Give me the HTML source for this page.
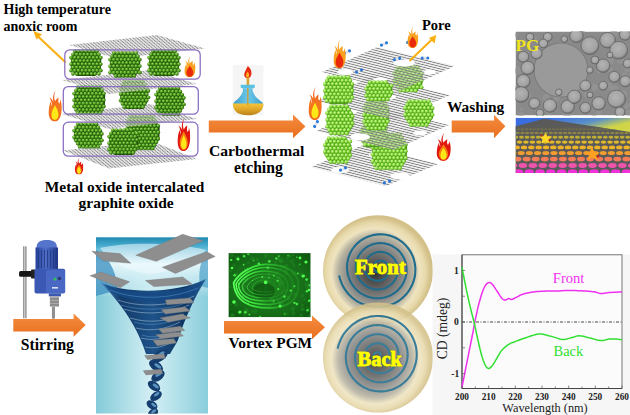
<!DOCTYPE html>
<html><head><meta charset="utf-8">
<style>
html,body{margin:0;padding:0;background:#fff;width:630px;height:415px;overflow:hidden}
svg{position:absolute;left:0;top:0;display:block}
text{font-family:"Liberation Serif",serif;font-weight:bold}
</style></head><body>
<svg width="630" height="415" viewBox="0 0 630 415">

<defs>
  <linearGradient id="arrowG" x1="0" y1="0" x2="0" y2="1">
    <stop offset="0" stop-color="#f48c40"/><stop offset="1" stop-color="#e96f1e"/>
  </linearGradient>
  <radialGradient id="ballD" cx="0.38" cy="0.35" r="0.7">
    <stop offset="0" stop-color="#a2e062"/><stop offset="0.5" stop-color="#4e9e1e"/><stop offset="1" stop-color="#225408"/>
  </radialGradient>
  <radialGradient id="ballL" cx="0.38" cy="0.35" r="0.7">
    <stop offset="0" stop-color="#dcffa8"/><stop offset="0.5" stop-color="#88dc3c"/><stop offset="1" stop-color="#4a9818"/>
  </radialGradient>
  <pattern id="balls" width="3.3" height="3.3" patternUnits="userSpaceOnUse">
    <rect width="3.3" height="3.3" fill="#2f6a10"/>
    <circle cx="1.65" cy="1.65" r="1.65" fill="url(#ballD)"/>
  </pattern>
  <pattern id="ballsL" width="3.5" height="3.5" patternUnits="userSpaceOnUse">
    <rect width="3.5" height="3.5" fill="#5aa828"/>
    <circle cx="1.75" cy="1.75" r="1.75" fill="url(#ballL)"/>
  </pattern>
  <pattern id="mesh" width="2.4" height="2.4" patternUnits="userSpaceOnUse" patternTransform="rotate(40)">
    <rect width="2.4" height="2.4" fill="#f6f6f6"/>
    <path d="M0 1.2H2.4" stroke="#858585" stroke-width="1"/>
    <path d="M1.2 0V2.4" stroke="#c8c8c8" stroke-width="0.5"/>
  </pattern>
  <pattern id="meshE" width="2.4" height="2.4" patternUnits="userSpaceOnUse" patternTransform="rotate(14)">
    <rect width="2.4" height="2.4" fill="#ffffff" fill-opacity="0.35"/>
    <path d="M0 1.2H2.4" stroke="#7c7c7c" stroke-width="1"/>
  </pattern>
  <pattern id="sheetTex" width="2" height="2" patternUnits="userSpaceOnUse">
    <rect width="2" height="2" fill="#8c8c8c"/>
    <rect width="1" height="1" fill="#9c9c9c"/>
    <rect x="1" y="1" width="1" height="1" fill="#7c7c7c"/>
  </pattern>
  <linearGradient id="flameG" x1="0" y1="0" x2="0" y2="1">
    <stop offset="0" stop-color="#f05020"/><stop offset="0.5" stop-color="#f47820"/><stop offset="1" stop-color="#f06818"/>
  </linearGradient>
  <linearGradient id="flameI" x1="0" y1="0" x2="0" y2="1">
    <stop offset="0" stop-color="#ffc030"/><stop offset="1" stop-color="#fff060"/>
  </linearGradient>
  <symbol id="flame" viewBox="0 0 20 40" preserveAspectRatio="none"><path d="M11 0 C9 4 8 9 10 14 C11 12 13 10 15 9 C15 13 14 15 16 17 C18 14 18 11 17 10 C20 16 20 24 19 29 C18 36 14 40 10 40 C5 40 1 36 1 29 C1 23 2 18 4 14 C4 17 5 19 6 20 C5 15 4 11 2 9 C5 10 7 13 8 15 C6 9 8 4 11 0 Z" fill="url(#flameG)"/><path d="M10 19 C12 23 15 26 15 31 C15 36 12 38 10 38 C7 38 5 36 5 31 C5 26 8 23 10 19 Z" fill="#ffe818"/></symbol>
  <symbol id="flameR" viewBox="0 0 20 40" preserveAspectRatio="none"><path d="M11 0 C9 4 8 9 10 14 C11 12 13 10 15 9 C15 13 14 15 16 17 C18 14 18 11 17 10 C20 16 20 24 19 29 C18 36 14 40 10 40 C5 40 1 36 1 29 C1 23 2 18 4 14 C4 17 5 19 6 20 C5 15 4 11 2 9 C5 10 7 13 8 15 C6 9 8 4 11 0 Z" fill="#e01810"/><path d="M10 16 C12 20 16 24 16 30 C16 35 13 39 10 39 C7 39 4 35 4 30 C4 24 8 20 10 16 Z" fill="#f88010"/><path d="M10 21 C12 25 14 28 14 32 C14 36 12 37.5 10 37.5 C8 37.5 6 36 6 32 C6 28 8 25 10 21 Z" fill="#ffe818"/></symbol>
  <symbol id="flameO" viewBox="0 0 20 40" preserveAspectRatio="none"><path d="M11 0 C9 4 8 9 10 14 C11 12 13 10 15 9 C15 13 14 15 16 17 C18 14 18 11 17 10 C20 16 20 24 19 29 C18 36 14 40 10 40 C5 40 1 36 1 29 C1 23 2 18 4 14 C4 17 5 19 6 20 C5 15 4 11 2 9 C5 10 7 13 8 15 C6 9 8 4 11 0 Z" fill="#f8a020"/><path d="M10 18 C12 22 16 26 16 31 C16 36 13 39 10 39 C7 39 4 36 4 31 C4 26 8 22 10 18 Z" fill="#e82a0a"/></symbol>
  <radialGradient id="diskG" cx="0.48" cy="0.52" r="0.5" fx="0.47" fy="0.53">
    <stop offset="0" stop-color="#333333"/>
    <stop offset="0.2" stop-color="#555555"/>
    <stop offset="0.5" stop-color="#8a8a88"/>
    <stop offset="0.68" stop-color="#b8b4a2"/>
    <stop offset="0.8" stop-color="#efe4c0"/>
    <stop offset="0.9" stop-color="#e8daac"/>
    <stop offset="1" stop-color="#d4c18a"/>
  </radialGradient>
  <linearGradient id="vbg" x1="0" y1="0" x2="1" y2="0">
    <stop offset="0" stop-color="#84cbd9"/><stop offset="0.5" stop-color="#d4eff4"/><stop offset="1" stop-color="#8acedc"/>
  </linearGradient>
  <linearGradient id="vtop" x1="0" y1="0" x2="0" y2="1">
    <stop offset="0" stop-color="#1f88b0"/><stop offset="0.15" stop-color="#4aaed0"/><stop offset="0.45" stop-color="#e4f6fa"/><stop offset="0.8" stop-color="#c8eaf2" stop-opacity="0.6"/><stop offset="1" stop-color="#c8eaf2" stop-opacity="0"/>
  </linearGradient>
  <linearGradient id="funnelG" x1="0" y1="0" x2="1" y2="0">
    <stop offset="0" stop-color="#4a8cc0"/><stop offset="0.2" stop-color="#123a6a"/><stop offset="0.5" stop-color="#1e5288"/><stop offset="0.8" stop-color="#0e3462"/><stop offset="1" stop-color="#2a6aa0"/>
  </linearGradient>
  <linearGradient id="gskyG" x1="0.3" y1="0" x2="0.8" y2="1">
    <stop offset="0" stop-color="#3a6ee0"/><stop offset="0.2" stop-color="#5a90c8"/><stop offset="0.35" stop-color="#d0d448"/><stop offset="1" stop-color="#e0e040"/>
  </linearGradient>
  <linearGradient id="ghexG" x1="0" y1="0" x2="0" y2="1">
    <stop offset="0" stop-color="#e8d020"/><stop offset="0.45" stop-color="#f0b028"/><stop offset="0.7" stop-color="#f07860"/><stop offset="1" stop-color="#f030d0"/>
  </linearGradient>
  <clipPath id="temClip"><rect x="515.5" y="31.5" width="114.5" height="84"/></clipPath>
  <clipPath id="gClip"><rect x="515.5" y="117.7" width="114.5" height="55.3"/></clipPath>
  <clipPath id="vClip"><rect x="96" y="237.2" width="112" height="176.5"/></clipPath>
  <clipPath id="grClip"><rect x="228.4" y="253.1" width="82.3" height="64.2"/></clipPath>
</defs>

<g fill="#000">
  <text x="3.5" y="14.3" font-size="14">High temperature</text>
  <text x="3.5" y="30.5" font-size="14">anoxic room</text>
  <text x="44.8" y="191.8" font-size="15.4">Metal oxide intercalated</text>
  <text x="78.5" y="207.8" font-size="15.5">graphite oxide</text>
  <text x="209" y="156.3" font-size="15.6">Carbothermal</text>
  <text x="234" y="173" font-size="15.7">etching</text>
  <text x="422" y="29.6" font-size="14.5">Pore</text>
  <text x="447" y="112.2" font-size="15.4">Washing</text>
  <text x="20.8" y="350.4" font-size="15.7">Stirring</text>
  <text x="228.5" y="348.4" font-size="15.4">Vortex PGM</text>
</g>
<g fill="url(#arrowG)">
  <path d="M208.8 120.5H293V114.5L305.5 126.4L293 138.2V132.4H208.8Z"/>
  <path d="M451.7 120.4H494V114.7L505.4 126.2L494 138.2V132.5H451.7Z"/>
  <path d="M13.3 319H73.6V313.6L85.7 325L73.6 336.7V331.4H13.3Z"/>
  <path d="M224 321H312V315.5L325 327.3L312 339.2V333.4H224Z"/>
</g>
<g id="p1">
  <path d="M65.7 62.4L37 35.5" stroke="#f9b014" stroke-width="2.1"/>
  <path d="M33.3 31L42 34.2L36.5 39.6Z" fill="#f9b014"/>
  <polygon points="69,45 157,35 205,48.5 117,58.5" fill="url(#mesh)"/>
  <polygon points="62,80 150,70 197,84 109,94" fill="url(#mesh)"/>
  <polygon points="62,114 150,104 197,119 109,129" fill="url(#mesh)"/>
  <polygon points="63,150.5 151,141 197,159 109,168.5" fill="url(#mesh)"/>
<g opacity="1.0"><polygon points="75.6,50.9 95.8,51.4 101.3,58.6 101.0,68.8 95.2,76.1 76.8,76.1 70.7,68.4 71.0,58.2" fill="#234e0a"/><circle cx="74.8" cy="51.1" r="1.9" fill="url(#ballD)"/><circle cx="78.5" cy="51.1" r="1.9" fill="url(#ballD)"/><circle cx="82.3" cy="51.1" r="1.9" fill="url(#ballD)"/><circle cx="86.0" cy="51.1" r="1.9" fill="url(#ballD)"/><circle cx="89.7" cy="51.1" r="1.9" fill="url(#ballD)"/><circle cx="93.4" cy="51.1" r="1.9" fill="url(#ballD)"/><circle cx="97.1" cy="51.1" r="1.9" fill="url(#ballD)"/><circle cx="73.0" cy="54.4" r="1.9" fill="url(#ballD)"/><circle cx="76.7" cy="54.4" r="1.9" fill="url(#ballD)"/><circle cx="80.4" cy="54.4" r="1.9" fill="url(#ballD)"/><circle cx="84.1" cy="54.4" r="1.9" fill="url(#ballD)"/><circle cx="87.8" cy="54.4" r="1.9" fill="url(#ballD)"/><circle cx="91.5" cy="54.4" r="1.9" fill="url(#ballD)"/><circle cx="95.2" cy="54.4" r="1.9" fill="url(#ballD)"/><circle cx="98.9" cy="54.4" r="1.9" fill="url(#ballD)"/><circle cx="71.1" cy="57.6" r="1.9" fill="url(#ballD)"/><circle cx="74.8" cy="57.6" r="1.9" fill="url(#ballD)"/><circle cx="78.5" cy="57.6" r="1.9" fill="url(#ballD)"/><circle cx="82.3" cy="57.6" r="1.9" fill="url(#ballD)"/><circle cx="86.0" cy="57.6" r="1.9" fill="url(#ballD)"/><circle cx="89.7" cy="57.6" r="1.9" fill="url(#ballD)"/><circle cx="93.4" cy="57.6" r="1.9" fill="url(#ballD)"/><circle cx="97.1" cy="57.6" r="1.9" fill="url(#ballD)"/><circle cx="100.8" cy="57.6" r="1.9" fill="url(#ballD)"/><circle cx="73.0" cy="60.8" r="1.9" fill="url(#ballD)"/><circle cx="76.7" cy="60.8" r="1.9" fill="url(#ballD)"/><circle cx="80.4" cy="60.8" r="1.9" fill="url(#ballD)"/><circle cx="84.1" cy="60.8" r="1.9" fill="url(#ballD)"/><circle cx="87.8" cy="60.8" r="1.9" fill="url(#ballD)"/><circle cx="91.5" cy="60.8" r="1.9" fill="url(#ballD)"/><circle cx="95.2" cy="60.8" r="1.9" fill="url(#ballD)"/><circle cx="98.9" cy="60.8" r="1.9" fill="url(#ballD)"/><circle cx="71.1" cy="64.1" r="1.9" fill="url(#ballD)"/><circle cx="74.8" cy="64.1" r="1.9" fill="url(#ballD)"/><circle cx="78.5" cy="64.1" r="1.9" fill="url(#ballD)"/><circle cx="82.3" cy="64.1" r="1.9" fill="url(#ballD)"/><circle cx="86.0" cy="64.1" r="1.9" fill="url(#ballD)"/><circle cx="89.7" cy="64.1" r="1.9" fill="url(#ballD)"/><circle cx="93.4" cy="64.1" r="1.9" fill="url(#ballD)"/><circle cx="97.1" cy="64.1" r="1.9" fill="url(#ballD)"/><circle cx="100.8" cy="64.1" r="1.9" fill="url(#ballD)"/><circle cx="73.0" cy="67.3" r="1.9" fill="url(#ballD)"/><circle cx="76.7" cy="67.3" r="1.9" fill="url(#ballD)"/><circle cx="80.4" cy="67.3" r="1.9" fill="url(#ballD)"/><circle cx="84.1" cy="67.3" r="1.9" fill="url(#ballD)"/><circle cx="87.8" cy="67.3" r="1.9" fill="url(#ballD)"/><circle cx="91.5" cy="67.3" r="1.9" fill="url(#ballD)"/><circle cx="95.2" cy="67.3" r="1.9" fill="url(#ballD)"/><circle cx="98.9" cy="67.3" r="1.9" fill="url(#ballD)"/><circle cx="71.1" cy="70.5" r="1.9" fill="url(#ballD)"/><circle cx="74.8" cy="70.5" r="1.9" fill="url(#ballD)"/><circle cx="78.5" cy="70.5" r="1.9" fill="url(#ballD)"/><circle cx="82.3" cy="70.5" r="1.9" fill="url(#ballD)"/><circle cx="86.0" cy="70.5" r="1.9" fill="url(#ballD)"/><circle cx="89.7" cy="70.5" r="1.9" fill="url(#ballD)"/><circle cx="93.4" cy="70.5" r="1.9" fill="url(#ballD)"/><circle cx="97.1" cy="70.5" r="1.9" fill="url(#ballD)"/><circle cx="100.8" cy="70.5" r="1.9" fill="url(#ballD)"/><circle cx="73.0" cy="73.8" r="1.9" fill="url(#ballD)"/><circle cx="76.7" cy="73.8" r="1.9" fill="url(#ballD)"/><circle cx="80.4" cy="73.8" r="1.9" fill="url(#ballD)"/><circle cx="84.1" cy="73.8" r="1.9" fill="url(#ballD)"/><circle cx="87.8" cy="73.8" r="1.9" fill="url(#ballD)"/><circle cx="91.5" cy="73.8" r="1.9" fill="url(#ballD)"/><circle cx="95.2" cy="73.8" r="1.9" fill="url(#ballD)"/><circle cx="98.9" cy="73.8" r="1.9" fill="url(#ballD)"/></g><g opacity="1.0"><polygon points="114.6,52.8 134.8,53.3 140.3,60.3 140.0,70.1 134.2,77.2 115.8,77.2 109.7,69.7 110.0,59.9" fill="#234e0a"/><circle cx="113.8" cy="53.1" r="1.9" fill="url(#ballD)"/><circle cx="117.5" cy="53.1" r="1.9" fill="url(#ballD)"/><circle cx="121.3" cy="53.1" r="1.9" fill="url(#ballD)"/><circle cx="125.0" cy="53.1" r="1.9" fill="url(#ballD)"/><circle cx="128.7" cy="53.1" r="1.9" fill="url(#ballD)"/><circle cx="132.4" cy="53.1" r="1.9" fill="url(#ballD)"/><circle cx="136.1" cy="53.1" r="1.9" fill="url(#ballD)"/><circle cx="112.0" cy="56.4" r="1.9" fill="url(#ballD)"/><circle cx="115.7" cy="56.4" r="1.9" fill="url(#ballD)"/><circle cx="119.4" cy="56.4" r="1.9" fill="url(#ballD)"/><circle cx="123.1" cy="56.4" r="1.9" fill="url(#ballD)"/><circle cx="126.8" cy="56.4" r="1.9" fill="url(#ballD)"/><circle cx="130.5" cy="56.4" r="1.9" fill="url(#ballD)"/><circle cx="134.2" cy="56.4" r="1.9" fill="url(#ballD)"/><circle cx="137.9" cy="56.4" r="1.9" fill="url(#ballD)"/><circle cx="110.1" cy="59.6" r="1.9" fill="url(#ballD)"/><circle cx="113.8" cy="59.6" r="1.9" fill="url(#ballD)"/><circle cx="117.5" cy="59.6" r="1.9" fill="url(#ballD)"/><circle cx="121.3" cy="59.6" r="1.9" fill="url(#ballD)"/><circle cx="125.0" cy="59.6" r="1.9" fill="url(#ballD)"/><circle cx="128.7" cy="59.6" r="1.9" fill="url(#ballD)"/><circle cx="132.4" cy="59.6" r="1.9" fill="url(#ballD)"/><circle cx="136.1" cy="59.6" r="1.9" fill="url(#ballD)"/><circle cx="139.8" cy="59.6" r="1.9" fill="url(#ballD)"/><circle cx="112.0" cy="62.8" r="1.9" fill="url(#ballD)"/><circle cx="115.7" cy="62.8" r="1.9" fill="url(#ballD)"/><circle cx="119.4" cy="62.8" r="1.9" fill="url(#ballD)"/><circle cx="123.1" cy="62.8" r="1.9" fill="url(#ballD)"/><circle cx="126.8" cy="62.8" r="1.9" fill="url(#ballD)"/><circle cx="130.5" cy="62.8" r="1.9" fill="url(#ballD)"/><circle cx="134.2" cy="62.8" r="1.9" fill="url(#ballD)"/><circle cx="137.9" cy="62.8" r="1.9" fill="url(#ballD)"/><circle cx="110.1" cy="66.1" r="1.9" fill="url(#ballD)"/><circle cx="113.8" cy="66.1" r="1.9" fill="url(#ballD)"/><circle cx="117.5" cy="66.1" r="1.9" fill="url(#ballD)"/><circle cx="121.3" cy="66.1" r="1.9" fill="url(#ballD)"/><circle cx="125.0" cy="66.1" r="1.9" fill="url(#ballD)"/><circle cx="128.7" cy="66.1" r="1.9" fill="url(#ballD)"/><circle cx="132.4" cy="66.1" r="1.9" fill="url(#ballD)"/><circle cx="136.1" cy="66.1" r="1.9" fill="url(#ballD)"/><circle cx="139.8" cy="66.1" r="1.9" fill="url(#ballD)"/><circle cx="112.0" cy="69.3" r="1.9" fill="url(#ballD)"/><circle cx="115.7" cy="69.3" r="1.9" fill="url(#ballD)"/><circle cx="119.4" cy="69.3" r="1.9" fill="url(#ballD)"/><circle cx="123.1" cy="69.3" r="1.9" fill="url(#ballD)"/><circle cx="126.8" cy="69.3" r="1.9" fill="url(#ballD)"/><circle cx="130.5" cy="69.3" r="1.9" fill="url(#ballD)"/><circle cx="134.2" cy="69.3" r="1.9" fill="url(#ballD)"/><circle cx="137.9" cy="69.3" r="1.9" fill="url(#ballD)"/><circle cx="110.1" cy="72.5" r="1.9" fill="url(#ballD)"/><circle cx="113.8" cy="72.5" r="1.9" fill="url(#ballD)"/><circle cx="117.5" cy="72.5" r="1.9" fill="url(#ballD)"/><circle cx="121.3" cy="72.5" r="1.9" fill="url(#ballD)"/><circle cx="125.0" cy="72.5" r="1.9" fill="url(#ballD)"/><circle cx="128.7" cy="72.5" r="1.9" fill="url(#ballD)"/><circle cx="132.4" cy="72.5" r="1.9" fill="url(#ballD)"/><circle cx="136.1" cy="72.5" r="1.9" fill="url(#ballD)"/><circle cx="139.8" cy="72.5" r="1.9" fill="url(#ballD)"/><circle cx="115.7" cy="75.8" r="1.9" fill="url(#ballD)"/><circle cx="119.4" cy="75.8" r="1.9" fill="url(#ballD)"/><circle cx="123.1" cy="75.8" r="1.9" fill="url(#ballD)"/><circle cx="126.8" cy="75.8" r="1.9" fill="url(#ballD)"/><circle cx="130.5" cy="75.8" r="1.9" fill="url(#ballD)"/><circle cx="134.2" cy="75.8" r="1.9" fill="url(#ballD)"/></g><g opacity="1.0"><polygon points="153.6,50.9 173.8,51.4 179.3,58.6 179.0,68.8 173.2,76.1 154.8,76.1 148.7,68.4 149.0,58.2" fill="#234e0a"/><circle cx="152.8" cy="51.1" r="1.9" fill="url(#ballD)"/><circle cx="156.6" cy="51.1" r="1.9" fill="url(#ballD)"/><circle cx="160.3" cy="51.1" r="1.9" fill="url(#ballD)"/><circle cx="164.0" cy="51.1" r="1.9" fill="url(#ballD)"/><circle cx="167.7" cy="51.1" r="1.9" fill="url(#ballD)"/><circle cx="171.4" cy="51.1" r="1.9" fill="url(#ballD)"/><circle cx="175.1" cy="51.1" r="1.9" fill="url(#ballD)"/><circle cx="151.0" cy="54.4" r="1.9" fill="url(#ballD)"/><circle cx="154.7" cy="54.4" r="1.9" fill="url(#ballD)"/><circle cx="158.4" cy="54.4" r="1.9" fill="url(#ballD)"/><circle cx="162.1" cy="54.4" r="1.9" fill="url(#ballD)"/><circle cx="165.8" cy="54.4" r="1.9" fill="url(#ballD)"/><circle cx="169.5" cy="54.4" r="1.9" fill="url(#ballD)"/><circle cx="173.2" cy="54.4" r="1.9" fill="url(#ballD)"/><circle cx="176.9" cy="54.4" r="1.9" fill="url(#ballD)"/><circle cx="149.1" cy="57.6" r="1.9" fill="url(#ballD)"/><circle cx="152.8" cy="57.6" r="1.9" fill="url(#ballD)"/><circle cx="156.6" cy="57.6" r="1.9" fill="url(#ballD)"/><circle cx="160.3" cy="57.6" r="1.9" fill="url(#ballD)"/><circle cx="164.0" cy="57.6" r="1.9" fill="url(#ballD)"/><circle cx="167.7" cy="57.6" r="1.9" fill="url(#ballD)"/><circle cx="171.4" cy="57.6" r="1.9" fill="url(#ballD)"/><circle cx="175.1" cy="57.6" r="1.9" fill="url(#ballD)"/><circle cx="178.8" cy="57.6" r="1.9" fill="url(#ballD)"/><circle cx="151.0" cy="60.8" r="1.9" fill="url(#ballD)"/><circle cx="154.7" cy="60.8" r="1.9" fill="url(#ballD)"/><circle cx="158.4" cy="60.8" r="1.9" fill="url(#ballD)"/><circle cx="162.1" cy="60.8" r="1.9" fill="url(#ballD)"/><circle cx="165.8" cy="60.8" r="1.9" fill="url(#ballD)"/><circle cx="169.5" cy="60.8" r="1.9" fill="url(#ballD)"/><circle cx="173.2" cy="60.8" r="1.9" fill="url(#ballD)"/><circle cx="176.9" cy="60.8" r="1.9" fill="url(#ballD)"/><circle cx="149.1" cy="64.1" r="1.9" fill="url(#ballD)"/><circle cx="152.8" cy="64.1" r="1.9" fill="url(#ballD)"/><circle cx="156.6" cy="64.1" r="1.9" fill="url(#ballD)"/><circle cx="160.3" cy="64.1" r="1.9" fill="url(#ballD)"/><circle cx="164.0" cy="64.1" r="1.9" fill="url(#ballD)"/><circle cx="167.7" cy="64.1" r="1.9" fill="url(#ballD)"/><circle cx="171.4" cy="64.1" r="1.9" fill="url(#ballD)"/><circle cx="175.1" cy="64.1" r="1.9" fill="url(#ballD)"/><circle cx="178.8" cy="64.1" r="1.9" fill="url(#ballD)"/><circle cx="151.0" cy="67.3" r="1.9" fill="url(#ballD)"/><circle cx="154.7" cy="67.3" r="1.9" fill="url(#ballD)"/><circle cx="158.4" cy="67.3" r="1.9" fill="url(#ballD)"/><circle cx="162.1" cy="67.3" r="1.9" fill="url(#ballD)"/><circle cx="165.8" cy="67.3" r="1.9" fill="url(#ballD)"/><circle cx="169.5" cy="67.3" r="1.9" fill="url(#ballD)"/><circle cx="173.2" cy="67.3" r="1.9" fill="url(#ballD)"/><circle cx="176.9" cy="67.3" r="1.9" fill="url(#ballD)"/><circle cx="149.1" cy="70.5" r="1.9" fill="url(#ballD)"/><circle cx="152.8" cy="70.5" r="1.9" fill="url(#ballD)"/><circle cx="156.6" cy="70.5" r="1.9" fill="url(#ballD)"/><circle cx="160.3" cy="70.5" r="1.9" fill="url(#ballD)"/><circle cx="164.0" cy="70.5" r="1.9" fill="url(#ballD)"/><circle cx="167.7" cy="70.5" r="1.9" fill="url(#ballD)"/><circle cx="171.4" cy="70.5" r="1.9" fill="url(#ballD)"/><circle cx="175.1" cy="70.5" r="1.9" fill="url(#ballD)"/><circle cx="178.8" cy="70.5" r="1.9" fill="url(#ballD)"/><circle cx="151.0" cy="73.8" r="1.9" fill="url(#ballD)"/><circle cx="154.7" cy="73.8" r="1.9" fill="url(#ballD)"/><circle cx="158.4" cy="73.8" r="1.9" fill="url(#ballD)"/><circle cx="162.1" cy="73.8" r="1.9" fill="url(#ballD)"/><circle cx="165.8" cy="73.8" r="1.9" fill="url(#ballD)"/><circle cx="169.5" cy="73.8" r="1.9" fill="url(#ballD)"/><circle cx="173.2" cy="73.8" r="1.9" fill="url(#ballD)"/><circle cx="176.9" cy="73.8" r="1.9" fill="url(#ballD)"/></g><g opacity="1.0"><polygon points="78.8,86.9 99.6,87.4 105.2,95.0 104.9,105.5 99.0,113.1 80.0,113.1 73.8,105.0 74.1,94.5" fill="#234e0a"/><circle cx="77.8" cy="87.1" r="1.9" fill="url(#ballD)"/><circle cx="81.5" cy="87.1" r="1.9" fill="url(#ballD)"/><circle cx="85.3" cy="87.1" r="1.9" fill="url(#ballD)"/><circle cx="89.0" cy="87.1" r="1.9" fill="url(#ballD)"/><circle cx="92.7" cy="87.1" r="1.9" fill="url(#ballD)"/><circle cx="96.4" cy="87.1" r="1.9" fill="url(#ballD)"/><circle cx="100.1" cy="87.1" r="1.9" fill="url(#ballD)"/><circle cx="76.0" cy="90.4" r="1.9" fill="url(#ballD)"/><circle cx="79.7" cy="90.4" r="1.9" fill="url(#ballD)"/><circle cx="83.4" cy="90.4" r="1.9" fill="url(#ballD)"/><circle cx="87.1" cy="90.4" r="1.9" fill="url(#ballD)"/><circle cx="90.8" cy="90.4" r="1.9" fill="url(#ballD)"/><circle cx="94.5" cy="90.4" r="1.9" fill="url(#ballD)"/><circle cx="98.2" cy="90.4" r="1.9" fill="url(#ballD)"/><circle cx="101.9" cy="90.4" r="1.9" fill="url(#ballD)"/><circle cx="74.1" cy="93.6" r="1.9" fill="url(#ballD)"/><circle cx="77.8" cy="93.6" r="1.9" fill="url(#ballD)"/><circle cx="81.5" cy="93.6" r="1.9" fill="url(#ballD)"/><circle cx="85.3" cy="93.6" r="1.9" fill="url(#ballD)"/><circle cx="89.0" cy="93.6" r="1.9" fill="url(#ballD)"/><circle cx="92.7" cy="93.6" r="1.9" fill="url(#ballD)"/><circle cx="96.4" cy="93.6" r="1.9" fill="url(#ballD)"/><circle cx="100.1" cy="93.6" r="1.9" fill="url(#ballD)"/><circle cx="103.8" cy="93.6" r="1.9" fill="url(#ballD)"/><circle cx="76.0" cy="96.8" r="1.9" fill="url(#ballD)"/><circle cx="79.7" cy="96.8" r="1.9" fill="url(#ballD)"/><circle cx="83.4" cy="96.8" r="1.9" fill="url(#ballD)"/><circle cx="87.1" cy="96.8" r="1.9" fill="url(#ballD)"/><circle cx="90.8" cy="96.8" r="1.9" fill="url(#ballD)"/><circle cx="94.5" cy="96.8" r="1.9" fill="url(#ballD)"/><circle cx="98.2" cy="96.8" r="1.9" fill="url(#ballD)"/><circle cx="101.9" cy="96.8" r="1.9" fill="url(#ballD)"/><circle cx="74.1" cy="100.1" r="1.9" fill="url(#ballD)"/><circle cx="77.8" cy="100.1" r="1.9" fill="url(#ballD)"/><circle cx="81.5" cy="100.1" r="1.9" fill="url(#ballD)"/><circle cx="85.3" cy="100.1" r="1.9" fill="url(#ballD)"/><circle cx="89.0" cy="100.1" r="1.9" fill="url(#ballD)"/><circle cx="92.7" cy="100.1" r="1.9" fill="url(#ballD)"/><circle cx="96.4" cy="100.1" r="1.9" fill="url(#ballD)"/><circle cx="100.1" cy="100.1" r="1.9" fill="url(#ballD)"/><circle cx="103.8" cy="100.1" r="1.9" fill="url(#ballD)"/><circle cx="76.0" cy="103.3" r="1.9" fill="url(#ballD)"/><circle cx="79.7" cy="103.3" r="1.9" fill="url(#ballD)"/><circle cx="83.4" cy="103.3" r="1.9" fill="url(#ballD)"/><circle cx="87.1" cy="103.3" r="1.9" fill="url(#ballD)"/><circle cx="90.8" cy="103.3" r="1.9" fill="url(#ballD)"/><circle cx="94.5" cy="103.3" r="1.9" fill="url(#ballD)"/><circle cx="98.2" cy="103.3" r="1.9" fill="url(#ballD)"/><circle cx="101.9" cy="103.3" r="1.9" fill="url(#ballD)"/><circle cx="74.1" cy="106.5" r="1.9" fill="url(#ballD)"/><circle cx="77.8" cy="106.5" r="1.9" fill="url(#ballD)"/><circle cx="81.5" cy="106.5" r="1.9" fill="url(#ballD)"/><circle cx="85.3" cy="106.5" r="1.9" fill="url(#ballD)"/><circle cx="89.0" cy="106.5" r="1.9" fill="url(#ballD)"/><circle cx="92.7" cy="106.5" r="1.9" fill="url(#ballD)"/><circle cx="96.4" cy="106.5" r="1.9" fill="url(#ballD)"/><circle cx="100.1" cy="106.5" r="1.9" fill="url(#ballD)"/><circle cx="103.8" cy="106.5" r="1.9" fill="url(#ballD)"/><circle cx="76.0" cy="109.8" r="1.9" fill="url(#ballD)"/><circle cx="79.7" cy="109.8" r="1.9" fill="url(#ballD)"/><circle cx="83.4" cy="109.8" r="1.9" fill="url(#ballD)"/><circle cx="87.1" cy="109.8" r="1.9" fill="url(#ballD)"/><circle cx="90.8" cy="109.8" r="1.9" fill="url(#ballD)"/><circle cx="94.5" cy="109.8" r="1.9" fill="url(#ballD)"/><circle cx="98.2" cy="109.8" r="1.9" fill="url(#ballD)"/><circle cx="101.9" cy="109.8" r="1.9" fill="url(#ballD)"/><circle cx="77.8" cy="113.0" r="1.9" fill="url(#ballD)"/><circle cx="81.5" cy="113.0" r="1.9" fill="url(#ballD)"/><circle cx="85.3" cy="113.0" r="1.9" fill="url(#ballD)"/><circle cx="89.0" cy="113.0" r="1.9" fill="url(#ballD)"/><circle cx="92.7" cy="113.0" r="1.9" fill="url(#ballD)"/><circle cx="96.4" cy="113.0" r="1.9" fill="url(#ballD)"/><circle cx="100.1" cy="113.0" r="1.9" fill="url(#ballD)"/></g><g opacity="1.0"><polygon points="124.7,81.0 143.3,81.5 148.3,89.6 148.1,100.9 142.7,109.0 125.8,109.0 120.2,100.4 120.4,89.1" fill="#234e0a"/><circle cx="124.3" cy="81.1" r="1.9" fill="url(#ballD)"/><circle cx="128.1" cy="81.1" r="1.9" fill="url(#ballD)"/><circle cx="131.8" cy="81.1" r="1.9" fill="url(#ballD)"/><circle cx="135.5" cy="81.1" r="1.9" fill="url(#ballD)"/><circle cx="139.2" cy="81.1" r="1.9" fill="url(#ballD)"/><circle cx="142.9" cy="81.1" r="1.9" fill="url(#ballD)"/><circle cx="122.5" cy="84.4" r="1.9" fill="url(#ballD)"/><circle cx="126.2" cy="84.4" r="1.9" fill="url(#ballD)"/><circle cx="129.9" cy="84.4" r="1.9" fill="url(#ballD)"/><circle cx="133.6" cy="84.4" r="1.9" fill="url(#ballD)"/><circle cx="137.3" cy="84.4" r="1.9" fill="url(#ballD)"/><circle cx="141.0" cy="84.4" r="1.9" fill="url(#ballD)"/><circle cx="144.7" cy="84.4" r="1.9" fill="url(#ballD)"/><circle cx="120.6" cy="87.6" r="1.9" fill="url(#ballD)"/><circle cx="124.3" cy="87.6" r="1.9" fill="url(#ballD)"/><circle cx="128.1" cy="87.6" r="1.9" fill="url(#ballD)"/><circle cx="131.8" cy="87.6" r="1.9" fill="url(#ballD)"/><circle cx="135.5" cy="87.6" r="1.9" fill="url(#ballD)"/><circle cx="139.2" cy="87.6" r="1.9" fill="url(#ballD)"/><circle cx="142.9" cy="87.6" r="1.9" fill="url(#ballD)"/><circle cx="146.6" cy="87.6" r="1.9" fill="url(#ballD)"/><circle cx="122.5" cy="90.8" r="1.9" fill="url(#ballD)"/><circle cx="126.2" cy="90.8" r="1.9" fill="url(#ballD)"/><circle cx="129.9" cy="90.8" r="1.9" fill="url(#ballD)"/><circle cx="133.6" cy="90.8" r="1.9" fill="url(#ballD)"/><circle cx="137.3" cy="90.8" r="1.9" fill="url(#ballD)"/><circle cx="141.0" cy="90.8" r="1.9" fill="url(#ballD)"/><circle cx="144.7" cy="90.8" r="1.9" fill="url(#ballD)"/><circle cx="148.4" cy="90.8" r="1.9" fill="url(#ballD)"/><circle cx="120.6" cy="94.1" r="1.9" fill="url(#ballD)"/><circle cx="124.3" cy="94.1" r="1.9" fill="url(#ballD)"/><circle cx="128.1" cy="94.1" r="1.9" fill="url(#ballD)"/><circle cx="131.8" cy="94.1" r="1.9" fill="url(#ballD)"/><circle cx="135.5" cy="94.1" r="1.9" fill="url(#ballD)"/><circle cx="139.2" cy="94.1" r="1.9" fill="url(#ballD)"/><circle cx="142.9" cy="94.1" r="1.9" fill="url(#ballD)"/><circle cx="146.6" cy="94.1" r="1.9" fill="url(#ballD)"/><circle cx="122.5" cy="97.3" r="1.9" fill="url(#ballD)"/><circle cx="126.2" cy="97.3" r="1.9" fill="url(#ballD)"/><circle cx="129.9" cy="97.3" r="1.9" fill="url(#ballD)"/><circle cx="133.6" cy="97.3" r="1.9" fill="url(#ballD)"/><circle cx="137.3" cy="97.3" r="1.9" fill="url(#ballD)"/><circle cx="141.0" cy="97.3" r="1.9" fill="url(#ballD)"/><circle cx="144.7" cy="97.3" r="1.9" fill="url(#ballD)"/><circle cx="148.4" cy="97.3" r="1.9" fill="url(#ballD)"/><circle cx="120.6" cy="100.5" r="1.9" fill="url(#ballD)"/><circle cx="124.3" cy="100.5" r="1.9" fill="url(#ballD)"/><circle cx="128.1" cy="100.5" r="1.9" fill="url(#ballD)"/><circle cx="131.8" cy="100.5" r="1.9" fill="url(#ballD)"/><circle cx="135.5" cy="100.5" r="1.9" fill="url(#ballD)"/><circle cx="139.2" cy="100.5" r="1.9" fill="url(#ballD)"/><circle cx="142.9" cy="100.5" r="1.9" fill="url(#ballD)"/><circle cx="146.6" cy="100.5" r="1.9" fill="url(#ballD)"/><circle cx="122.5" cy="103.8" r="1.9" fill="url(#ballD)"/><circle cx="126.2" cy="103.8" r="1.9" fill="url(#ballD)"/><circle cx="129.9" cy="103.8" r="1.9" fill="url(#ballD)"/><circle cx="133.6" cy="103.8" r="1.9" fill="url(#ballD)"/><circle cx="137.3" cy="103.8" r="1.9" fill="url(#ballD)"/><circle cx="141.0" cy="103.8" r="1.9" fill="url(#ballD)"/><circle cx="144.7" cy="103.8" r="1.9" fill="url(#ballD)"/><circle cx="124.3" cy="107.0" r="1.9" fill="url(#ballD)"/><circle cx="128.1" cy="107.0" r="1.9" fill="url(#ballD)"/><circle cx="131.8" cy="107.0" r="1.9" fill="url(#ballD)"/><circle cx="135.5" cy="107.0" r="1.9" fill="url(#ballD)"/><circle cx="139.2" cy="107.0" r="1.9" fill="url(#ballD)"/><circle cx="142.9" cy="107.0" r="1.9" fill="url(#ballD)"/></g><g opacity="1.0"><polygon points="160.3,87.9 179.2,88.4 184.3,96.0 184.0,106.5 178.6,114.1 161.4,114.1 155.7,106.0 156.0,95.5" fill="#234e0a"/><circle cx="159.8" cy="88.1" r="1.9" fill="url(#ballD)"/><circle cx="163.6" cy="88.1" r="1.9" fill="url(#ballD)"/><circle cx="167.3" cy="88.1" r="1.9" fill="url(#ballD)"/><circle cx="171.0" cy="88.1" r="1.9" fill="url(#ballD)"/><circle cx="174.7" cy="88.1" r="1.9" fill="url(#ballD)"/><circle cx="178.4" cy="88.1" r="1.9" fill="url(#ballD)"/><circle cx="158.0" cy="91.4" r="1.9" fill="url(#ballD)"/><circle cx="161.7" cy="91.4" r="1.9" fill="url(#ballD)"/><circle cx="165.4" cy="91.4" r="1.9" fill="url(#ballD)"/><circle cx="169.1" cy="91.4" r="1.9" fill="url(#ballD)"/><circle cx="172.8" cy="91.4" r="1.9" fill="url(#ballD)"/><circle cx="176.5" cy="91.4" r="1.9" fill="url(#ballD)"/><circle cx="180.2" cy="91.4" r="1.9" fill="url(#ballD)"/><circle cx="156.1" cy="94.6" r="1.9" fill="url(#ballD)"/><circle cx="159.8" cy="94.6" r="1.9" fill="url(#ballD)"/><circle cx="163.6" cy="94.6" r="1.9" fill="url(#ballD)"/><circle cx="167.3" cy="94.6" r="1.9" fill="url(#ballD)"/><circle cx="171.0" cy="94.6" r="1.9" fill="url(#ballD)"/><circle cx="174.7" cy="94.6" r="1.9" fill="url(#ballD)"/><circle cx="178.4" cy="94.6" r="1.9" fill="url(#ballD)"/><circle cx="182.1" cy="94.6" r="1.9" fill="url(#ballD)"/><circle cx="158.0" cy="97.8" r="1.9" fill="url(#ballD)"/><circle cx="161.7" cy="97.8" r="1.9" fill="url(#ballD)"/><circle cx="165.4" cy="97.8" r="1.9" fill="url(#ballD)"/><circle cx="169.1" cy="97.8" r="1.9" fill="url(#ballD)"/><circle cx="172.8" cy="97.8" r="1.9" fill="url(#ballD)"/><circle cx="176.5" cy="97.8" r="1.9" fill="url(#ballD)"/><circle cx="180.2" cy="97.8" r="1.9" fill="url(#ballD)"/><circle cx="183.9" cy="97.8" r="1.9" fill="url(#ballD)"/><circle cx="156.1" cy="101.1" r="1.9" fill="url(#ballD)"/><circle cx="159.8" cy="101.1" r="1.9" fill="url(#ballD)"/><circle cx="163.6" cy="101.1" r="1.9" fill="url(#ballD)"/><circle cx="167.3" cy="101.1" r="1.9" fill="url(#ballD)"/><circle cx="171.0" cy="101.1" r="1.9" fill="url(#ballD)"/><circle cx="174.7" cy="101.1" r="1.9" fill="url(#ballD)"/><circle cx="178.4" cy="101.1" r="1.9" fill="url(#ballD)"/><circle cx="182.1" cy="101.1" r="1.9" fill="url(#ballD)"/><circle cx="158.0" cy="104.3" r="1.9" fill="url(#ballD)"/><circle cx="161.7" cy="104.3" r="1.9" fill="url(#ballD)"/><circle cx="165.4" cy="104.3" r="1.9" fill="url(#ballD)"/><circle cx="169.1" cy="104.3" r="1.9" fill="url(#ballD)"/><circle cx="172.8" cy="104.3" r="1.9" fill="url(#ballD)"/><circle cx="176.5" cy="104.3" r="1.9" fill="url(#ballD)"/><circle cx="180.2" cy="104.3" r="1.9" fill="url(#ballD)"/><circle cx="183.9" cy="104.3" r="1.9" fill="url(#ballD)"/><circle cx="156.1" cy="107.5" r="1.9" fill="url(#ballD)"/><circle cx="159.8" cy="107.5" r="1.9" fill="url(#ballD)"/><circle cx="163.6" cy="107.5" r="1.9" fill="url(#ballD)"/><circle cx="167.3" cy="107.5" r="1.9" fill="url(#ballD)"/><circle cx="171.0" cy="107.5" r="1.9" fill="url(#ballD)"/><circle cx="174.7" cy="107.5" r="1.9" fill="url(#ballD)"/><circle cx="178.4" cy="107.5" r="1.9" fill="url(#ballD)"/><circle cx="182.1" cy="107.5" r="1.9" fill="url(#ballD)"/><circle cx="158.0" cy="110.8" r="1.9" fill="url(#ballD)"/><circle cx="161.7" cy="110.8" r="1.9" fill="url(#ballD)"/><circle cx="165.4" cy="110.8" r="1.9" fill="url(#ballD)"/><circle cx="169.1" cy="110.8" r="1.9" fill="url(#ballD)"/><circle cx="172.8" cy="110.8" r="1.9" fill="url(#ballD)"/><circle cx="176.5" cy="110.8" r="1.9" fill="url(#ballD)"/><circle cx="180.2" cy="110.8" r="1.9" fill="url(#ballD)"/><circle cx="159.8" cy="114.0" r="1.9" fill="url(#ballD)"/><circle cx="163.6" cy="114.0" r="1.9" fill="url(#ballD)"/><circle cx="167.3" cy="114.0" r="1.9" fill="url(#ballD)"/><circle cx="171.0" cy="114.0" r="1.9" fill="url(#ballD)"/><circle cx="174.7" cy="114.0" r="1.9" fill="url(#ballD)"/><circle cx="178.4" cy="114.0" r="1.9" fill="url(#ballD)"/></g><g opacity="1.0"><polygon points="78.3,123.8 97.2,124.2 102.3,131.0 102.0,140.4 96.6,147.2 79.4,147.2 73.7,140.0 74.0,130.6" fill="#234e0a"/><circle cx="77.8" cy="124.1" r="1.9" fill="url(#ballD)"/><circle cx="81.5" cy="124.1" r="1.9" fill="url(#ballD)"/><circle cx="85.3" cy="124.1" r="1.9" fill="url(#ballD)"/><circle cx="89.0" cy="124.1" r="1.9" fill="url(#ballD)"/><circle cx="92.7" cy="124.1" r="1.9" fill="url(#ballD)"/><circle cx="96.4" cy="124.1" r="1.9" fill="url(#ballD)"/><circle cx="76.0" cy="127.4" r="1.9" fill="url(#ballD)"/><circle cx="79.7" cy="127.4" r="1.9" fill="url(#ballD)"/><circle cx="83.4" cy="127.4" r="1.9" fill="url(#ballD)"/><circle cx="87.1" cy="127.4" r="1.9" fill="url(#ballD)"/><circle cx="90.8" cy="127.4" r="1.9" fill="url(#ballD)"/><circle cx="94.5" cy="127.4" r="1.9" fill="url(#ballD)"/><circle cx="98.2" cy="127.4" r="1.9" fill="url(#ballD)"/><circle cx="74.1" cy="130.6" r="1.9" fill="url(#ballD)"/><circle cx="77.8" cy="130.6" r="1.9" fill="url(#ballD)"/><circle cx="81.5" cy="130.6" r="1.9" fill="url(#ballD)"/><circle cx="85.3" cy="130.6" r="1.9" fill="url(#ballD)"/><circle cx="89.0" cy="130.6" r="1.9" fill="url(#ballD)"/><circle cx="92.7" cy="130.6" r="1.9" fill="url(#ballD)"/><circle cx="96.4" cy="130.6" r="1.9" fill="url(#ballD)"/><circle cx="100.1" cy="130.6" r="1.9" fill="url(#ballD)"/><circle cx="76.0" cy="133.8" r="1.9" fill="url(#ballD)"/><circle cx="79.7" cy="133.8" r="1.9" fill="url(#ballD)"/><circle cx="83.4" cy="133.8" r="1.9" fill="url(#ballD)"/><circle cx="87.1" cy="133.8" r="1.9" fill="url(#ballD)"/><circle cx="90.8" cy="133.8" r="1.9" fill="url(#ballD)"/><circle cx="94.5" cy="133.8" r="1.9" fill="url(#ballD)"/><circle cx="98.2" cy="133.8" r="1.9" fill="url(#ballD)"/><circle cx="101.9" cy="133.8" r="1.9" fill="url(#ballD)"/><circle cx="74.1" cy="137.1" r="1.9" fill="url(#ballD)"/><circle cx="77.8" cy="137.1" r="1.9" fill="url(#ballD)"/><circle cx="81.5" cy="137.1" r="1.9" fill="url(#ballD)"/><circle cx="85.3" cy="137.1" r="1.9" fill="url(#ballD)"/><circle cx="89.0" cy="137.1" r="1.9" fill="url(#ballD)"/><circle cx="92.7" cy="137.1" r="1.9" fill="url(#ballD)"/><circle cx="96.4" cy="137.1" r="1.9" fill="url(#ballD)"/><circle cx="100.1" cy="137.1" r="1.9" fill="url(#ballD)"/><circle cx="76.0" cy="140.3" r="1.9" fill="url(#ballD)"/><circle cx="79.7" cy="140.3" r="1.9" fill="url(#ballD)"/><circle cx="83.4" cy="140.3" r="1.9" fill="url(#ballD)"/><circle cx="87.1" cy="140.3" r="1.9" fill="url(#ballD)"/><circle cx="90.8" cy="140.3" r="1.9" fill="url(#ballD)"/><circle cx="94.5" cy="140.3" r="1.9" fill="url(#ballD)"/><circle cx="98.2" cy="140.3" r="1.9" fill="url(#ballD)"/><circle cx="101.9" cy="140.3" r="1.9" fill="url(#ballD)"/><circle cx="77.8" cy="143.5" r="1.9" fill="url(#ballD)"/><circle cx="81.5" cy="143.5" r="1.9" fill="url(#ballD)"/><circle cx="85.3" cy="143.5" r="1.9" fill="url(#ballD)"/><circle cx="89.0" cy="143.5" r="1.9" fill="url(#ballD)"/><circle cx="92.7" cy="143.5" r="1.9" fill="url(#ballD)"/><circle cx="96.4" cy="143.5" r="1.9" fill="url(#ballD)"/><circle cx="100.1" cy="143.5" r="1.9" fill="url(#ballD)"/><circle cx="79.7" cy="146.7" r="1.9" fill="url(#ballD)"/><circle cx="83.4" cy="146.7" r="1.9" fill="url(#ballD)"/><circle cx="87.1" cy="146.7" r="1.9" fill="url(#ballD)"/><circle cx="90.8" cy="146.7" r="1.9" fill="url(#ballD)"/><circle cx="94.5" cy="146.7" r="1.9" fill="url(#ballD)"/><circle cx="98.2" cy="146.7" r="1.9" fill="url(#ballD)"/></g><g opacity="1.0"><polygon points="131.7,116.1 153.7,116.8 159.7,126.2 159.4,139.4 153.1,148.9 133.0,148.9 126.4,138.8 126.7,125.6" fill="#234e0a"/><circle cx="130.4" cy="116.1" r="1.9" fill="url(#ballD)"/><circle cx="134.2" cy="116.1" r="1.9" fill="url(#ballD)"/><circle cx="137.9" cy="116.1" r="1.9" fill="url(#ballD)"/><circle cx="141.6" cy="116.1" r="1.9" fill="url(#ballD)"/><circle cx="145.3" cy="116.1" r="1.9" fill="url(#ballD)"/><circle cx="149.0" cy="116.1" r="1.9" fill="url(#ballD)"/><circle cx="152.7" cy="116.1" r="1.9" fill="url(#ballD)"/><circle cx="128.6" cy="119.4" r="1.9" fill="url(#ballD)"/><circle cx="132.3" cy="119.4" r="1.9" fill="url(#ballD)"/><circle cx="136.0" cy="119.4" r="1.9" fill="url(#ballD)"/><circle cx="139.7" cy="119.4" r="1.9" fill="url(#ballD)"/><circle cx="143.4" cy="119.4" r="1.9" fill="url(#ballD)"/><circle cx="147.1" cy="119.4" r="1.9" fill="url(#ballD)"/><circle cx="150.8" cy="119.4" r="1.9" fill="url(#ballD)"/><circle cx="154.5" cy="119.4" r="1.9" fill="url(#ballD)"/><circle cx="126.7" cy="122.6" r="1.9" fill="url(#ballD)"/><circle cx="130.4" cy="122.6" r="1.9" fill="url(#ballD)"/><circle cx="134.2" cy="122.6" r="1.9" fill="url(#ballD)"/><circle cx="137.9" cy="122.6" r="1.9" fill="url(#ballD)"/><circle cx="141.6" cy="122.6" r="1.9" fill="url(#ballD)"/><circle cx="145.3" cy="122.6" r="1.9" fill="url(#ballD)"/><circle cx="149.0" cy="122.6" r="1.9" fill="url(#ballD)"/><circle cx="152.7" cy="122.6" r="1.9" fill="url(#ballD)"/><circle cx="156.4" cy="122.6" r="1.9" fill="url(#ballD)"/><circle cx="128.6" cy="125.8" r="1.9" fill="url(#ballD)"/><circle cx="132.3" cy="125.8" r="1.9" fill="url(#ballD)"/><circle cx="136.0" cy="125.8" r="1.9" fill="url(#ballD)"/><circle cx="139.7" cy="125.8" r="1.9" fill="url(#ballD)"/><circle cx="143.4" cy="125.8" r="1.9" fill="url(#ballD)"/><circle cx="147.1" cy="125.8" r="1.9" fill="url(#ballD)"/><circle cx="150.8" cy="125.8" r="1.9" fill="url(#ballD)"/><circle cx="154.5" cy="125.8" r="1.9" fill="url(#ballD)"/><circle cx="158.2" cy="125.8" r="1.9" fill="url(#ballD)"/><circle cx="126.7" cy="129.1" r="1.9" fill="url(#ballD)"/><circle cx="130.4" cy="129.1" r="1.9" fill="url(#ballD)"/><circle cx="134.2" cy="129.1" r="1.9" fill="url(#ballD)"/><circle cx="137.9" cy="129.1" r="1.9" fill="url(#ballD)"/><circle cx="141.6" cy="129.1" r="1.9" fill="url(#ballD)"/><circle cx="145.3" cy="129.1" r="1.9" fill="url(#ballD)"/><circle cx="149.0" cy="129.1" r="1.9" fill="url(#ballD)"/><circle cx="152.7" cy="129.1" r="1.9" fill="url(#ballD)"/><circle cx="156.4" cy="129.1" r="1.9" fill="url(#ballD)"/><circle cx="128.6" cy="132.3" r="1.9" fill="url(#ballD)"/><circle cx="132.3" cy="132.3" r="1.9" fill="url(#ballD)"/><circle cx="136.0" cy="132.3" r="1.9" fill="url(#ballD)"/><circle cx="139.7" cy="132.3" r="1.9" fill="url(#ballD)"/><circle cx="143.4" cy="132.3" r="1.9" fill="url(#ballD)"/><circle cx="147.1" cy="132.3" r="1.9" fill="url(#ballD)"/><circle cx="150.8" cy="132.3" r="1.9" fill="url(#ballD)"/><circle cx="154.5" cy="132.3" r="1.9" fill="url(#ballD)"/><circle cx="158.2" cy="132.3" r="1.9" fill="url(#ballD)"/><circle cx="126.7" cy="135.5" r="1.9" fill="url(#ballD)"/><circle cx="130.4" cy="135.5" r="1.9" fill="url(#ballD)"/><circle cx="134.2" cy="135.5" r="1.9" fill="url(#ballD)"/><circle cx="137.9" cy="135.5" r="1.9" fill="url(#ballD)"/><circle cx="141.6" cy="135.5" r="1.9" fill="url(#ballD)"/><circle cx="145.3" cy="135.5" r="1.9" fill="url(#ballD)"/><circle cx="149.0" cy="135.5" r="1.9" fill="url(#ballD)"/><circle cx="152.7" cy="135.5" r="1.9" fill="url(#ballD)"/><circle cx="156.4" cy="135.5" r="1.9" fill="url(#ballD)"/><circle cx="128.6" cy="138.7" r="1.9" fill="url(#ballD)"/><circle cx="132.3" cy="138.7" r="1.9" fill="url(#ballD)"/><circle cx="136.0" cy="138.7" r="1.9" fill="url(#ballD)"/><circle cx="139.7" cy="138.7" r="1.9" fill="url(#ballD)"/><circle cx="143.4" cy="138.7" r="1.9" fill="url(#ballD)"/><circle cx="147.1" cy="138.7" r="1.9" fill="url(#ballD)"/><circle cx="150.8" cy="138.7" r="1.9" fill="url(#ballD)"/><circle cx="154.5" cy="138.7" r="1.9" fill="url(#ballD)"/><circle cx="158.2" cy="138.7" r="1.9" fill="url(#ballD)"/><circle cx="126.7" cy="142.0" r="1.9" fill="url(#ballD)"/><circle cx="130.4" cy="142.0" r="1.9" fill="url(#ballD)"/><circle cx="134.2" cy="142.0" r="1.9" fill="url(#ballD)"/><circle cx="137.9" cy="142.0" r="1.9" fill="url(#ballD)"/><circle cx="141.6" cy="142.0" r="1.9" fill="url(#ballD)"/><circle cx="145.3" cy="142.0" r="1.9" fill="url(#ballD)"/><circle cx="149.0" cy="142.0" r="1.9" fill="url(#ballD)"/><circle cx="152.7" cy="142.0" r="1.9" fill="url(#ballD)"/><circle cx="156.4" cy="142.0" r="1.9" fill="url(#ballD)"/><circle cx="128.6" cy="145.2" r="1.9" fill="url(#ballD)"/><circle cx="132.3" cy="145.2" r="1.9" fill="url(#ballD)"/><circle cx="136.0" cy="145.2" r="1.9" fill="url(#ballD)"/><circle cx="139.7" cy="145.2" r="1.9" fill="url(#ballD)"/><circle cx="143.4" cy="145.2" r="1.9" fill="url(#ballD)"/><circle cx="147.1" cy="145.2" r="1.9" fill="url(#ballD)"/><circle cx="150.8" cy="145.2" r="1.9" fill="url(#ballD)"/><circle cx="154.5" cy="145.2" r="1.9" fill="url(#ballD)"/><circle cx="130.4" cy="148.4" r="1.9" fill="url(#ballD)"/><circle cx="134.2" cy="148.4" r="1.9" fill="url(#ballD)"/><circle cx="137.9" cy="148.4" r="1.9" fill="url(#ballD)"/><circle cx="141.6" cy="148.4" r="1.9" fill="url(#ballD)"/><circle cx="145.3" cy="148.4" r="1.9" fill="url(#ballD)"/><circle cx="149.0" cy="148.4" r="1.9" fill="url(#ballD)"/><circle cx="152.7" cy="148.4" r="1.9" fill="url(#ballD)"/></g><g opacity="1.0"><polygon points="113.5,129.9 133.0,130.3 138.3,137.6 138.0,147.8 132.4,155.1 114.6,155.1 108.7,147.4 109.0,137.2" fill="#234e0a"/><circle cx="112.8" cy="130.1" r="1.9" fill="url(#ballD)"/><circle cx="116.5" cy="130.1" r="1.9" fill="url(#ballD)"/><circle cx="120.3" cy="130.1" r="1.9" fill="url(#ballD)"/><circle cx="124.0" cy="130.1" r="1.9" fill="url(#ballD)"/><circle cx="127.7" cy="130.1" r="1.9" fill="url(#ballD)"/><circle cx="131.4" cy="130.1" r="1.9" fill="url(#ballD)"/><circle cx="111.0" cy="133.4" r="1.9" fill="url(#ballD)"/><circle cx="114.7" cy="133.4" r="1.9" fill="url(#ballD)"/><circle cx="118.4" cy="133.4" r="1.9" fill="url(#ballD)"/><circle cx="122.1" cy="133.4" r="1.9" fill="url(#ballD)"/><circle cx="125.8" cy="133.4" r="1.9" fill="url(#ballD)"/><circle cx="129.5" cy="133.4" r="1.9" fill="url(#ballD)"/><circle cx="133.2" cy="133.4" r="1.9" fill="url(#ballD)"/><circle cx="136.9" cy="133.4" r="1.9" fill="url(#ballD)"/><circle cx="109.1" cy="136.6" r="1.9" fill="url(#ballD)"/><circle cx="112.8" cy="136.6" r="1.9" fill="url(#ballD)"/><circle cx="116.5" cy="136.6" r="1.9" fill="url(#ballD)"/><circle cx="120.3" cy="136.6" r="1.9" fill="url(#ballD)"/><circle cx="124.0" cy="136.6" r="1.9" fill="url(#ballD)"/><circle cx="127.7" cy="136.6" r="1.9" fill="url(#ballD)"/><circle cx="131.4" cy="136.6" r="1.9" fill="url(#ballD)"/><circle cx="135.1" cy="136.6" r="1.9" fill="url(#ballD)"/><circle cx="111.0" cy="139.8" r="1.9" fill="url(#ballD)"/><circle cx="114.7" cy="139.8" r="1.9" fill="url(#ballD)"/><circle cx="118.4" cy="139.8" r="1.9" fill="url(#ballD)"/><circle cx="122.1" cy="139.8" r="1.9" fill="url(#ballD)"/><circle cx="125.8" cy="139.8" r="1.9" fill="url(#ballD)"/><circle cx="129.5" cy="139.8" r="1.9" fill="url(#ballD)"/><circle cx="133.2" cy="139.8" r="1.9" fill="url(#ballD)"/><circle cx="136.9" cy="139.8" r="1.9" fill="url(#ballD)"/><circle cx="109.1" cy="143.1" r="1.9" fill="url(#ballD)"/><circle cx="112.8" cy="143.1" r="1.9" fill="url(#ballD)"/><circle cx="116.5" cy="143.1" r="1.9" fill="url(#ballD)"/><circle cx="120.3" cy="143.1" r="1.9" fill="url(#ballD)"/><circle cx="124.0" cy="143.1" r="1.9" fill="url(#ballD)"/><circle cx="127.7" cy="143.1" r="1.9" fill="url(#ballD)"/><circle cx="131.4" cy="143.1" r="1.9" fill="url(#ballD)"/><circle cx="135.1" cy="143.1" r="1.9" fill="url(#ballD)"/><circle cx="111.0" cy="146.3" r="1.9" fill="url(#ballD)"/><circle cx="114.7" cy="146.3" r="1.9" fill="url(#ballD)"/><circle cx="118.4" cy="146.3" r="1.9" fill="url(#ballD)"/><circle cx="122.1" cy="146.3" r="1.9" fill="url(#ballD)"/><circle cx="125.8" cy="146.3" r="1.9" fill="url(#ballD)"/><circle cx="129.5" cy="146.3" r="1.9" fill="url(#ballD)"/><circle cx="133.2" cy="146.3" r="1.9" fill="url(#ballD)"/><circle cx="136.9" cy="146.3" r="1.9" fill="url(#ballD)"/><circle cx="109.1" cy="149.5" r="1.9" fill="url(#ballD)"/><circle cx="112.8" cy="149.5" r="1.9" fill="url(#ballD)"/><circle cx="116.5" cy="149.5" r="1.9" fill="url(#ballD)"/><circle cx="120.3" cy="149.5" r="1.9" fill="url(#ballD)"/><circle cx="124.0" cy="149.5" r="1.9" fill="url(#ballD)"/><circle cx="127.7" cy="149.5" r="1.9" fill="url(#ballD)"/><circle cx="131.4" cy="149.5" r="1.9" fill="url(#ballD)"/><circle cx="135.1" cy="149.5" r="1.9" fill="url(#ballD)"/><circle cx="111.0" cy="152.7" r="1.9" fill="url(#ballD)"/><circle cx="114.7" cy="152.7" r="1.9" fill="url(#ballD)"/><circle cx="118.4" cy="152.7" r="1.9" fill="url(#ballD)"/><circle cx="122.1" cy="152.7" r="1.9" fill="url(#ballD)"/><circle cx="125.8" cy="152.7" r="1.9" fill="url(#ballD)"/><circle cx="129.5" cy="152.7" r="1.9" fill="url(#ballD)"/><circle cx="133.2" cy="152.7" r="1.9" fill="url(#ballD)"/></g>
  <clipPath id="cb1"><rect x="118" y="78" width="33" height="20"/></clipPath>
  <clipPath id="cb2"><rect x="124" y="113" width="38" height="18"/></clipPath>
  <g clip-path="url(#cb1)" opacity="0.6"><polygon points="62,80 150,70 197,84 109,94" fill="url(#mesh)"/></g>
  <g clip-path="url(#cb2)" opacity="0.6"><polygon points="62,114 150,104 197,119 109,129" fill="url(#mesh)"/></g>
  <g fill="none" stroke="#8a6cc0" stroke-width="1.25">
    <rect x="64.8" y="49.8" width="135.4" height="29.4" rx="5"/>
    <rect x="63.3" y="86.6" width="135" height="27.6" rx="5"/>
    <rect x="63.3" y="122.2" width="134.6" height="34" rx="5"/>
  </g>
  <use href="#flame" x="48" y="90.5" width="14" height="31"/>
  <use href="#flameO" x="184" y="56.3" width="11.7" height="21.1"/>
  <use href="#flameR" x="177" y="118" width="13.5" height="33"/>
  <use href="#flameR" x="74.5" y="157.8" width="9" height="16.7"/>
</g>
<g id="burner">
  <rect x="232.8" y="65.2" width="30.6" height="50.1" fill="#f5f5f5"/>
  <path d="M247.8 66C251.5 69 252.5 73.5 250.5 76.8C249 78.8 245.5 78.8 244.5 76.3C243.5 73 246 70 247.8 66Z" fill="#e82a10"/>
  <path d="M247.6 71.5C249.2 73.5 249.6 75.3 248.7 76.7C247.8 77.6 246.3 77.4 246 76.2C245.7 74.8 246.6 73.3 247.6 71.5Z" fill="#ffb020"/>
  <rect x="246.6" y="77.5" width="2.6" height="8" fill="#d8a430"/>
  <linearGradient id="bottleG" x1="0" y1="0" x2="1" y2="0"><stop offset="0" stop-color="#3a9ccc"/><stop offset="0.5" stop-color="#6cc8e8"/><stop offset="1" stop-color="#3a9ccc"/></linearGradient>
  <path d="M240.7 84.8H254.8V87.5L252.4 88.8H243.1L240.7 87.5Z" fill="#5cc0e0"/>
  <path d="M243.1 88.8H252.4C252.6 95 258 99 262.5 102.5L263.4 106H232.8L233.8 102.5C238 99 243 95 243.1 88.8Z" fill="url(#bottleG)"/>
  <linearGradient id="goldG" x1="0" y1="0" x2="0" y2="1"><stop offset="0" stop-color="#f4c43a"/><stop offset="0.5" stop-color="#e0a628"/><stop offset="1" stop-color="#b8801a"/></linearGradient>
  <path d="M232.8 103.6H263.4C263.4 111 258 115.3 248 115.3C238 115.3 232.8 111 232.8 103.6Z" fill="url(#goldG)"/>
  <rect x="247.1" y="88" width="1.4" height="17" fill="#c8a040"/>
</g>
<g id="p2">
<polygon points="311,167 363,145 438,164 386,186" fill="url(#meshE)"/><ellipse cx="340" cy="170" rx="9" ry="3" fill="#fff"/><ellipse cx="400" cy="176" rx="10" ry="3.5" fill="#fff"/><ellipse cx="375" cy="155" rx="6" ry="2.5" fill="#fff"/><g opacity="1.0"><polygon points="377.8,134.2 400.9,134.8 407.2,144.8 406.8,158.8 400.2,168.8 379.2,168.8 372.2,158.2 372.6,144.2" fill="#4e9a1c"/><circle cx="376.5" cy="134.2" r="2.0" fill="url(#ballL)"/><circle cx="380.4" cy="134.2" r="2.0" fill="url(#ballL)"/><circle cx="384.3" cy="134.2" r="2.0" fill="url(#ballL)"/><circle cx="388.2" cy="134.2" r="2.0" fill="url(#ballL)"/><circle cx="392.1" cy="134.2" r="2.0" fill="url(#ballL)"/><circle cx="396.0" cy="134.2" r="2.0" fill="url(#ballL)"/><circle cx="399.9" cy="134.2" r="2.0" fill="url(#ballL)"/><circle cx="374.5" cy="137.6" r="2.0" fill="url(#ballL)"/><circle cx="378.4" cy="137.6" r="2.0" fill="url(#ballL)"/><circle cx="382.3" cy="137.6" r="2.0" fill="url(#ballL)"/><circle cx="386.2" cy="137.6" r="2.0" fill="url(#ballL)"/><circle cx="390.1" cy="137.6" r="2.0" fill="url(#ballL)"/><circle cx="394.0" cy="137.6" r="2.0" fill="url(#ballL)"/><circle cx="397.9" cy="137.6" r="2.0" fill="url(#ballL)"/><circle cx="401.8" cy="137.6" r="2.0" fill="url(#ballL)"/><circle cx="372.6" cy="141.0" r="2.0" fill="url(#ballL)"/><circle cx="376.5" cy="141.0" r="2.0" fill="url(#ballL)"/><circle cx="380.4" cy="141.0" r="2.0" fill="url(#ballL)"/><circle cx="384.3" cy="141.0" r="2.0" fill="url(#ballL)"/><circle cx="388.2" cy="141.0" r="2.0" fill="url(#ballL)"/><circle cx="392.1" cy="141.0" r="2.0" fill="url(#ballL)"/><circle cx="396.0" cy="141.0" r="2.0" fill="url(#ballL)"/><circle cx="399.9" cy="141.0" r="2.0" fill="url(#ballL)"/><circle cx="403.8" cy="141.0" r="2.0" fill="url(#ballL)"/><circle cx="374.5" cy="144.4" r="2.0" fill="url(#ballL)"/><circle cx="378.4" cy="144.4" r="2.0" fill="url(#ballL)"/><circle cx="382.3" cy="144.4" r="2.0" fill="url(#ballL)"/><circle cx="386.2" cy="144.4" r="2.0" fill="url(#ballL)"/><circle cx="390.1" cy="144.4" r="2.0" fill="url(#ballL)"/><circle cx="394.0" cy="144.4" r="2.0" fill="url(#ballL)"/><circle cx="397.9" cy="144.4" r="2.0" fill="url(#ballL)"/><circle cx="401.8" cy="144.4" r="2.0" fill="url(#ballL)"/><circle cx="405.7" cy="144.4" r="2.0" fill="url(#ballL)"/><circle cx="372.6" cy="147.8" r="2.0" fill="url(#ballL)"/><circle cx="376.5" cy="147.8" r="2.0" fill="url(#ballL)"/><circle cx="380.4" cy="147.8" r="2.0" fill="url(#ballL)"/><circle cx="384.3" cy="147.8" r="2.0" fill="url(#ballL)"/><circle cx="388.2" cy="147.8" r="2.0" fill="url(#ballL)"/><circle cx="392.1" cy="147.8" r="2.0" fill="url(#ballL)"/><circle cx="396.0" cy="147.8" r="2.0" fill="url(#ballL)"/><circle cx="399.9" cy="147.8" r="2.0" fill="url(#ballL)"/><circle cx="403.8" cy="147.8" r="2.0" fill="url(#ballL)"/><circle cx="374.5" cy="151.2" r="2.0" fill="url(#ballL)"/><circle cx="378.4" cy="151.2" r="2.0" fill="url(#ballL)"/><circle cx="382.3" cy="151.2" r="2.0" fill="url(#ballL)"/><circle cx="386.2" cy="151.2" r="2.0" fill="url(#ballL)"/><circle cx="390.1" cy="151.2" r="2.0" fill="url(#ballL)"/><circle cx="394.0" cy="151.2" r="2.0" fill="url(#ballL)"/><circle cx="397.9" cy="151.2" r="2.0" fill="url(#ballL)"/><circle cx="401.8" cy="151.2" r="2.0" fill="url(#ballL)"/><circle cx="405.7" cy="151.2" r="2.0" fill="url(#ballL)"/><circle cx="372.6" cy="154.6" r="2.0" fill="url(#ballL)"/><circle cx="376.5" cy="154.6" r="2.0" fill="url(#ballL)"/><circle cx="380.4" cy="154.6" r="2.0" fill="url(#ballL)"/><circle cx="384.3" cy="154.6" r="2.0" fill="url(#ballL)"/><circle cx="388.2" cy="154.6" r="2.0" fill="url(#ballL)"/><circle cx="392.1" cy="154.6" r="2.0" fill="url(#ballL)"/><circle cx="396.0" cy="154.6" r="2.0" fill="url(#ballL)"/><circle cx="399.9" cy="154.6" r="2.0" fill="url(#ballL)"/><circle cx="403.8" cy="154.6" r="2.0" fill="url(#ballL)"/><circle cx="374.5" cy="158.0" r="2.0" fill="url(#ballL)"/><circle cx="378.4" cy="158.0" r="2.0" fill="url(#ballL)"/><circle cx="382.3" cy="158.0" r="2.0" fill="url(#ballL)"/><circle cx="386.2" cy="158.0" r="2.0" fill="url(#ballL)"/><circle cx="390.1" cy="158.0" r="2.0" fill="url(#ballL)"/><circle cx="394.0" cy="158.0" r="2.0" fill="url(#ballL)"/><circle cx="397.9" cy="158.0" r="2.0" fill="url(#ballL)"/><circle cx="401.8" cy="158.0" r="2.0" fill="url(#ballL)"/><circle cx="405.7" cy="158.0" r="2.0" fill="url(#ballL)"/><circle cx="372.6" cy="161.4" r="2.0" fill="url(#ballL)"/><circle cx="376.5" cy="161.4" r="2.0" fill="url(#ballL)"/><circle cx="380.4" cy="161.4" r="2.0" fill="url(#ballL)"/><circle cx="384.3" cy="161.4" r="2.0" fill="url(#ballL)"/><circle cx="388.2" cy="161.4" r="2.0" fill="url(#ballL)"/><circle cx="392.1" cy="161.4" r="2.0" fill="url(#ballL)"/><circle cx="396.0" cy="161.4" r="2.0" fill="url(#ballL)"/><circle cx="399.9" cy="161.4" r="2.0" fill="url(#ballL)"/><circle cx="403.8" cy="161.4" r="2.0" fill="url(#ballL)"/><circle cx="374.5" cy="164.8" r="2.0" fill="url(#ballL)"/><circle cx="378.4" cy="164.8" r="2.0" fill="url(#ballL)"/><circle cx="382.3" cy="164.8" r="2.0" fill="url(#ballL)"/><circle cx="386.2" cy="164.8" r="2.0" fill="url(#ballL)"/><circle cx="390.1" cy="164.8" r="2.0" fill="url(#ballL)"/><circle cx="394.0" cy="164.8" r="2.0" fill="url(#ballL)"/><circle cx="397.9" cy="164.8" r="2.0" fill="url(#ballL)"/><circle cx="401.8" cy="164.8" r="2.0" fill="url(#ballL)"/><circle cx="376.5" cy="168.2" r="2.0" fill="url(#ballL)"/><circle cx="380.4" cy="168.2" r="2.0" fill="url(#ballL)"/><circle cx="384.3" cy="168.2" r="2.0" fill="url(#ballL)"/><circle cx="388.2" cy="168.2" r="2.0" fill="url(#ballL)"/><circle cx="392.1" cy="168.2" r="2.0" fill="url(#ballL)"/><circle cx="396.0" cy="168.2" r="2.0" fill="url(#ballL)"/><circle cx="399.9" cy="168.2" r="2.0" fill="url(#ballL)"/></g><g opacity="1.0"><polygon points="364.9,123.8 382.6,124.2 387.4,131.0 387.1,140.4 382.1,147.2 365.9,147.2 360.6,140.0 360.9,130.6" fill="#4e9a1c"/><circle cx="365.1" cy="124.2" r="2.0" fill="url(#ballL)"/><circle cx="369.0" cy="124.2" r="2.0" fill="url(#ballL)"/><circle cx="372.9" cy="124.2" r="2.0" fill="url(#ballL)"/><circle cx="376.8" cy="124.2" r="2.0" fill="url(#ballL)"/><circle cx="380.7" cy="124.2" r="2.0" fill="url(#ballL)"/><circle cx="363.1" cy="127.6" r="2.0" fill="url(#ballL)"/><circle cx="367.0" cy="127.6" r="2.0" fill="url(#ballL)"/><circle cx="370.9" cy="127.6" r="2.0" fill="url(#ballL)"/><circle cx="374.8" cy="127.6" r="2.0" fill="url(#ballL)"/><circle cx="378.7" cy="127.6" r="2.0" fill="url(#ballL)"/><circle cx="382.6" cy="127.6" r="2.0" fill="url(#ballL)"/><circle cx="386.5" cy="127.6" r="2.0" fill="url(#ballL)"/><circle cx="361.2" cy="131.0" r="2.0" fill="url(#ballL)"/><circle cx="365.1" cy="131.0" r="2.0" fill="url(#ballL)"/><circle cx="369.0" cy="131.0" r="2.0" fill="url(#ballL)"/><circle cx="372.9" cy="131.0" r="2.0" fill="url(#ballL)"/><circle cx="376.8" cy="131.0" r="2.0" fill="url(#ballL)"/><circle cx="380.7" cy="131.0" r="2.0" fill="url(#ballL)"/><circle cx="384.6" cy="131.0" r="2.0" fill="url(#ballL)"/><circle cx="363.1" cy="134.4" r="2.0" fill="url(#ballL)"/><circle cx="367.0" cy="134.4" r="2.0" fill="url(#ballL)"/><circle cx="370.9" cy="134.4" r="2.0" fill="url(#ballL)"/><circle cx="374.8" cy="134.4" r="2.0" fill="url(#ballL)"/><circle cx="378.7" cy="134.4" r="2.0" fill="url(#ballL)"/><circle cx="382.6" cy="134.4" r="2.0" fill="url(#ballL)"/><circle cx="386.5" cy="134.4" r="2.0" fill="url(#ballL)"/><circle cx="361.2" cy="137.8" r="2.0" fill="url(#ballL)"/><circle cx="365.1" cy="137.8" r="2.0" fill="url(#ballL)"/><circle cx="369.0" cy="137.8" r="2.0" fill="url(#ballL)"/><circle cx="372.9" cy="137.8" r="2.0" fill="url(#ballL)"/><circle cx="376.8" cy="137.8" r="2.0" fill="url(#ballL)"/><circle cx="380.7" cy="137.8" r="2.0" fill="url(#ballL)"/><circle cx="384.6" cy="137.8" r="2.0" fill="url(#ballL)"/><circle cx="363.1" cy="141.2" r="2.0" fill="url(#ballL)"/><circle cx="367.0" cy="141.2" r="2.0" fill="url(#ballL)"/><circle cx="370.9" cy="141.2" r="2.0" fill="url(#ballL)"/><circle cx="374.8" cy="141.2" r="2.0" fill="url(#ballL)"/><circle cx="378.7" cy="141.2" r="2.0" fill="url(#ballL)"/><circle cx="382.6" cy="141.2" r="2.0" fill="url(#ballL)"/><circle cx="386.5" cy="141.2" r="2.0" fill="url(#ballL)"/><circle cx="365.1" cy="144.6" r="2.0" fill="url(#ballL)"/><circle cx="369.0" cy="144.6" r="2.0" fill="url(#ballL)"/><circle cx="372.9" cy="144.6" r="2.0" fill="url(#ballL)"/><circle cx="376.8" cy="144.6" r="2.0" fill="url(#ballL)"/><circle cx="380.7" cy="144.6" r="2.0" fill="url(#ballL)"/><circle cx="384.6" cy="144.6" r="2.0" fill="url(#ballL)"/></g><polygon points="316,131 371,106 449,125 394,150" fill="url(#meshE)"/><ellipse cx="360" cy="137" rx="10" ry="3.5" fill="#fff"/><ellipse cx="420" cy="133" rx="7" ry="2.5" fill="#fff"/><g opacity="1.0"><polygon points="328.7,137.8 346.5,138.3 351.3,145.3 351.1,155.1 346.0,162.2 329.7,162.2 324.4,154.7 324.6,144.9" fill="#4e9a1c"/><circle cx="328.8" cy="138.2" r="2.0" fill="url(#ballL)"/><circle cx="332.7" cy="138.2" r="2.0" fill="url(#ballL)"/><circle cx="336.6" cy="138.2" r="2.0" fill="url(#ballL)"/><circle cx="340.5" cy="138.2" r="2.0" fill="url(#ballL)"/><circle cx="344.4" cy="138.2" r="2.0" fill="url(#ballL)"/><circle cx="326.8" cy="141.6" r="2.0" fill="url(#ballL)"/><circle cx="330.7" cy="141.6" r="2.0" fill="url(#ballL)"/><circle cx="334.6" cy="141.6" r="2.0" fill="url(#ballL)"/><circle cx="338.5" cy="141.6" r="2.0" fill="url(#ballL)"/><circle cx="342.4" cy="141.6" r="2.0" fill="url(#ballL)"/><circle cx="346.3" cy="141.6" r="2.0" fill="url(#ballL)"/><circle cx="350.2" cy="141.6" r="2.0" fill="url(#ballL)"/><circle cx="324.9" cy="145.0" r="2.0" fill="url(#ballL)"/><circle cx="328.8" cy="145.0" r="2.0" fill="url(#ballL)"/><circle cx="332.7" cy="145.0" r="2.0" fill="url(#ballL)"/><circle cx="336.6" cy="145.0" r="2.0" fill="url(#ballL)"/><circle cx="340.5" cy="145.0" r="2.0" fill="url(#ballL)"/><circle cx="344.4" cy="145.0" r="2.0" fill="url(#ballL)"/><circle cx="348.3" cy="145.0" r="2.0" fill="url(#ballL)"/><circle cx="326.8" cy="148.4" r="2.0" fill="url(#ballL)"/><circle cx="330.7" cy="148.4" r="2.0" fill="url(#ballL)"/><circle cx="334.6" cy="148.4" r="2.0" fill="url(#ballL)"/><circle cx="338.5" cy="148.4" r="2.0" fill="url(#ballL)"/><circle cx="342.4" cy="148.4" r="2.0" fill="url(#ballL)"/><circle cx="346.3" cy="148.4" r="2.0" fill="url(#ballL)"/><circle cx="350.2" cy="148.4" r="2.0" fill="url(#ballL)"/><circle cx="324.9" cy="151.8" r="2.0" fill="url(#ballL)"/><circle cx="328.8" cy="151.8" r="2.0" fill="url(#ballL)"/><circle cx="332.7" cy="151.8" r="2.0" fill="url(#ballL)"/><circle cx="336.6" cy="151.8" r="2.0" fill="url(#ballL)"/><circle cx="340.5" cy="151.8" r="2.0" fill="url(#ballL)"/><circle cx="344.4" cy="151.8" r="2.0" fill="url(#ballL)"/><circle cx="348.3" cy="151.8" r="2.0" fill="url(#ballL)"/><circle cx="326.8" cy="155.2" r="2.0" fill="url(#ballL)"/><circle cx="330.7" cy="155.2" r="2.0" fill="url(#ballL)"/><circle cx="334.6" cy="155.2" r="2.0" fill="url(#ballL)"/><circle cx="338.5" cy="155.2" r="2.0" fill="url(#ballL)"/><circle cx="342.4" cy="155.2" r="2.0" fill="url(#ballL)"/><circle cx="346.3" cy="155.2" r="2.0" fill="url(#ballL)"/><circle cx="350.2" cy="155.2" r="2.0" fill="url(#ballL)"/><circle cx="328.8" cy="158.6" r="2.0" fill="url(#ballL)"/><circle cx="332.7" cy="158.6" r="2.0" fill="url(#ballL)"/><circle cx="336.6" cy="158.6" r="2.0" fill="url(#ballL)"/><circle cx="340.5" cy="158.6" r="2.0" fill="url(#ballL)"/><circle cx="344.4" cy="158.6" r="2.0" fill="url(#ballL)"/><circle cx="348.3" cy="158.6" r="2.0" fill="url(#ballL)"/><circle cx="330.7" cy="162.0" r="2.0" fill="url(#ballL)"/><circle cx="334.6" cy="162.0" r="2.0" fill="url(#ballL)"/><circle cx="338.5" cy="162.0" r="2.0" fill="url(#ballL)"/><circle cx="342.4" cy="162.0" r="2.0" fill="url(#ballL)"/><circle cx="346.3" cy="162.0" r="2.0" fill="url(#ballL)"/></g><g opacity="1.0"><polygon points="367.8,101.0 384.8,101.5 389.4,109.9 389.1,121.6 384.3,130.0 368.7,130.0 363.6,121.1 363.9,109.4" fill="#4e9a1c"/><circle cx="368.1" cy="101.2" r="2.0" fill="url(#ballL)"/><circle cx="372.0" cy="101.2" r="2.0" fill="url(#ballL)"/><circle cx="375.9" cy="101.2" r="2.0" fill="url(#ballL)"/><circle cx="379.8" cy="101.2" r="2.0" fill="url(#ballL)"/><circle cx="383.7" cy="101.2" r="2.0" fill="url(#ballL)"/><circle cx="366.1" cy="104.6" r="2.0" fill="url(#ballL)"/><circle cx="370.0" cy="104.6" r="2.0" fill="url(#ballL)"/><circle cx="373.9" cy="104.6" r="2.0" fill="url(#ballL)"/><circle cx="377.8" cy="104.6" r="2.0" fill="url(#ballL)"/><circle cx="381.7" cy="104.6" r="2.0" fill="url(#ballL)"/><circle cx="385.6" cy="104.6" r="2.0" fill="url(#ballL)"/><circle cx="364.2" cy="108.0" r="2.0" fill="url(#ballL)"/><circle cx="368.1" cy="108.0" r="2.0" fill="url(#ballL)"/><circle cx="372.0" cy="108.0" r="2.0" fill="url(#ballL)"/><circle cx="375.9" cy="108.0" r="2.0" fill="url(#ballL)"/><circle cx="379.8" cy="108.0" r="2.0" fill="url(#ballL)"/><circle cx="383.7" cy="108.0" r="2.0" fill="url(#ballL)"/><circle cx="387.6" cy="108.0" r="2.0" fill="url(#ballL)"/><circle cx="366.1" cy="111.4" r="2.0" fill="url(#ballL)"/><circle cx="370.0" cy="111.4" r="2.0" fill="url(#ballL)"/><circle cx="373.9" cy="111.4" r="2.0" fill="url(#ballL)"/><circle cx="377.8" cy="111.4" r="2.0" fill="url(#ballL)"/><circle cx="381.7" cy="111.4" r="2.0" fill="url(#ballL)"/><circle cx="385.6" cy="111.4" r="2.0" fill="url(#ballL)"/><circle cx="364.2" cy="114.8" r="2.0" fill="url(#ballL)"/><circle cx="368.1" cy="114.8" r="2.0" fill="url(#ballL)"/><circle cx="372.0" cy="114.8" r="2.0" fill="url(#ballL)"/><circle cx="375.9" cy="114.8" r="2.0" fill="url(#ballL)"/><circle cx="379.8" cy="114.8" r="2.0" fill="url(#ballL)"/><circle cx="383.7" cy="114.8" r="2.0" fill="url(#ballL)"/><circle cx="387.6" cy="114.8" r="2.0" fill="url(#ballL)"/><circle cx="366.1" cy="118.2" r="2.0" fill="url(#ballL)"/><circle cx="370.0" cy="118.2" r="2.0" fill="url(#ballL)"/><circle cx="373.9" cy="118.2" r="2.0" fill="url(#ballL)"/><circle cx="377.8" cy="118.2" r="2.0" fill="url(#ballL)"/><circle cx="381.7" cy="118.2" r="2.0" fill="url(#ballL)"/><circle cx="385.6" cy="118.2" r="2.0" fill="url(#ballL)"/><circle cx="364.2" cy="121.6" r="2.0" fill="url(#ballL)"/><circle cx="368.1" cy="121.6" r="2.0" fill="url(#ballL)"/><circle cx="372.0" cy="121.6" r="2.0" fill="url(#ballL)"/><circle cx="375.9" cy="121.6" r="2.0" fill="url(#ballL)"/><circle cx="379.8" cy="121.6" r="2.0" fill="url(#ballL)"/><circle cx="383.7" cy="121.6" r="2.0" fill="url(#ballL)"/><circle cx="387.6" cy="121.6" r="2.0" fill="url(#ballL)"/><circle cx="366.1" cy="125.0" r="2.0" fill="url(#ballL)"/><circle cx="370.0" cy="125.0" r="2.0" fill="url(#ballL)"/><circle cx="373.9" cy="125.0" r="2.0" fill="url(#ballL)"/><circle cx="377.8" cy="125.0" r="2.0" fill="url(#ballL)"/><circle cx="381.7" cy="125.0" r="2.0" fill="url(#ballL)"/><circle cx="385.6" cy="125.0" r="2.0" fill="url(#ballL)"/><circle cx="368.1" cy="128.4" r="2.0" fill="url(#ballL)"/><circle cx="372.0" cy="128.4" r="2.0" fill="url(#ballL)"/><circle cx="375.9" cy="128.4" r="2.0" fill="url(#ballL)"/><circle cx="379.8" cy="128.4" r="2.0" fill="url(#ballL)"/><circle cx="383.7" cy="128.4" r="2.0" fill="url(#ballL)"/></g><polygon points="317,101 372,76 450,95 395,120" fill="url(#meshE)"/><ellipse cx="336" cy="102" rx="7" ry="2.5" fill="#fff"/><ellipse cx="425" cy="104" rx="10" ry="3.5" fill="#fff"/><ellipse cx="390" cy="97" rx="6" ry="2.5" fill="#fff"/><g opacity="1.0"><polygon points="330.9,106.0 348.6,106.5 353.4,114.6 353.1,125.9 348.1,134.0 331.9,134.0 326.6,125.4 326.9,114.1" fill="#4e9a1c"/><circle cx="331.1" cy="106.2" r="2.0" fill="url(#ballL)"/><circle cx="335.0" cy="106.2" r="2.0" fill="url(#ballL)"/><circle cx="338.9" cy="106.2" r="2.0" fill="url(#ballL)"/><circle cx="342.8" cy="106.2" r="2.0" fill="url(#ballL)"/><circle cx="346.7" cy="106.2" r="2.0" fill="url(#ballL)"/><circle cx="329.1" cy="109.6" r="2.0" fill="url(#ballL)"/><circle cx="333.0" cy="109.6" r="2.0" fill="url(#ballL)"/><circle cx="336.9" cy="109.6" r="2.0" fill="url(#ballL)"/><circle cx="340.8" cy="109.6" r="2.0" fill="url(#ballL)"/><circle cx="344.7" cy="109.6" r="2.0" fill="url(#ballL)"/><circle cx="348.6" cy="109.6" r="2.0" fill="url(#ballL)"/><circle cx="327.2" cy="113.0" r="2.0" fill="url(#ballL)"/><circle cx="331.1" cy="113.0" r="2.0" fill="url(#ballL)"/><circle cx="335.0" cy="113.0" r="2.0" fill="url(#ballL)"/><circle cx="338.9" cy="113.0" r="2.0" fill="url(#ballL)"/><circle cx="342.8" cy="113.0" r="2.0" fill="url(#ballL)"/><circle cx="346.7" cy="113.0" r="2.0" fill="url(#ballL)"/><circle cx="350.6" cy="113.0" r="2.0" fill="url(#ballL)"/><circle cx="329.1" cy="116.4" r="2.0" fill="url(#ballL)"/><circle cx="333.0" cy="116.4" r="2.0" fill="url(#ballL)"/><circle cx="336.9" cy="116.4" r="2.0" fill="url(#ballL)"/><circle cx="340.8" cy="116.4" r="2.0" fill="url(#ballL)"/><circle cx="344.7" cy="116.4" r="2.0" fill="url(#ballL)"/><circle cx="348.6" cy="116.4" r="2.0" fill="url(#ballL)"/><circle cx="352.5" cy="116.4" r="2.0" fill="url(#ballL)"/><circle cx="327.2" cy="119.8" r="2.0" fill="url(#ballL)"/><circle cx="331.1" cy="119.8" r="2.0" fill="url(#ballL)"/><circle cx="335.0" cy="119.8" r="2.0" fill="url(#ballL)"/><circle cx="338.9" cy="119.8" r="2.0" fill="url(#ballL)"/><circle cx="342.8" cy="119.8" r="2.0" fill="url(#ballL)"/><circle cx="346.7" cy="119.8" r="2.0" fill="url(#ballL)"/><circle cx="350.6" cy="119.8" r="2.0" fill="url(#ballL)"/><circle cx="329.1" cy="123.2" r="2.0" fill="url(#ballL)"/><circle cx="333.0" cy="123.2" r="2.0" fill="url(#ballL)"/><circle cx="336.9" cy="123.2" r="2.0" fill="url(#ballL)"/><circle cx="340.8" cy="123.2" r="2.0" fill="url(#ballL)"/><circle cx="344.7" cy="123.2" r="2.0" fill="url(#ballL)"/><circle cx="348.6" cy="123.2" r="2.0" fill="url(#ballL)"/><circle cx="352.5" cy="123.2" r="2.0" fill="url(#ballL)"/><circle cx="327.2" cy="126.6" r="2.0" fill="url(#ballL)"/><circle cx="331.1" cy="126.6" r="2.0" fill="url(#ballL)"/><circle cx="335.0" cy="126.6" r="2.0" fill="url(#ballL)"/><circle cx="338.9" cy="126.6" r="2.0" fill="url(#ballL)"/><circle cx="342.8" cy="126.6" r="2.0" fill="url(#ballL)"/><circle cx="346.7" cy="126.6" r="2.0" fill="url(#ballL)"/><circle cx="350.6" cy="126.6" r="2.0" fill="url(#ballL)"/><circle cx="329.1" cy="130.0" r="2.0" fill="url(#ballL)"/><circle cx="333.0" cy="130.0" r="2.0" fill="url(#ballL)"/><circle cx="336.9" cy="130.0" r="2.0" fill="url(#ballL)"/><circle cx="340.8" cy="130.0" r="2.0" fill="url(#ballL)"/><circle cx="344.7" cy="130.0" r="2.0" fill="url(#ballL)"/><circle cx="348.6" cy="130.0" r="2.0" fill="url(#ballL)"/><circle cx="331.1" cy="133.4" r="2.0" fill="url(#ballL)"/><circle cx="335.0" cy="133.4" r="2.0" fill="url(#ballL)"/><circle cx="338.9" cy="133.4" r="2.0" fill="url(#ballL)"/><circle cx="342.8" cy="133.4" r="2.0" fill="url(#ballL)"/><circle cx="346.7" cy="133.4" r="2.0" fill="url(#ballL)"/></g><g opacity="1.0"><polygon points="409.3,100.8 428.2,101.3 433.3,108.3 433.0,118.1 427.6,125.2 410.4,125.2 404.7,117.7 405.0,107.9" fill="#4e9a1c"/><circle cx="409.1" cy="101.2" r="2.0" fill="url(#ballL)"/><circle cx="413.0" cy="101.2" r="2.0" fill="url(#ballL)"/><circle cx="416.9" cy="101.2" r="2.0" fill="url(#ballL)"/><circle cx="420.8" cy="101.2" r="2.0" fill="url(#ballL)"/><circle cx="424.7" cy="101.2" r="2.0" fill="url(#ballL)"/><circle cx="428.6" cy="101.2" r="2.0" fill="url(#ballL)"/><circle cx="407.1" cy="104.6" r="2.0" fill="url(#ballL)"/><circle cx="411.0" cy="104.6" r="2.0" fill="url(#ballL)"/><circle cx="414.9" cy="104.6" r="2.0" fill="url(#ballL)"/><circle cx="418.8" cy="104.6" r="2.0" fill="url(#ballL)"/><circle cx="422.7" cy="104.6" r="2.0" fill="url(#ballL)"/><circle cx="426.6" cy="104.6" r="2.0" fill="url(#ballL)"/><circle cx="430.5" cy="104.6" r="2.0" fill="url(#ballL)"/><circle cx="405.2" cy="108.0" r="2.0" fill="url(#ballL)"/><circle cx="409.1" cy="108.0" r="2.0" fill="url(#ballL)"/><circle cx="413.0" cy="108.0" r="2.0" fill="url(#ballL)"/><circle cx="416.9" cy="108.0" r="2.0" fill="url(#ballL)"/><circle cx="420.8" cy="108.0" r="2.0" fill="url(#ballL)"/><circle cx="424.7" cy="108.0" r="2.0" fill="url(#ballL)"/><circle cx="428.6" cy="108.0" r="2.0" fill="url(#ballL)"/><circle cx="432.5" cy="108.0" r="2.0" fill="url(#ballL)"/><circle cx="407.1" cy="111.4" r="2.0" fill="url(#ballL)"/><circle cx="411.0" cy="111.4" r="2.0" fill="url(#ballL)"/><circle cx="414.9" cy="111.4" r="2.0" fill="url(#ballL)"/><circle cx="418.8" cy="111.4" r="2.0" fill="url(#ballL)"/><circle cx="422.7" cy="111.4" r="2.0" fill="url(#ballL)"/><circle cx="426.6" cy="111.4" r="2.0" fill="url(#ballL)"/><circle cx="430.5" cy="111.4" r="2.0" fill="url(#ballL)"/><circle cx="405.2" cy="114.8" r="2.0" fill="url(#ballL)"/><circle cx="409.1" cy="114.8" r="2.0" fill="url(#ballL)"/><circle cx="413.0" cy="114.8" r="2.0" fill="url(#ballL)"/><circle cx="416.9" cy="114.8" r="2.0" fill="url(#ballL)"/><circle cx="420.8" cy="114.8" r="2.0" fill="url(#ballL)"/><circle cx="424.7" cy="114.8" r="2.0" fill="url(#ballL)"/><circle cx="428.6" cy="114.8" r="2.0" fill="url(#ballL)"/><circle cx="432.5" cy="114.8" r="2.0" fill="url(#ballL)"/><circle cx="407.1" cy="118.2" r="2.0" fill="url(#ballL)"/><circle cx="411.0" cy="118.2" r="2.0" fill="url(#ballL)"/><circle cx="414.9" cy="118.2" r="2.0" fill="url(#ballL)"/><circle cx="418.8" cy="118.2" r="2.0" fill="url(#ballL)"/><circle cx="422.7" cy="118.2" r="2.0" fill="url(#ballL)"/><circle cx="426.6" cy="118.2" r="2.0" fill="url(#ballL)"/><circle cx="430.5" cy="118.2" r="2.0" fill="url(#ballL)"/><circle cx="409.1" cy="121.6" r="2.0" fill="url(#ballL)"/><circle cx="413.0" cy="121.6" r="2.0" fill="url(#ballL)"/><circle cx="416.9" cy="121.6" r="2.0" fill="url(#ballL)"/><circle cx="420.8" cy="121.6" r="2.0" fill="url(#ballL)"/><circle cx="424.7" cy="121.6" r="2.0" fill="url(#ballL)"/><circle cx="428.6" cy="121.6" r="2.0" fill="url(#ballL)"/><circle cx="411.0" cy="125.0" r="2.0" fill="url(#ballL)"/><circle cx="414.9" cy="125.0" r="2.0" fill="url(#ballL)"/><circle cx="418.8" cy="125.0" r="2.0" fill="url(#ballL)"/><circle cx="422.7" cy="125.0" r="2.0" fill="url(#ballL)"/><circle cx="426.6" cy="125.0" r="2.0" fill="url(#ballL)"/></g><g opacity="1.0"><polygon points="398.4,66.4 417.6,66.9 422.8,74.0 422.5,84.0 417.0,91.2 399.5,91.2 393.7,83.6 394.0,73.6" fill="#4e9a1c"/><circle cx="398.1" cy="66.8" r="2.0" fill="url(#ballL)"/><circle cx="402.0" cy="66.8" r="2.0" fill="url(#ballL)"/><circle cx="405.9" cy="66.8" r="2.0" fill="url(#ballL)"/><circle cx="409.8" cy="66.8" r="2.0" fill="url(#ballL)"/><circle cx="413.7" cy="66.8" r="2.0" fill="url(#ballL)"/><circle cx="417.6" cy="66.8" r="2.0" fill="url(#ballL)"/><circle cx="396.1" cy="70.2" r="2.0" fill="url(#ballL)"/><circle cx="400.0" cy="70.2" r="2.0" fill="url(#ballL)"/><circle cx="403.9" cy="70.2" r="2.0" fill="url(#ballL)"/><circle cx="407.8" cy="70.2" r="2.0" fill="url(#ballL)"/><circle cx="411.7" cy="70.2" r="2.0" fill="url(#ballL)"/><circle cx="415.6" cy="70.2" r="2.0" fill="url(#ballL)"/><circle cx="419.5" cy="70.2" r="2.0" fill="url(#ballL)"/><circle cx="394.2" cy="73.6" r="2.0" fill="url(#ballL)"/><circle cx="398.1" cy="73.6" r="2.0" fill="url(#ballL)"/><circle cx="402.0" cy="73.6" r="2.0" fill="url(#ballL)"/><circle cx="405.9" cy="73.6" r="2.0" fill="url(#ballL)"/><circle cx="409.8" cy="73.6" r="2.0" fill="url(#ballL)"/><circle cx="413.7" cy="73.6" r="2.0" fill="url(#ballL)"/><circle cx="417.6" cy="73.6" r="2.0" fill="url(#ballL)"/><circle cx="421.5" cy="73.6" r="2.0" fill="url(#ballL)"/><circle cx="396.1" cy="77.0" r="2.0" fill="url(#ballL)"/><circle cx="400.0" cy="77.0" r="2.0" fill="url(#ballL)"/><circle cx="403.9" cy="77.0" r="2.0" fill="url(#ballL)"/><circle cx="407.8" cy="77.0" r="2.0" fill="url(#ballL)"/><circle cx="411.7" cy="77.0" r="2.0" fill="url(#ballL)"/><circle cx="415.6" cy="77.0" r="2.0" fill="url(#ballL)"/><circle cx="419.5" cy="77.0" r="2.0" fill="url(#ballL)"/><circle cx="394.2" cy="80.4" r="2.0" fill="url(#ballL)"/><circle cx="398.1" cy="80.4" r="2.0" fill="url(#ballL)"/><circle cx="402.0" cy="80.4" r="2.0" fill="url(#ballL)"/><circle cx="405.9" cy="80.4" r="2.0" fill="url(#ballL)"/><circle cx="409.8" cy="80.4" r="2.0" fill="url(#ballL)"/><circle cx="413.7" cy="80.4" r="2.0" fill="url(#ballL)"/><circle cx="417.6" cy="80.4" r="2.0" fill="url(#ballL)"/><circle cx="421.5" cy="80.4" r="2.0" fill="url(#ballL)"/><circle cx="396.1" cy="83.8" r="2.0" fill="url(#ballL)"/><circle cx="400.0" cy="83.8" r="2.0" fill="url(#ballL)"/><circle cx="403.9" cy="83.8" r="2.0" fill="url(#ballL)"/><circle cx="407.8" cy="83.8" r="2.0" fill="url(#ballL)"/><circle cx="411.7" cy="83.8" r="2.0" fill="url(#ballL)"/><circle cx="415.6" cy="83.8" r="2.0" fill="url(#ballL)"/><circle cx="419.5" cy="83.8" r="2.0" fill="url(#ballL)"/><circle cx="398.1" cy="87.2" r="2.0" fill="url(#ballL)"/><circle cx="402.0" cy="87.2" r="2.0" fill="url(#ballL)"/><circle cx="405.9" cy="87.2" r="2.0" fill="url(#ballL)"/><circle cx="409.8" cy="87.2" r="2.0" fill="url(#ballL)"/><circle cx="413.7" cy="87.2" r="2.0" fill="url(#ballL)"/><circle cx="417.6" cy="87.2" r="2.0" fill="url(#ballL)"/><circle cx="421.5" cy="87.2" r="2.0" fill="url(#ballL)"/><circle cx="400.0" cy="90.6" r="2.0" fill="url(#ballL)"/><circle cx="403.9" cy="90.6" r="2.0" fill="url(#ballL)"/><circle cx="407.8" cy="90.6" r="2.0" fill="url(#ballL)"/><circle cx="411.7" cy="90.6" r="2.0" fill="url(#ballL)"/><circle cx="415.6" cy="90.6" r="2.0" fill="url(#ballL)"/></g><polygon points="322,72 377,47 455,66 400,91" fill="url(#meshE)"/><ellipse cx="345" cy="72" rx="8" ry="3" fill="#fff"/><ellipse cx="404" cy="63" rx="11" ry="3.5" fill="#fff"/><ellipse cx="430" cy="72" rx="6" ry="2.5" fill="#fff"/><ellipse cx="380" cy="80" rx="7" ry="2.5" fill="#fff"/><g opacity="1.0"><polygon points="329.0,76.9 348.1,77.5 353.3,85.3 353.0,96.2 347.6,104.1 330.1,104.1 324.4,95.7 324.7,84.8" fill="#4e9a1c"/><circle cx="328.8" cy="77.2" r="2.0" fill="url(#ballL)"/><circle cx="332.7" cy="77.2" r="2.0" fill="url(#ballL)"/><circle cx="336.6" cy="77.2" r="2.0" fill="url(#ballL)"/><circle cx="340.5" cy="77.2" r="2.0" fill="url(#ballL)"/><circle cx="344.4" cy="77.2" r="2.0" fill="url(#ballL)"/><circle cx="348.3" cy="77.2" r="2.0" fill="url(#ballL)"/><circle cx="326.8" cy="80.6" r="2.0" fill="url(#ballL)"/><circle cx="330.7" cy="80.6" r="2.0" fill="url(#ballL)"/><circle cx="334.6" cy="80.6" r="2.0" fill="url(#ballL)"/><circle cx="338.5" cy="80.6" r="2.0" fill="url(#ballL)"/><circle cx="342.4" cy="80.6" r="2.0" fill="url(#ballL)"/><circle cx="346.3" cy="80.6" r="2.0" fill="url(#ballL)"/><circle cx="350.2" cy="80.6" r="2.0" fill="url(#ballL)"/><circle cx="324.9" cy="84.0" r="2.0" fill="url(#ballL)"/><circle cx="328.8" cy="84.0" r="2.0" fill="url(#ballL)"/><circle cx="332.7" cy="84.0" r="2.0" fill="url(#ballL)"/><circle cx="336.6" cy="84.0" r="2.0" fill="url(#ballL)"/><circle cx="340.5" cy="84.0" r="2.0" fill="url(#ballL)"/><circle cx="344.4" cy="84.0" r="2.0" fill="url(#ballL)"/><circle cx="348.3" cy="84.0" r="2.0" fill="url(#ballL)"/><circle cx="352.2" cy="84.0" r="2.0" fill="url(#ballL)"/><circle cx="326.8" cy="87.4" r="2.0" fill="url(#ballL)"/><circle cx="330.7" cy="87.4" r="2.0" fill="url(#ballL)"/><circle cx="334.6" cy="87.4" r="2.0" fill="url(#ballL)"/><circle cx="338.5" cy="87.4" r="2.0" fill="url(#ballL)"/><circle cx="342.4" cy="87.4" r="2.0" fill="url(#ballL)"/><circle cx="346.3" cy="87.4" r="2.0" fill="url(#ballL)"/><circle cx="350.2" cy="87.4" r="2.0" fill="url(#ballL)"/><circle cx="324.9" cy="90.8" r="2.0" fill="url(#ballL)"/><circle cx="328.8" cy="90.8" r="2.0" fill="url(#ballL)"/><circle cx="332.7" cy="90.8" r="2.0" fill="url(#ballL)"/><circle cx="336.6" cy="90.8" r="2.0" fill="url(#ballL)"/><circle cx="340.5" cy="90.8" r="2.0" fill="url(#ballL)"/><circle cx="344.4" cy="90.8" r="2.0" fill="url(#ballL)"/><circle cx="348.3" cy="90.8" r="2.0" fill="url(#ballL)"/><circle cx="352.2" cy="90.8" r="2.0" fill="url(#ballL)"/><circle cx="326.8" cy="94.2" r="2.0" fill="url(#ballL)"/><circle cx="330.7" cy="94.2" r="2.0" fill="url(#ballL)"/><circle cx="334.6" cy="94.2" r="2.0" fill="url(#ballL)"/><circle cx="338.5" cy="94.2" r="2.0" fill="url(#ballL)"/><circle cx="342.4" cy="94.2" r="2.0" fill="url(#ballL)"/><circle cx="346.3" cy="94.2" r="2.0" fill="url(#ballL)"/><circle cx="350.2" cy="94.2" r="2.0" fill="url(#ballL)"/><circle cx="324.9" cy="97.6" r="2.0" fill="url(#ballL)"/><circle cx="328.8" cy="97.6" r="2.0" fill="url(#ballL)"/><circle cx="332.7" cy="97.6" r="2.0" fill="url(#ballL)"/><circle cx="336.6" cy="97.6" r="2.0" fill="url(#ballL)"/><circle cx="340.5" cy="97.6" r="2.0" fill="url(#ballL)"/><circle cx="344.4" cy="97.6" r="2.0" fill="url(#ballL)"/><circle cx="348.3" cy="97.6" r="2.0" fill="url(#ballL)"/><circle cx="352.2" cy="97.6" r="2.0" fill="url(#ballL)"/><circle cx="326.8" cy="101.0" r="2.0" fill="url(#ballL)"/><circle cx="330.7" cy="101.0" r="2.0" fill="url(#ballL)"/><circle cx="334.6" cy="101.0" r="2.0" fill="url(#ballL)"/><circle cx="338.5" cy="101.0" r="2.0" fill="url(#ballL)"/><circle cx="342.4" cy="101.0" r="2.0" fill="url(#ballL)"/><circle cx="346.3" cy="101.0" r="2.0" fill="url(#ballL)"/><circle cx="350.2" cy="101.0" r="2.0" fill="url(#ballL)"/></g><g opacity="1.0"><polygon points="369.9,81.6 387.6,82.0 392.4,87.4 392.1,95.0 387.1,100.4 370.9,100.4 365.6,94.6 365.9,87.0" fill="#4e9a1c"/><circle cx="370.1" cy="82.2" r="2.0" fill="url(#ballL)"/><circle cx="374.0" cy="82.2" r="2.0" fill="url(#ballL)"/><circle cx="377.9" cy="82.2" r="2.0" fill="url(#ballL)"/><circle cx="381.8" cy="82.2" r="2.0" fill="url(#ballL)"/><circle cx="385.7" cy="82.2" r="2.0" fill="url(#ballL)"/><circle cx="368.1" cy="85.6" r="2.0" fill="url(#ballL)"/><circle cx="372.0" cy="85.6" r="2.0" fill="url(#ballL)"/><circle cx="375.9" cy="85.6" r="2.0" fill="url(#ballL)"/><circle cx="379.8" cy="85.6" r="2.0" fill="url(#ballL)"/><circle cx="383.7" cy="85.6" r="2.0" fill="url(#ballL)"/><circle cx="387.6" cy="85.6" r="2.0" fill="url(#ballL)"/><circle cx="391.5" cy="85.6" r="2.0" fill="url(#ballL)"/><circle cx="366.2" cy="89.0" r="2.0" fill="url(#ballL)"/><circle cx="370.1" cy="89.0" r="2.0" fill="url(#ballL)"/><circle cx="374.0" cy="89.0" r="2.0" fill="url(#ballL)"/><circle cx="377.9" cy="89.0" r="2.0" fill="url(#ballL)"/><circle cx="381.8" cy="89.0" r="2.0" fill="url(#ballL)"/><circle cx="385.7" cy="89.0" r="2.0" fill="url(#ballL)"/><circle cx="389.6" cy="89.0" r="2.0" fill="url(#ballL)"/><circle cx="368.1" cy="92.4" r="2.0" fill="url(#ballL)"/><circle cx="372.0" cy="92.4" r="2.0" fill="url(#ballL)"/><circle cx="375.9" cy="92.4" r="2.0" fill="url(#ballL)"/><circle cx="379.8" cy="92.4" r="2.0" fill="url(#ballL)"/><circle cx="383.7" cy="92.4" r="2.0" fill="url(#ballL)"/><circle cx="387.6" cy="92.4" r="2.0" fill="url(#ballL)"/><circle cx="391.5" cy="92.4" r="2.0" fill="url(#ballL)"/><circle cx="366.2" cy="95.8" r="2.0" fill="url(#ballL)"/><circle cx="370.1" cy="95.8" r="2.0" fill="url(#ballL)"/><circle cx="374.0" cy="95.8" r="2.0" fill="url(#ballL)"/><circle cx="377.9" cy="95.8" r="2.0" fill="url(#ballL)"/><circle cx="381.8" cy="95.8" r="2.0" fill="url(#ballL)"/><circle cx="385.7" cy="95.8" r="2.0" fill="url(#ballL)"/><circle cx="389.6" cy="95.8" r="2.0" fill="url(#ballL)"/><circle cx="368.1" cy="99.2" r="2.0" fill="url(#ballL)"/><circle cx="372.0" cy="99.2" r="2.0" fill="url(#ballL)"/><circle cx="375.9" cy="99.2" r="2.0" fill="url(#ballL)"/><circle cx="379.8" cy="99.2" r="2.0" fill="url(#ballL)"/><circle cx="383.7" cy="99.2" r="2.0" fill="url(#ballL)"/><circle cx="387.6" cy="99.2" r="2.0" fill="url(#ballL)"/></g><path d="M409.5 61L433 38.5" stroke="#f8b010" stroke-width="2"/><path d="M436.2 35L434.6 43.4L428.8 38Z" fill="#f8b010"/><g transform="translate(347 52) rotate(-25)"><circle cx="-2.7" cy="0" r="1.6" fill="#2a78d8"/><circle cx="2.7" cy="0" r="1.6" fill="#2a78d8"/><circle cx="0" cy="0" r="1.4" fill="#e0e0e8"/></g><g transform="translate(384 44) rotate(-25)"><circle cx="-2.7" cy="0" r="1.6" fill="#2a78d8"/><circle cx="2.7" cy="0" r="1.6" fill="#2a78d8"/><circle cx="0" cy="0" r="1.4" fill="#e0e0e8"/></g><g transform="translate(397 59) rotate(-15)"><circle cx="-2.7" cy="0" r="1.6" fill="#2a78d8"/><circle cx="2.7" cy="0" r="1.6" fill="#2a78d8"/><circle cx="0" cy="0" r="1.4" fill="#e0e0e8"/></g><g transform="translate(425 58) rotate(0)"><circle cx="-2.7" cy="0" r="1.6" fill="#2a78d8"/><circle cx="2.7" cy="0" r="1.6" fill="#2a78d8"/><circle cx="0" cy="0" r="1.4" fill="#e0e0e8"/></g><g transform="translate(359 71) rotate(-25)"><circle cx="-2.7" cy="0" r="1.6" fill="#2a78d8"/><circle cx="2.7" cy="0" r="1.6" fill="#2a78d8"/><circle cx="0" cy="0" r="1.4" fill="#e0e0e8"/></g><g transform="translate(316 124) rotate(-60)"><circle cx="-2.7" cy="0" r="1.6" fill="#2a78d8"/><circle cx="2.7" cy="0" r="1.6" fill="#2a78d8"/><circle cx="0" cy="0" r="1.4" fill="#e0e0e8"/></g><g transform="translate(343 169) rotate(-25)"><circle cx="-2.7" cy="0" r="1.6" fill="#2a78d8"/><circle cx="2.7" cy="0" r="1.6" fill="#2a78d8"/><circle cx="0" cy="0" r="1.4" fill="#e0e0e8"/></g><g transform="translate(387 182) rotate(-20)"><circle cx="-2.7" cy="0" r="1.6" fill="#2a78d8"/><circle cx="2.7" cy="0" r="1.6" fill="#2a78d8"/><circle cx="0" cy="0" r="1.4" fill="#e0e0e8"/></g><g transform="translate(410 41) rotate(-30)"><circle cx="-2.7" cy="0" r="1.6" fill="#2a78d8"/><circle cx="2.7" cy="0" r="1.6" fill="#2a78d8"/><circle cx="0" cy="0" r="1.4" fill="#e0e0e8"/></g>
  <use href="#flameO" x="333" y="39.5" width="13" height="29"/>
  <use href="#flameO" x="407" y="26.5" width="11.5" height="21.7"/>
  <use href="#flame" x="308" y="87" width="14" height="33"/>
  <use href="#flameR" x="436" y="133" width="15" height="28"/>
</g>
<g id="tem" clip-path="url(#temClip)"><radialGradient id="bubG" cx="0.45" cy="0.4" r="0.6"><stop offset="0" stop-color="#b4b4b4"/><stop offset="0.75" stop-color="#a2a2a2"/><stop offset="1" stop-color="#707070"/></radialGradient><rect x="515.5" y="31.5" width="114.5" height="84" fill="#8a8a8a"/><circle cx="586.6" cy="94.1" r="3.5" fill="#929292"/><circle cx="623.4" cy="93.9" r="3.8" fill="#929292"/><circle cx="518.3" cy="70.6" r="3.9" fill="#929292"/><circle cx="589.6" cy="107.6" r="1.8" fill="#929292"/><circle cx="568.9" cy="52.0" r="2.9" fill="#929292"/><circle cx="581.0" cy="32.1" r="2.0" fill="#929292"/><circle cx="547.1" cy="108.9" r="3.4" fill="#929292"/><circle cx="533.4" cy="98.8" r="1.8" fill="#929292"/><circle cx="586.0" cy="41.8" r="1.5" fill="#929292"/><circle cx="615.2" cy="48.8" r="2.0" fill="#929292"/><circle cx="628.0" cy="105.2" r="2.2" fill="#929292"/><circle cx="625.6" cy="76.8" r="3.2" fill="#929292"/><circle cx="538.5" cy="111.0" r="3.2" fill="#929292"/><circle cx="626.2" cy="107.0" r="2.2" fill="#929292"/><circle cx="556.5" cy="45.1" r="1.9" fill="#929292"/><circle cx="522.5" cy="56.6" r="3.0" fill="#929292"/><circle cx="515.4" cy="88.6" r="2.3" fill="#929292"/><circle cx="550.6" cy="100.6" r="2.7" fill="#929292"/><circle cx="551.3" cy="71.9" r="3.3" fill="#929292"/><circle cx="521.6" cy="113.9" r="1.6" fill="#929292"/><circle cx="601.2" cy="102.8" r="1.5" fill="#929292"/><circle cx="605.6" cy="62.1" r="2.9" fill="#929292"/><circle cx="516.0" cy="35.0" r="2.0" fill="#929292"/><circle cx="624.8" cy="47.7" r="3.4" fill="#929292"/><circle cx="621.9" cy="111.1" r="2.4" fill="#929292"/><circle cx="555.8" cy="75.6" r="3.4" fill="#929292"/><circle cx="527.4" cy="94.6" r="3.5" fill="#929292"/><circle cx="613.9" cy="34.1" r="3.9" fill="#929292"/><circle cx="525.5" cy="60.0" r="3.0" fill="#929292"/><circle cx="620.6" cy="59.9" r="3.8" fill="#929292"/><circle cx="577.7" cy="57.6" r="2.3" fill="#929292"/><circle cx="535.4" cy="37.6" r="1.9" fill="#929292"/><circle cx="594.3" cy="115.7" r="1.9" fill="#929292"/><circle cx="520.6" cy="114.9" r="2.8" fill="#929292"/><circle cx="561.7" cy="51.2" r="3.0" fill="#929292"/><circle cx="610.0" cy="69.7" r="2.6" fill="#929292"/><circle cx="521.4" cy="108.9" r="1.6" fill="#929292"/><circle cx="571.8" cy="102.3" r="1.8" fill="#929292"/><circle cx="599.1" cy="111.7" r="3.1" fill="#929292"/><circle cx="605.6" cy="40.1" r="2.6" fill="#929292"/><circle cx="532.2" cy="102.8" r="2.2" fill="#929292"/><circle cx="567.1" cy="115.9" r="3.6" fill="#929292"/><circle cx="627.2" cy="69.6" r="2.7" fill="#929292"/><circle cx="598.9" cy="71.7" r="2.2" fill="#929292"/><circle cx="561.4" cy="43.5" r="2.4" fill="#929292"/><circle cx="628.7" cy="112.6" r="3.1" fill="#929292"/><circle cx="572.4" cy="59.8" r="1.7" fill="#929292"/><circle cx="546.3" cy="97.5" r="3.7" fill="#929292"/><circle cx="556.6" cy="97.8" r="3.4" fill="#929292"/><circle cx="594.9" cy="87.4" r="3.4" fill="#929292"/><circle cx="556.8" cy="90.9" r="2.2" fill="#929292"/><circle cx="570.9" cy="96.4" r="3.2" fill="#929292"/><circle cx="548.8" cy="111.4" r="3.1" fill="#929292"/><circle cx="581.8" cy="32.0" r="2.9" fill="#929292"/><circle cx="543.8" cy="88.1" r="2.7" fill="#929292"/><circle cx="608.9" cy="86.0" r="3.5" fill="#929292"/><circle cx="555.0" cy="85.7" r="3.3" fill="#929292"/><circle cx="610.2" cy="60.8" r="3.6" fill="#929292"/><circle cx="615.0" cy="89.5" r="3.9" fill="#929292"/><circle cx="625.0" cy="75.0" r="2.8" fill="#929292"/><circle cx="561" cy="70" r="27" fill="#9a9a9a" stroke="#7e7e7e" stroke-width="1.2"/><circle cx="547.7" cy="36.9" r="4.4" fill="url(#bubG)" stroke="#606060" stroke-width="0.75"/><circle cx="564.3" cy="39.1" r="3.3" fill="url(#bubG)" stroke="#606060" stroke-width="0.75"/><circle cx="576.5" cy="35.8" r="6.7" fill="url(#bubG)" stroke="#606060" stroke-width="0.75"/><circle cx="589.9" cy="45.7" r="8.9" fill="url(#bubG)" stroke="#606060" stroke-width="0.75"/><circle cx="607.6" cy="40.2" r="7.8" fill="url(#bubG)" stroke="#606060" stroke-width="0.75"/><circle cx="618.7" cy="50.2" r="8.9" fill="url(#bubG)" stroke="#606060" stroke-width="0.75"/><circle cx="625" cy="34.7" r="5.5" fill="url(#bubG)" stroke="#606060" stroke-width="0.75"/><circle cx="523.3" cy="56.8" r="5.5" fill="url(#bubG)" stroke="#606060" stroke-width="0.75"/><circle cx="536.6" cy="53.5" r="5.5" fill="url(#bubG)" stroke="#606060" stroke-width="0.75"/><circle cx="543.3" cy="43.5" r="4.4" fill="url(#bubG)" stroke="#606060" stroke-width="0.75"/><circle cx="527.7" cy="67.9" r="6.7" fill="url(#bubG)" stroke="#606060" stroke-width="0.75"/><circle cx="523.3" cy="81.2" r="6.7" fill="url(#bubG)" stroke="#606060" stroke-width="0.75"/><circle cx="521.1" cy="94.5" r="7.8" fill="url(#bubG)" stroke="#606060" stroke-width="0.75"/><circle cx="534.4" cy="103.4" r="5.5" fill="url(#bubG)" stroke="#606060" stroke-width="0.75"/><circle cx="549.9" cy="105.6" r="6.7" fill="url(#bubG)" stroke="#606060" stroke-width="0.75"/><circle cx="567.7" cy="106.7" r="6.7" fill="url(#bubG)" stroke="#606060" stroke-width="0.75"/><circle cx="574.3" cy="96.8" r="6.7" fill="url(#bubG)" stroke="#606060" stroke-width="0.75"/><circle cx="585.4" cy="85.7" r="5.5" fill="url(#bubG)" stroke="#606060" stroke-width="0.75"/><circle cx="589.9" cy="70.1" r="3.3" fill="url(#bubG)" stroke="#606060" stroke-width="0.75"/><circle cx="603.2" cy="65.7" r="6.7" fill="url(#bubG)" stroke="#606060" stroke-width="0.75"/><circle cx="614.3" cy="76.8" r="5.5" fill="url(#bubG)" stroke="#606060" stroke-width="0.75"/><circle cx="603.2" cy="85.7" r="4.4" fill="url(#bubG)" stroke="#606060" stroke-width="0.75"/><circle cx="598.7" cy="103.4" r="6.7" fill="url(#bubG)" stroke="#606060" stroke-width="0.75"/><circle cx="616.5" cy="99" r="8.9" fill="url(#bubG)" stroke="#606060" stroke-width="0.75"/><circle cx="625.3" cy="81.2" r="5.5" fill="url(#bubG)" stroke="#606060" stroke-width="0.75"/><circle cx="627.6" cy="63.5" r="4.4" fill="url(#bubG)" stroke="#606060" stroke-width="0.75"/><circle cx="585.4" cy="107.8" r="5.5" fill="url(#bubG)" stroke="#606060" stroke-width="0.75"/><circle cx="558.8" cy="92.3" r="3.3" fill="url(#bubG)" stroke="#606060" stroke-width="0.75"/><circle cx="530" cy="37" r="4" fill="url(#bubG)" stroke="#606060" stroke-width="0.75"/><circle cx="595" cy="60" r="4" fill="url(#bubG)" stroke="#606060" stroke-width="0.75"/><circle cx="610" cy="55" r="3" fill="url(#bubG)" stroke="#606060" stroke-width="0.75"/><circle cx="620" cy="112" r="5" fill="url(#bubG)" stroke="#606060" stroke-width="0.75"/><circle cx="540" cy="113" r="4" fill="url(#bubG)" stroke="#606060" stroke-width="0.75"/><circle cx="590" cy="95" r="3" fill="url(#bubG)" stroke="#606060" stroke-width="0.75"/><text x="515.6" y="50.5" font-size="17" fill="#f2e41a">PG</text></g>
<g id="gr" clip-path="url(#gClip)"><rect x="515.5" y="117.7" width="114.5" height="55.3" fill="url(#gskyG)"/><clipPath id="gSheet"><polygon points="515.5,126.3 544.3,118.7 630,132 630,173 515.5,173"/></clipPath><polygon points="515.5,126.3 544.3,118.7 630,132 630,173 515.5,173" fill="#5a5a5a"/><g clip-path="url(#gSheet)"><ellipse cx="513.0" cy="127.0" rx="1.30" ry="0.80" fill="rgb(95, 95, 85)"/><ellipse cx="516.0" cy="127.0" rx="1.30" ry="0.80" fill="rgb(95, 95, 85)"/><ellipse cx="519.0" cy="127.0" rx="1.30" ry="0.80" fill="rgb(95, 95, 85)"/><ellipse cx="522.0" cy="127.0" rx="1.30" ry="0.80" fill="rgb(95, 95, 85)"/><ellipse cx="525.0" cy="127.0" rx="1.30" ry="0.80" fill="rgb(95, 95, 85)"/><ellipse cx="528.0" cy="127.0" rx="1.30" ry="0.80" fill="rgb(95, 95, 85)"/><ellipse cx="530.9" cy="127.0" rx="1.30" ry="0.80" fill="rgb(95, 95, 85)"/><ellipse cx="533.9" cy="127.0" rx="1.30" ry="0.80" fill="rgb(95, 95, 85)"/><ellipse cx="536.9" cy="127.0" rx="1.30" ry="0.80" fill="rgb(95, 95, 85)"/><ellipse cx="539.9" cy="127.0" rx="1.30" ry="0.80" fill="rgb(95, 95, 85)"/><ellipse cx="542.9" cy="127.0" rx="1.30" ry="0.80" fill="rgb(95, 95, 85)"/><ellipse cx="545.9" cy="127.0" rx="1.30" ry="0.80" fill="rgb(95, 95, 85)"/><ellipse cx="548.9" cy="127.0" rx="1.30" ry="0.80" fill="rgb(95, 95, 85)"/><ellipse cx="551.9" cy="127.0" rx="1.30" ry="0.80" fill="rgb(95, 95, 85)"/><ellipse cx="554.9" cy="127.0" rx="1.30" ry="0.80" fill="rgb(95, 95, 85)"/><ellipse cx="557.9" cy="127.0" rx="1.30" ry="0.80" fill="rgb(95, 95, 85)"/><ellipse cx="560.8" cy="127.0" rx="1.30" ry="0.80" fill="rgb(95, 95, 85)"/><ellipse cx="563.8" cy="127.0" rx="1.30" ry="0.80" fill="rgb(95, 95, 85)"/><ellipse cx="566.8" cy="127.0" rx="1.30" ry="0.80" fill="rgb(95, 95, 85)"/><ellipse cx="569.8" cy="127.0" rx="1.30" ry="0.80" fill="rgb(95, 95, 85)"/><ellipse cx="572.8" cy="127.0" rx="1.30" ry="0.80" fill="rgb(95, 95, 85)"/><ellipse cx="575.8" cy="127.0" rx="1.30" ry="0.80" fill="rgb(95, 95, 85)"/><ellipse cx="578.8" cy="127.0" rx="1.30" ry="0.80" fill="rgb(95, 95, 85)"/><ellipse cx="581.8" cy="127.0" rx="1.30" ry="0.80" fill="rgb(95, 95, 85)"/><ellipse cx="584.8" cy="127.0" rx="1.30" ry="0.80" fill="rgb(95, 95, 85)"/><ellipse cx="587.8" cy="127.0" rx="1.30" ry="0.80" fill="rgb(95, 95, 85)"/><ellipse cx="590.7" cy="127.0" rx="1.30" ry="0.80" fill="rgb(95, 95, 85)"/><ellipse cx="593.7" cy="127.0" rx="1.30" ry="0.80" fill="rgb(95, 95, 85)"/><ellipse cx="596.7" cy="127.0" rx="1.30" ry="0.80" fill="rgb(95, 95, 85)"/><ellipse cx="599.7" cy="127.0" rx="1.30" ry="0.80" fill="rgb(95, 95, 85)"/><ellipse cx="602.7" cy="127.0" rx="1.30" ry="0.80" fill="rgb(95, 95, 85)"/><ellipse cx="605.7" cy="127.0" rx="1.30" ry="0.80" fill="rgb(95, 95, 85)"/><ellipse cx="608.7" cy="127.0" rx="1.30" ry="0.80" fill="rgb(95, 95, 85)"/><ellipse cx="611.7" cy="127.0" rx="1.30" ry="0.80" fill="rgb(95, 95, 85)"/><ellipse cx="614.7" cy="127.0" rx="1.30" ry="0.80" fill="rgb(95, 95, 85)"/><ellipse cx="617.7" cy="127.0" rx="1.30" ry="0.80" fill="rgb(95, 95, 85)"/><ellipse cx="620.6" cy="127.0" rx="1.30" ry="0.80" fill="rgb(95, 95, 85)"/><ellipse cx="623.6" cy="127.0" rx="1.30" ry="0.80" fill="rgb(95, 95, 85)"/><ellipse cx="626.6" cy="127.0" rx="1.30" ry="0.80" fill="rgb(95, 95, 85)"/><ellipse cx="629.6" cy="127.0" rx="1.30" ry="0.80" fill="rgb(95, 95, 85)"/><ellipse cx="632.6" cy="127.0" rx="1.30" ry="0.80" fill="rgb(95, 95, 85)"/><ellipse cx="511.1" cy="129.3" rx="1.68" ry="1.01" fill="rgb(114, 111, 76)"/><ellipse cx="514.9" cy="129.3" rx="1.68" ry="1.01" fill="rgb(114, 111, 76)"/><ellipse cx="518.8" cy="129.3" rx="1.68" ry="1.01" fill="rgb(114, 111, 76)"/><ellipse cx="522.6" cy="129.3" rx="1.68" ry="1.01" fill="rgb(114, 111, 76)"/><ellipse cx="526.5" cy="129.3" rx="1.68" ry="1.01" fill="rgb(114, 111, 76)"/><ellipse cx="530.4" cy="129.3" rx="1.68" ry="1.01" fill="rgb(114, 111, 76)"/><ellipse cx="534.2" cy="129.3" rx="1.68" ry="1.01" fill="rgb(114, 111, 76)"/><ellipse cx="538.1" cy="129.3" rx="1.68" ry="1.01" fill="rgb(114, 111, 76)"/><ellipse cx="541.9" cy="129.3" rx="1.68" ry="1.01" fill="rgb(114, 111, 76)"/><ellipse cx="545.8" cy="129.3" rx="1.68" ry="1.01" fill="rgb(114, 111, 76)"/><ellipse cx="549.7" cy="129.3" rx="1.68" ry="1.01" fill="rgb(114, 111, 76)"/><ellipse cx="553.5" cy="129.3" rx="1.68" ry="1.01" fill="rgb(114, 111, 76)"/><ellipse cx="557.4" cy="129.3" rx="1.68" ry="1.01" fill="rgb(114, 111, 76)"/><ellipse cx="561.2" cy="129.3" rx="1.68" ry="1.01" fill="rgb(114, 111, 76)"/><ellipse cx="565.1" cy="129.3" rx="1.68" ry="1.01" fill="rgb(114, 111, 76)"/><ellipse cx="569.0" cy="129.3" rx="1.68" ry="1.01" fill="rgb(114, 111, 76)"/><ellipse cx="572.8" cy="129.3" rx="1.68" ry="1.01" fill="rgb(114, 111, 76)"/><ellipse cx="576.7" cy="129.3" rx="1.68" ry="1.01" fill="rgb(114, 111, 76)"/><ellipse cx="580.5" cy="129.3" rx="1.68" ry="1.01" fill="rgb(114, 111, 76)"/><ellipse cx="584.4" cy="129.3" rx="1.68" ry="1.01" fill="rgb(114, 111, 76)"/><ellipse cx="588.2" cy="129.3" rx="1.68" ry="1.01" fill="rgb(114, 111, 76)"/><ellipse cx="592.1" cy="129.3" rx="1.68" ry="1.01" fill="rgb(114, 111, 76)"/><ellipse cx="596.0" cy="129.3" rx="1.68" ry="1.01" fill="rgb(114, 111, 76)"/><ellipse cx="599.8" cy="129.3" rx="1.68" ry="1.01" fill="rgb(114, 111, 76)"/><ellipse cx="603.7" cy="129.3" rx="1.68" ry="1.01" fill="rgb(114, 111, 76)"/><ellipse cx="607.5" cy="129.3" rx="1.68" ry="1.01" fill="rgb(114, 111, 76)"/><ellipse cx="611.4" cy="129.3" rx="1.68" ry="1.01" fill="rgb(114, 111, 76)"/><ellipse cx="615.3" cy="129.3" rx="1.68" ry="1.01" fill="rgb(114, 111, 76)"/><ellipse cx="619.1" cy="129.3" rx="1.68" ry="1.01" fill="rgb(114, 111, 76)"/><ellipse cx="623.0" cy="129.3" rx="1.68" ry="1.01" fill="rgb(114, 111, 76)"/><ellipse cx="626.8" cy="129.3" rx="1.68" ry="1.01" fill="rgb(114, 111, 76)"/><ellipse cx="630.7" cy="129.3" rx="1.68" ry="1.01" fill="rgb(114, 111, 76)"/><ellipse cx="513.0" cy="132.9" rx="2.06" ry="1.22" fill="rgb(140, 133, 66)"/><ellipse cx="517.7" cy="132.9" rx="2.06" ry="1.22" fill="rgb(140, 133, 66)"/><ellipse cx="522.5" cy="132.9" rx="2.06" ry="1.22" fill="rgb(140, 133, 66)"/><ellipse cx="527.2" cy="132.9" rx="2.06" ry="1.22" fill="rgb(140, 133, 66)"/><ellipse cx="531.9" cy="132.9" rx="2.06" ry="1.22" fill="rgb(140, 133, 66)"/><ellipse cx="536.6" cy="132.9" rx="2.06" ry="1.22" fill="rgb(140, 133, 66)"/><ellipse cx="541.4" cy="132.9" rx="2.06" ry="1.22" fill="rgb(140, 133, 66)"/><ellipse cx="546.1" cy="132.9" rx="2.06" ry="1.22" fill="rgb(140, 133, 66)"/><ellipse cx="550.8" cy="132.9" rx="2.06" ry="1.22" fill="rgb(140, 133, 66)"/><ellipse cx="555.5" cy="132.9" rx="2.06" ry="1.22" fill="rgb(140, 133, 66)"/><ellipse cx="560.3" cy="132.9" rx="2.06" ry="1.22" fill="rgb(140, 133, 66)"/><ellipse cx="565.0" cy="132.9" rx="2.06" ry="1.22" fill="rgb(140, 133, 66)"/><ellipse cx="569.7" cy="132.9" rx="2.06" ry="1.22" fill="rgb(140, 133, 66)"/><ellipse cx="574.5" cy="132.9" rx="2.06" ry="1.22" fill="rgb(140, 133, 66)"/><ellipse cx="579.2" cy="132.9" rx="2.06" ry="1.22" fill="rgb(140, 133, 66)"/><ellipse cx="583.9" cy="132.9" rx="2.06" ry="1.22" fill="rgb(140, 133, 66)"/><ellipse cx="588.6" cy="132.9" rx="2.06" ry="1.22" fill="rgb(140, 133, 66)"/><ellipse cx="593.4" cy="132.9" rx="2.06" ry="1.22" fill="rgb(140, 133, 66)"/><ellipse cx="598.1" cy="132.9" rx="2.06" ry="1.22" fill="rgb(140, 133, 66)"/><ellipse cx="602.8" cy="132.9" rx="2.06" ry="1.22" fill="rgb(140, 133, 66)"/><ellipse cx="607.6" cy="132.9" rx="2.06" ry="1.22" fill="rgb(140, 133, 66)"/><ellipse cx="612.3" cy="132.9" rx="2.06" ry="1.22" fill="rgb(140, 133, 66)"/><ellipse cx="617.0" cy="132.9" rx="2.06" ry="1.22" fill="rgb(140, 133, 66)"/><ellipse cx="621.7" cy="132.9" rx="2.06" ry="1.22" fill="rgb(140, 133, 66)"/><ellipse cx="626.5" cy="132.9" rx="2.06" ry="1.22" fill="rgb(140, 133, 66)"/><ellipse cx="631.2" cy="132.9" rx="2.06" ry="1.22" fill="rgb(140, 133, 66)"/><ellipse cx="510.2" cy="137.2" rx="2.43" ry="1.43" fill="rgb(192, 173, 51)"/><ellipse cx="515.8" cy="137.2" rx="2.43" ry="1.43" fill="rgb(192, 173, 51)"/><ellipse cx="521.4" cy="137.2" rx="2.43" ry="1.43" fill="rgb(192, 173, 51)"/><ellipse cx="527.0" cy="137.2" rx="2.43" ry="1.43" fill="rgb(192, 173, 51)"/><ellipse cx="532.6" cy="137.2" rx="2.43" ry="1.43" fill="rgb(192, 173, 51)"/><ellipse cx="538.2" cy="137.2" rx="2.43" ry="1.43" fill="rgb(192, 173, 51)"/><ellipse cx="543.8" cy="137.2" rx="2.43" ry="1.43" fill="rgb(192, 173, 51)"/><ellipse cx="549.4" cy="137.2" rx="2.43" ry="1.43" fill="rgb(192, 173, 51)"/><ellipse cx="555.0" cy="137.2" rx="2.43" ry="1.43" fill="rgb(192, 173, 51)"/><ellipse cx="560.6" cy="137.2" rx="2.43" ry="1.43" fill="rgb(192, 173, 51)"/><ellipse cx="566.2" cy="137.2" rx="2.43" ry="1.43" fill="rgb(192, 173, 51)"/><ellipse cx="571.8" cy="137.2" rx="2.43" ry="1.43" fill="rgb(192, 173, 51)"/><ellipse cx="577.4" cy="137.2" rx="2.43" ry="1.43" fill="rgb(192, 173, 51)"/><ellipse cx="583.0" cy="137.2" rx="2.43" ry="1.43" fill="rgb(192, 173, 51)"/><ellipse cx="588.6" cy="137.2" rx="2.43" ry="1.43" fill="rgb(192, 173, 51)"/><ellipse cx="594.2" cy="137.2" rx="2.43" ry="1.43" fill="rgb(192, 173, 51)"/><ellipse cx="599.7" cy="137.2" rx="2.43" ry="1.43" fill="rgb(192, 173, 51)"/><ellipse cx="605.3" cy="137.2" rx="2.43" ry="1.43" fill="rgb(192, 173, 51)"/><ellipse cx="610.9" cy="137.2" rx="2.43" ry="1.43" fill="rgb(192, 173, 51)"/><ellipse cx="616.5" cy="137.2" rx="2.43" ry="1.43" fill="rgb(192, 173, 51)"/><ellipse cx="622.1" cy="137.2" rx="2.43" ry="1.43" fill="rgb(192, 173, 51)"/><ellipse cx="627.7" cy="137.2" rx="2.43" ry="1.43" fill="rgb(192, 173, 51)"/><ellipse cx="513.0" cy="142.1" rx="2.81" ry="1.64" fill="rgb(224, 186, 43)"/><ellipse cx="519.5" cy="142.1" rx="2.81" ry="1.64" fill="rgb(224, 186, 43)"/><ellipse cx="525.9" cy="142.1" rx="2.81" ry="1.64" fill="rgb(224, 186, 43)"/><ellipse cx="532.4" cy="142.1" rx="2.81" ry="1.64" fill="rgb(224, 186, 43)"/><ellipse cx="538.9" cy="142.1" rx="2.81" ry="1.64" fill="rgb(224, 186, 43)"/><ellipse cx="545.3" cy="142.1" rx="2.81" ry="1.64" fill="rgb(224, 186, 43)"/><ellipse cx="551.8" cy="142.1" rx="2.81" ry="1.64" fill="rgb(224, 186, 43)"/><ellipse cx="558.3" cy="142.1" rx="2.81" ry="1.64" fill="rgb(224, 186, 43)"/><ellipse cx="564.7" cy="142.1" rx="2.81" ry="1.64" fill="rgb(224, 186, 43)"/><ellipse cx="571.2" cy="142.1" rx="2.81" ry="1.64" fill="rgb(224, 186, 43)"/><ellipse cx="577.7" cy="142.1" rx="2.81" ry="1.64" fill="rgb(224, 186, 43)"/><ellipse cx="584.1" cy="142.1" rx="2.81" ry="1.64" fill="rgb(224, 186, 43)"/><ellipse cx="590.6" cy="142.1" rx="2.81" ry="1.64" fill="rgb(224, 186, 43)"/><ellipse cx="597.1" cy="142.1" rx="2.81" ry="1.64" fill="rgb(224, 186, 43)"/><ellipse cx="603.5" cy="142.1" rx="2.81" ry="1.64" fill="rgb(224, 186, 43)"/><ellipse cx="610.0" cy="142.1" rx="2.81" ry="1.64" fill="rgb(224, 186, 43)"/><ellipse cx="616.4" cy="142.1" rx="2.81" ry="1.64" fill="rgb(224, 186, 43)"/><ellipse cx="622.9" cy="142.1" rx="2.81" ry="1.64" fill="rgb(224, 186, 43)"/><ellipse cx="629.4" cy="142.1" rx="2.81" ry="1.64" fill="rgb(224, 186, 43)"/><ellipse cx="509.3" cy="147.4" rx="3.19" ry="1.86" fill="rgb(239, 178, 40)"/><ellipse cx="516.7" cy="147.4" rx="3.19" ry="1.86" fill="rgb(239, 178, 40)"/><ellipse cx="524.0" cy="147.4" rx="3.19" ry="1.86" fill="rgb(239, 178, 40)"/><ellipse cx="531.3" cy="147.4" rx="3.19" ry="1.86" fill="rgb(239, 178, 40)"/><ellipse cx="538.7" cy="147.4" rx="3.19" ry="1.86" fill="rgb(239, 178, 40)"/><ellipse cx="546.0" cy="147.4" rx="3.19" ry="1.86" fill="rgb(239, 178, 40)"/><ellipse cx="553.3" cy="147.4" rx="3.19" ry="1.86" fill="rgb(239, 178, 40)"/><ellipse cx="560.7" cy="147.4" rx="3.19" ry="1.86" fill="rgb(239, 178, 40)"/><ellipse cx="568.0" cy="147.4" rx="3.19" ry="1.86" fill="rgb(239, 178, 40)"/><ellipse cx="575.3" cy="147.4" rx="3.19" ry="1.86" fill="rgb(239, 178, 40)"/><ellipse cx="582.7" cy="147.4" rx="3.19" ry="1.86" fill="rgb(239, 178, 40)"/><ellipse cx="590.0" cy="147.4" rx="3.19" ry="1.86" fill="rgb(239, 178, 40)"/><ellipse cx="597.3" cy="147.4" rx="3.19" ry="1.86" fill="rgb(239, 178, 40)"/><ellipse cx="604.7" cy="147.4" rx="3.19" ry="1.86" fill="rgb(239, 178, 40)"/><ellipse cx="612.0" cy="147.4" rx="3.19" ry="1.86" fill="rgb(239, 178, 40)"/><ellipse cx="619.3" cy="147.4" rx="3.19" ry="1.86" fill="rgb(239, 178, 40)"/><ellipse cx="626.7" cy="147.4" rx="3.19" ry="1.86" fill="rgb(239, 178, 40)"/><ellipse cx="513.0" cy="153.0" rx="3.57" ry="2.07" fill="rgb(240, 156, 47)"/><ellipse cx="521.2" cy="153.0" rx="3.57" ry="2.07" fill="rgb(240, 156, 47)"/><ellipse cx="529.4" cy="153.0" rx="3.57" ry="2.07" fill="rgb(240, 156, 47)"/><ellipse cx="537.6" cy="153.0" rx="3.57" ry="2.07" fill="rgb(240, 156, 47)"/><ellipse cx="545.8" cy="153.0" rx="3.57" ry="2.07" fill="rgb(240, 156, 47)"/><ellipse cx="554.0" cy="153.0" rx="3.57" ry="2.07" fill="rgb(240, 156, 47)"/><ellipse cx="562.2" cy="153.0" rx="3.57" ry="2.07" fill="rgb(240, 156, 47)"/><ellipse cx="570.4" cy="153.0" rx="3.57" ry="2.07" fill="rgb(240, 156, 47)"/><ellipse cx="578.6" cy="153.0" rx="3.57" ry="2.07" fill="rgb(240, 156, 47)"/><ellipse cx="586.8" cy="153.0" rx="3.57" ry="2.07" fill="rgb(240, 156, 47)"/><ellipse cx="595.0" cy="153.0" rx="3.57" ry="2.07" fill="rgb(240, 156, 47)"/><ellipse cx="603.2" cy="153.0" rx="3.57" ry="2.07" fill="rgb(240, 156, 47)"/><ellipse cx="611.4" cy="153.0" rx="3.57" ry="2.07" fill="rgb(240, 156, 47)"/><ellipse cx="619.6" cy="153.0" rx="3.57" ry="2.07" fill="rgb(240, 156, 47)"/><ellipse cx="627.8" cy="153.0" rx="3.57" ry="2.07" fill="rgb(240, 156, 47)"/><ellipse cx="508.5" cy="159.1" rx="3.94" ry="2.28" fill="rgb(240, 124, 88)"/><ellipse cx="517.5" cy="159.1" rx="3.94" ry="2.28" fill="rgb(240, 124, 88)"/><ellipse cx="526.6" cy="159.1" rx="3.94" ry="2.28" fill="rgb(240, 124, 88)"/><ellipse cx="535.7" cy="159.1" rx="3.94" ry="2.28" fill="rgb(240, 124, 88)"/><ellipse cx="544.8" cy="159.1" rx="3.94" ry="2.28" fill="rgb(240, 124, 88)"/><ellipse cx="553.8" cy="159.1" rx="3.94" ry="2.28" fill="rgb(240, 124, 88)"/><ellipse cx="562.9" cy="159.1" rx="3.94" ry="2.28" fill="rgb(240, 124, 88)"/><ellipse cx="572.0" cy="159.1" rx="3.94" ry="2.28" fill="rgb(240, 124, 88)"/><ellipse cx="581.0" cy="159.1" rx="3.94" ry="2.28" fill="rgb(240, 124, 88)"/><ellipse cx="590.1" cy="159.1" rx="3.94" ry="2.28" fill="rgb(240, 124, 88)"/><ellipse cx="599.2" cy="159.1" rx="3.94" ry="2.28" fill="rgb(240, 124, 88)"/><ellipse cx="608.3" cy="159.1" rx="3.94" ry="2.28" fill="rgb(240, 124, 88)"/><ellipse cx="617.3" cy="159.1" rx="3.94" ry="2.28" fill="rgb(240, 124, 88)"/><ellipse cx="626.4" cy="159.1" rx="3.94" ry="2.28" fill="rgb(240, 124, 88)"/><ellipse cx="513.0" cy="165.4" rx="4.32" ry="2.49" fill="rgb(240, 84, 170)"/><ellipse cx="522.9" cy="165.4" rx="4.32" ry="2.49" fill="rgb(240, 84, 170)"/><ellipse cx="532.9" cy="165.4" rx="4.32" ry="2.49" fill="rgb(240, 84, 170)"/><ellipse cx="542.8" cy="165.4" rx="4.32" ry="2.49" fill="rgb(240, 84, 170)"/><ellipse cx="552.8" cy="165.4" rx="4.32" ry="2.49" fill="rgb(240, 84, 170)"/><ellipse cx="562.7" cy="165.4" rx="4.32" ry="2.49" fill="rgb(240, 84, 170)"/><ellipse cx="572.6" cy="165.4" rx="4.32" ry="2.49" fill="rgb(240, 84, 170)"/><ellipse cx="582.6" cy="165.4" rx="4.32" ry="2.49" fill="rgb(240, 84, 170)"/><ellipse cx="592.5" cy="165.4" rx="4.32" ry="2.49" fill="rgb(240, 84, 170)"/><ellipse cx="602.5" cy="165.4" rx="4.32" ry="2.49" fill="rgb(240, 84, 170)"/><ellipse cx="612.4" cy="165.4" rx="4.32" ry="2.49" fill="rgb(240, 84, 170)"/><ellipse cx="622.4" cy="165.4" rx="4.32" ry="2.49" fill="rgb(240, 84, 170)"/><ellipse cx="632.3" cy="165.4" rx="4.32" ry="2.49" fill="rgb(240, 84, 170)"/><ellipse cx="507.6" cy="172.0" rx="4.70" ry="2.70" fill="rgb(240, 50, 215)"/><ellipse cx="518.4" cy="172.0" rx="4.70" ry="2.70" fill="rgb(240, 50, 215)"/><ellipse cx="529.2" cy="172.0" rx="4.70" ry="2.70" fill="rgb(240, 50, 215)"/><ellipse cx="540.0" cy="172.0" rx="4.70" ry="2.70" fill="rgb(240, 50, 215)"/><ellipse cx="550.8" cy="172.0" rx="4.70" ry="2.70" fill="rgb(240, 50, 215)"/><ellipse cx="561.6" cy="172.0" rx="4.70" ry="2.70" fill="rgb(240, 50, 215)"/><ellipse cx="572.5" cy="172.0" rx="4.70" ry="2.70" fill="rgb(240, 50, 215)"/><ellipse cx="583.3" cy="172.0" rx="4.70" ry="2.70" fill="rgb(240, 50, 215)"/><ellipse cx="594.1" cy="172.0" rx="4.70" ry="2.70" fill="rgb(240, 50, 215)"/><ellipse cx="604.9" cy="172.0" rx="4.70" ry="2.70" fill="rgb(240, 50, 215)"/><ellipse cx="615.7" cy="172.0" rx="4.70" ry="2.70" fill="rgb(240, 50, 215)"/><ellipse cx="626.5" cy="172.0" rx="4.70" ry="2.70" fill="rgb(240, 50, 215)"/></g><g transform="translate(-5.5 -0.5)"><path d="M551 133L553 137L557 137L554 140L555 144L551 142L547 144L548 140L545 137L549 137Z" fill="#ffd828"/><circle cx="547" cy="136" r="1" fill="#d02010"/><circle cx="555" cy="141" r="1" fill="#d02010"/></g><g transform="translate(12 -1.5)"><path d="M580 149L583 154L588 154L584 157L586 162L580 159L575 162L577 157L572 154L577 154Z" fill="#ffa020"/><circle cx="586" cy="158" r="1.2" fill="#d02010"/></g></g>
<g id="stirrer">
  <linearGradient id="poleG" x1="0" y1="0" x2="1" y2="0"><stop offset="0" stop-color="#6a6a6a"/><stop offset="0.4" stop-color="#c8c8c8"/><stop offset="1" stop-color="#7a7a7a"/></linearGradient>
  <linearGradient id="motG" x1="0" y1="0" x2="1" y2="0"><stop offset="0" stop-color="#243f98"/><stop offset="0.45" stop-color="#4e6ec8"/><stop offset="1" stop-color="#1f3a8c"/></linearGradient>
  <rect x="23.2" y="246.3" width="3.3" height="72" fill="url(#poleG)"/>
  <path d="M36.5 248.3C36.5 242 40 240.1 46.7 240.1C53.5 240.1 57 242 57 248.3Z" fill="#5574cc"/>
  <rect x="35.5" y="247.5" width="22.5" height="21.5" fill="url(#motG)"/>
  <g stroke="#1e3478" stroke-width="0.9" opacity="0.8">
    <path d="M38.5 250V268M41.5 250V268M44.5 250V268M47.5 250V268M50.5 250V268M53.5 250V268M56 250V268"/>
  </g>
  <rect x="19.1" y="271" width="15.8" height="5.8" rx="1.5" fill="#151515"/>
  <rect x="31" y="269.5" width="5" height="9" rx="1" fill="#222"/>
  <rect x="34.5" y="268.8" width="30.7" height="24.6" rx="2" fill="#3b58b4"/>
  <rect x="46" y="270" width="19" height="23" rx="1.5" fill="#4868c4"/>
  <circle cx="55" cy="279" r="1.6" fill="#30c060"/>
  <circle cx="59.5" cy="278.5" r="1.8" fill="#2a3a70"/>
  <rect x="52" y="287" width="6" height="1.6" fill="#d8e0f0"/>
  <rect x="48.8" y="293.4" width="12.2" height="3" fill="#3a58b0"/>
  <rect x="49.8" y="296.4" width="9.2" height="10.3" fill="#a8a8a8"/>
  <path d="M50 299H59M50 302H59M50 305H59" stroke="#5a5a5a" stroke-width="0.7"/>
  <rect x="51.9" y="306.7" width="3.1" height="12" fill="#909090"/>
</g>
<g id="vortex"><g clip-path="url(#vClip)"><rect x="96" y="237.2" width="112" height="176.5" fill="url(#vbg)"/><rect x="96" y="237.2" width="112" height="60" fill="url(#vtop)"/><path d="M96 250C108 256 116 270 118 290L96 296Z" fill="#3a8ec0" opacity="0.75"/><path d="M208 252C200 260 198 272 200 286L208 288Z" fill="#4aa0c8" opacity="0.7"/><path d="M100 282 C125 294 175 294 206 279 C196 295 186 315 178 340 C175 346 172 350 170 354 L146 354 C140 335 128 310 100 282Z" fill="url(#funnelG)"/><path d="M104 284 C130 296 172 296 203 281 C200 287 196 292 193 296 C170 304 135 304 112 293Z" fill="#164a86" opacity="0.8"/><g fill="none" stroke="#6ab0e0" stroke-width="0.8" opacity="0.5"><path d="M110 290C135 300 170 300 198 288"/><path d="M121 305C145 312 172 310 192 300"/><path d="M134 322C150 327 168 324 183 316"/><path d="M142 335C153 339 166 336 178 329"/></g><g fill="none" stroke="#d8eef8" stroke-width="0.9" opacity="0.45"><path d="M118 300C140 308 172 306 194 296"/><path d="M124 309C146 316 170 313 189 305"/><path d="M130 318C150 324 168 321 184 314"/><path d="M136 328C152 332 166 329 180 322"/><path d="M141 338C152 341 164 339 176 332"/><path d="M145 347C154 349 163 347 172 342"/></g><g fill="#163e6e"><ellipse cx="160" cy="356" rx="9" ry="5" transform="rotate(-35 160 356)"/><ellipse cx="156" cy="366" rx="8" ry="4.5" transform="rotate(35 156 366)"/><ellipse cx="158" cy="376" rx="7.5" ry="4.5" transform="rotate(-35 158 376)"/><ellipse cx="154" cy="386" rx="7" ry="4.2" transform="rotate(35 154 386)"/><ellipse cx="156" cy="396" rx="6.5" ry="4" transform="rotate(-35 156 396)"/><ellipse cx="152" cy="405" rx="6" ry="4" transform="rotate(35 152 405)"/><ellipse cx="153" cy="413" rx="5.5" ry="4" transform="rotate(-35 153 413)"/></g><g fill="#7ab8e0" opacity="0.7"><ellipse cx="161.5" cy="355" rx="4.5" ry="1.75" transform="rotate(-35 160 356)"/><ellipse cx="157.5" cy="365" rx="4.0" ry="1.575" transform="rotate(35 156 366)"/><ellipse cx="159.5" cy="375" rx="3.75" ry="1.575" transform="rotate(-35 158 376)"/><ellipse cx="155.5" cy="385" rx="3.5" ry="1.47" transform="rotate(35 154 386)"/><ellipse cx="157.5" cy="395" rx="3.25" ry="1.4" transform="rotate(-35 156 396)"/><ellipse cx="153.5" cy="404" rx="3.0" ry="1.4" transform="rotate(35 152 405)"/><ellipse cx="154.5" cy="412" rx="2.75" ry="1.4" transform="rotate(-35 153 413)"/></g><path d="M100 248C125 242 175 242 206 250C195 262 172 272 150 274C128 272 110 262 100 248Z" fill="#f0fafd" opacity="0.55"/></g><polygon points="91.9,251.2 120.1,253.6 130.9,263.2 103.2,260.8" fill="#8e8e8e" stroke="#7a7a7a" stroke-width="0.4"/><polygon points="135.8,255.3 182.7,234.3 203.2,240.8 156.2,261.3" fill="#8e8e8e" stroke="#7a7a7a" stroke-width="0.4"/><polygon points="162.3,267.3 206.8,251.7 215.2,256.5 175.5,273.4" fill="#8e8e8e" stroke="#7a7a7a" stroke-width="0.4"/><polygon points="90,275.8 100.8,272.1 129.7,281.8 120.1,287.8" fill="#8e8e8e" stroke="#7a7a7a" stroke-width="0.4"/><polygon points="145.4,280.6 182.7,277 192.4,284.2 153.8,286.6" fill="#8e8e8e" stroke="#7a7a7a" stroke-width="0.4"/><polygon points="165.4,300 190,298 194,302.8 167,304.7" fill="#8e8e8e" stroke="#7a7a7a" stroke-width="0.4"/><polygon points="161.2,309.7 184.8,306.9 190.4,311.1 165.4,313.9" fill="#8e8e8e" stroke="#7a7a7a" stroke-width="0.4"/><polygon points="159.9,318 182,313.9 190.4,318 168.2,322.2" fill="#8e8e8e" stroke="#7a7a7a" stroke-width="0.4"/><polygon points="158.5,329.1 180.6,326.3 184.8,330.5 162.6,333.3" fill="#8e8e8e" stroke="#7a7a7a" stroke-width="0.4"/><polygon points="155.7,334.7 179.3,331.9 183.4,336 161.2,338.8" fill="#8e8e8e" stroke="#7a7a7a" stroke-width="0.4"/><polygon points="152.9,340.2 173.7,338.8 176.5,343 157.1,345.7" fill="#8e8e8e" stroke="#7a7a7a" stroke-width="0.4"/><polygon points="144.6,355.4 164,354.1 165.4,358.2 147.4,359.6" fill="#8e8e8e" stroke="#7a7a7a" stroke-width="0.4"/><polygon points="143.2,370.7 161.2,369.3 162.6,373.5 146,374.9" fill="#8e8e8e" stroke="#7a7a7a" stroke-width="0.4"/></g>
<g id="greenimg" clip-path="url(#grClip)"><radialGradient id="grBg" cx="0.5" cy="0.5" r="0.75"><stop offset="0" stop-color="#1e821e"/><stop offset="0.6" stop-color="#166e18"/><stop offset="1" stop-color="#0c520c"/></radialGradient><linearGradient id="ringG" x1="0" y1="0" x2="1" y2="0"><stop offset="0" stop-color="#58ff58"/><stop offset="0.3" stop-color="#3ce83c"/><stop offset="0.7" stop-color="#30c030" stop-opacity="0.6"/><stop offset="1" stop-color="#28b028" stop-opacity="0.3"/></linearGradient><rect x="228.4" y="253.1" width="82.3" height="64.2" fill="url(#grBg)"/><circle cx="265.6" cy="289.3" r="2.5" fill="#2a9a2a" opacity="0.3"/><circle cx="266.7" cy="286.0" r="1.9" fill="#2a9a2a" opacity="0.3"/><circle cx="244.0" cy="286.3" r="2.0" fill="#2a9a2a" opacity="0.3"/><circle cx="293.2" cy="259.9" r="1.5" fill="#2a9a2a" opacity="0.3"/><circle cx="236.3" cy="305.0" r="2.1" fill="#2a9a2a" opacity="0.3"/><circle cx="232.4" cy="315.9" r="2.5" fill="#2a9a2a" opacity="0.3"/><circle cx="282.0" cy="292.8" r="1.3" fill="#2a9a2a" opacity="0.3"/><circle cx="230.2" cy="287.3" r="1.1" fill="#2a9a2a" opacity="0.3"/><circle cx="244.4" cy="269.2" r="1.0" fill="#2a9a2a" opacity="0.3"/><circle cx="266.6" cy="281.8" r="2.3" fill="#2a9a2a" opacity="0.3"/><circle cx="271.0" cy="294.3" r="1.8" fill="#2a9a2a" opacity="0.3"/><circle cx="282.7" cy="282.8" r="1.4" fill="#2a9a2a" opacity="0.3"/><circle cx="309.8" cy="316.7" r="2.3" fill="#2a9a2a" opacity="0.3"/><circle cx="286.3" cy="273.9" r="1.4" fill="#2a9a2a" opacity="0.3"/><circle cx="252.4" cy="258.4" r="2.2" fill="#2a9a2a" opacity="0.3"/><circle cx="261.4" cy="307.3" r="1.6" fill="#2a9a2a" opacity="0.3"/><circle cx="306.6" cy="307.4" r="1.0" fill="#2a9a2a" opacity="0.3"/><circle cx="246.0" cy="311.3" r="1.8" fill="#2a9a2a" opacity="0.3"/><circle cx="308.4" cy="279.0" r="1.1" fill="#2a9a2a" opacity="0.3"/><circle cx="280.0" cy="303.0" r="1.4" fill="#2a9a2a" opacity="0.3"/><circle cx="236.1" cy="275.0" r="2.5" fill="#2a9a2a" opacity="0.3"/><circle cx="290.4" cy="261.4" r="1.4" fill="#2a9a2a" opacity="0.3"/><circle cx="237.2" cy="257.8" r="2.3" fill="#2a9a2a" opacity="0.3"/><circle cx="243.4" cy="289.2" r="1.7" fill="#2a9a2a" opacity="0.3"/><circle cx="244.4" cy="300.1" r="1.2" fill="#2a9a2a" opacity="0.3"/><circle cx="281.1" cy="261.3" r="1.7" fill="#2a9a2a" opacity="0.3"/><circle cx="246.2" cy="271.0" r="2.6" fill="#2a9a2a" opacity="0.3"/><circle cx="294.1" cy="273.2" r="2.4" fill="#2a9a2a" opacity="0.3"/><circle cx="246.1" cy="278.8" r="2.4" fill="#2a9a2a" opacity="0.3"/><circle cx="281.0" cy="260.3" r="2.6" fill="#2a9a2a" opacity="0.3"/><circle cx="246.3" cy="270.3" r="2.2" fill="#2a9a2a" opacity="0.3"/><circle cx="255.6" cy="272.7" r="1.1" fill="#2a9a2a" opacity="0.3"/><circle cx="236.3" cy="290.7" r="1.4" fill="#2a9a2a" opacity="0.3"/><circle cx="277.7" cy="277.4" r="1.7" fill="#2a9a2a" opacity="0.3"/><circle cx="306.7" cy="284.5" r="1.9" fill="#2a9a2a" opacity="0.3"/><circle cx="299.2" cy="265.5" r="1.2" fill="#2a9a2a" opacity="0.3"/><circle cx="302.6" cy="305.5" r="1.4" fill="#2a9a2a" opacity="0.3"/><circle cx="244.4" cy="300.6" r="2.5" fill="#2a9a2a" opacity="0.3"/><circle cx="244.9" cy="313.9" r="2.4" fill="#2a9a2a" opacity="0.3"/><circle cx="277.9" cy="280.6" r="1.2" fill="#2a9a2a" opacity="0.3"/><circle cx="232.1" cy="314.6" r="1.4" fill="#2a9a2a" opacity="0.3"/><circle cx="286.1" cy="270.2" r="2.3" fill="#2a9a2a" opacity="0.3"/><circle cx="277.3" cy="272.5" r="1.3" fill="#2a9a2a" opacity="0.3"/><circle cx="287.3" cy="258.3" r="1.4" fill="#2a9a2a" opacity="0.3"/><circle cx="274.3" cy="307.7" r="2.0" fill="#2a9a2a" opacity="0.3"/><circle cx="251.7" cy="311.8" r="1.3" fill="#2a9a2a" opacity="0.3"/><circle cx="230.3" cy="271.0" r="1.7" fill="#2a9a2a" opacity="0.3"/><circle cx="233.9" cy="265.1" r="1.6" fill="#2a9a2a" opacity="0.3"/><circle cx="275.3" cy="262.3" r="1.6" fill="#2a9a2a" opacity="0.3"/><circle cx="301.2" cy="315.8" r="2.1" fill="#2a9a2a" opacity="0.3"/><circle cx="285.0" cy="290.8" r="1.2" fill="#2a9a2a" opacity="0.3"/><circle cx="231.8" cy="255.1" r="2.5" fill="#2a9a2a" opacity="0.3"/><circle cx="285.8" cy="314.7" r="1.0" fill="#2a9a2a" opacity="0.3"/><circle cx="280.5" cy="284.4" r="2.2" fill="#2a9a2a" opacity="0.3"/><circle cx="254.8" cy="317.0" r="1.1" fill="#2a9a2a" opacity="0.3"/><circle cx="273.2" cy="300.4" r="2.4" fill="#2a9a2a" opacity="0.3"/><circle cx="288.7" cy="298.3" r="2.3" fill="#2a9a2a" opacity="0.3"/><circle cx="303.1" cy="276.2" r="2.1" fill="#2a9a2a" opacity="0.3"/><circle cx="302.0" cy="308.9" r="1.7" fill="#2a9a2a" opacity="0.3"/><circle cx="293.0" cy="308.4" r="1.9" fill="#2a9a2a" opacity="0.3"/><circle cx="279.6" cy="278.1" r="1.9" fill="#2a9a2a" opacity="0.3"/><circle cx="278.3" cy="259.1" r="2.0" fill="#2a9a2a" opacity="0.3"/><circle cx="309.5" cy="309.4" r="2.2" fill="#2a9a2a" opacity="0.3"/><circle cx="260.5" cy="300.3" r="1.9" fill="#2a9a2a" opacity="0.3"/><circle cx="264.7" cy="306.8" r="1.1" fill="#2a9a2a" opacity="0.3"/><circle cx="289.8" cy="255.9" r="2.0" fill="#2a9a2a" opacity="0.3"/><circle cx="268.0" cy="268.5" r="2.1" fill="#2a9a2a" opacity="0.3"/><circle cx="269.3" cy="292.7" r="2.5" fill="#2a9a2a" opacity="0.3"/><circle cx="249.7" cy="254.7" r="1.5" fill="#2a9a2a" opacity="0.3"/><circle cx="283.9" cy="266.8" r="1.3" fill="#2a9a2a" opacity="0.3"/><circle cx="302.4" cy="295.6" r="1.7" fill="#2a9a2a" opacity="0.3"/><circle cx="301.2" cy="274.6" r="2.1" fill="#2a9a2a" opacity="0.3"/><circle cx="245.1" cy="281.1" r="2.3" fill="#2a9a2a" opacity="0.3"/><circle cx="303.1" cy="309.5" r="1.6" fill="#2a9a2a" opacity="0.3"/><circle cx="276.2" cy="273.9" r="1.2" fill="#2a9a2a" opacity="0.3"/><circle cx="269.2" cy="306.7" r="2.4" fill="#2a9a2a" opacity="0.3"/><circle cx="286.6" cy="313.9" r="1.4" fill="#2a9a2a" opacity="0.3"/><circle cx="242.7" cy="282.4" r="1.4" fill="#2a9a2a" opacity="0.3"/><circle cx="246.3" cy="280.1" r="2.0" fill="#2a9a2a" opacity="0.3"/><circle cx="269.0" cy="273.9" r="2.3" fill="#2a9a2a" opacity="0.3"/><circle cx="308.5" cy="282.5" r="1.1" fill="#2a9a2a" opacity="0.3"/><circle cx="231.6" cy="309.0" r="1.1" fill="#2a9a2a" opacity="0.3"/><circle cx="286.4" cy="289.9" r="1.5" fill="#2a9a2a" opacity="0.3"/><circle cx="293.1" cy="255.2" r="1.2" fill="#2a9a2a" opacity="0.3"/><circle cx="265.8" cy="255.6" r="2.3" fill="#2a9a2a" opacity="0.3"/><circle cx="248.2" cy="262.9" r="1.1" fill="#2a9a2a" opacity="0.3"/><circle cx="280.0" cy="282.1" r="2.0" fill="#2a9a2a" opacity="0.3"/><circle cx="282.1" cy="304.9" r="2.5" fill="#2a9a2a" opacity="0.3"/><circle cx="284.4" cy="266.6" r="1.8" fill="#2a9a2a" opacity="0.3"/><circle cx="243.5" cy="254.7" r="1.8" fill="#2a9a2a" opacity="0.3"/><circle cx="286.8" cy="265.3" r="1.4" fill="#2a9a2a" opacity="0.3"/><circle cx="257.0" cy="297.9" r="1.8" fill="#2a9a2a" opacity="0.3"/><circle cx="278.8" cy="301.6" r="1.6" fill="#2a9a2a" opacity="0.3"/><circle cx="293.1" cy="311.1" r="1.1" fill="#2a9a2a" opacity="0.3"/><circle cx="304.5" cy="299.5" r="1.2" fill="#2a9a2a" opacity="0.3"/><circle cx="265.7" cy="293.4" r="2.5" fill="#2a9a2a" opacity="0.3"/><circle cx="259.5" cy="289.8" r="2.4" fill="#2a9a2a" opacity="0.3"/><circle cx="293.5" cy="313.5" r="1.7" fill="#2a9a2a" opacity="0.3"/><circle cx="281.8" cy="266.9" r="2.2" fill="#2a9a2a" opacity="0.3"/><circle cx="295.3" cy="294.4" r="2.1" fill="#2a9a2a" opacity="0.3"/><circle cx="246.3" cy="310.7" r="2.6" fill="#2a9a2a" opacity="0.3"/><circle cx="308.2" cy="287.8" r="2.3" fill="#2a9a2a" opacity="0.3"/><circle cx="255.0" cy="311.3" r="2.4" fill="#2a9a2a" opacity="0.3"/><circle cx="257.2" cy="259.2" r="1.7" fill="#2a9a2a" opacity="0.3"/><circle cx="273.6" cy="302.4" r="1.8" fill="#2a9a2a" opacity="0.3"/><circle cx="231.3" cy="305.0" r="1.1" fill="#2a9a2a" opacity="0.3"/><circle cx="293.8" cy="264.9" r="1.5" fill="#2a9a2a" opacity="0.3"/><circle cx="292.8" cy="262.9" r="1.2" fill="#2a9a2a" opacity="0.3"/><circle cx="270.8" cy="299.6" r="2.3" fill="#2a9a2a" opacity="0.3"/><circle cx="284.8" cy="313.6" r="1.8" fill="#2a9a2a" opacity="0.3"/><ellipse cx="264" cy="291" rx="11" ry="8" fill="#0a400a" opacity="0.5"/><path d="M233.6,283.0 C238.8,273.0 253.1,264.3 266.1,264.3 C290.7,264.3 298.5,274.3 298.5,285.2 C298.5,303.6 282.3,308.0 269.3,308.0 C246.6,308.0 234.9,299.3 233.6,283.0Z" fill="none" stroke="url(#ringG)" stroke-width="1.8" opacity="1"/><path d="M236.0,284.0 C240.6,274.9 253.1,267.5 264.5,267.5 C286.2,267.5 293.0,276.6 293.0,285.9 C293.0,300.8 278.8,304.5 267.4,304.5 C247.4,304.5 237.1,297.1 236.0,284.0Z" fill="none" stroke="url(#ringG)" stroke-width="1.6" opacity="1"/><path d="M238.5,285.0 C242.5,277.0 253.3,271.0 263.2,271.0 C282.1,271.0 288.0,279.0 288.0,286.5 C288.0,298.0 275.6,301.0 265.7,301.0 C248.4,301.0 239.5,295.0 238.5,285.0Z" fill="none" stroke="url(#ringG)" stroke-width="1.5" opacity="0.9"/><path d="M242.0,286.0 C245.4,278.8 254.6,274.0 263.0,274.0 C279.0,274.0 284.0,281.2 284.0,287.2 C284.0,295.6 273.5,298.0 265.1,298.0 C250.4,298.0 242.8,293.2 242.0,286.0Z" fill="none" stroke="url(#ringG)" stroke-width="1.2" opacity="0.6"/><path d="M247.0,287.0 C249.6,280.6 256.9,277.0 263.5,277.0 C276.0,277.0 280.0,283.4 280.0,287.9 C280.0,293.2 271.8,295.0 265.1,295.0 C253.6,295.0 247.7,291.4 247.0,287.0Z" fill="none" stroke="url(#ringG)" stroke-width="1.0" opacity="0.5"/><path d="M252.0,288.0 C253.9,282.4 259.2,280.0 264.0,280.0 C273.1,280.0 276.0,285.6 276.0,288.6 C276.0,290.8 270.0,292.0 265.2,292.0 C256.8,292.0 252.5,289.6 252.0,288.0Z" fill="none" stroke="url(#ringG)" stroke-width="0.8" opacity="0.4"/><circle cx="242.4" cy="297.5" r="1.1" fill="#48f048" opacity="0.9"/><circle cx="267.8" cy="267.6" r="1.2" fill="#48f048" opacity="0.9"/><circle cx="294.4" cy="286.3" r="1.0" fill="#48f048" opacity="0.9"/><circle cx="248.1" cy="254.2" r="0.9" fill="#48f048" opacity="0.9"/><circle cx="276.4" cy="258.4" r="1.2" fill="#48f048" opacity="0.9"/><circle cx="247.8" cy="268.7" r="0.6" fill="#48f048" opacity="0.9"/><circle cx="309.8" cy="300.5" r="1.3" fill="#48f048" opacity="0.9"/><circle cx="278.9" cy="256.1" r="0.9" fill="#48f048" opacity="0.9"/><circle cx="269.3" cy="261.3" r="1.4" fill="#48f048" opacity="0.9"/><circle cx="258.8" cy="263.8" r="1.3" fill="#48f048" opacity="0.9"/><circle cx="239.1" cy="312.5" r="1.0" fill="#48f048" opacity="0.9"/><circle cx="273.7" cy="275.6" r="1.0" fill="#48f048" opacity="0.9"/><circle cx="244.1" cy="256.3" r="1.3" fill="#48f048" opacity="0.9"/><circle cx="248.0" cy="303.2" r="0.8" fill="#48f048" opacity="0.9"/><circle cx="307.5" cy="310.3" r="1.2" fill="#48f048" opacity="0.9"/><circle cx="290.8" cy="290.6" r="1.2" fill="#48f048" opacity="0.9"/><circle cx="238.9" cy="284.0" r="1.3" fill="#48f048" opacity="0.9"/><circle cx="245.3" cy="312.2" r="1.3" fill="#48f048" opacity="0.9"/><circle cx="262.2" cy="277.0" r="1.0" fill="#48f048" opacity="0.9"/><circle cx="260.2" cy="316.7" r="0.9" fill="#48f048" opacity="0.9"/><circle cx="231.2" cy="259.9" r="1.2" fill="#48f048" opacity="0.9"/><circle cx="309.4" cy="285.2" r="1.0" fill="#48f048" opacity="0.9"/><circle cx="273.6" cy="301.1" r="0.8" fill="#48f048" opacity="0.9"/><circle cx="278.3" cy="289.1" r="1.1" fill="#48f048" opacity="0.9"/><circle cx="243.6" cy="264.7" r="0.9" fill="#48f048" opacity="0.9"/><circle cx="304.1" cy="275.8" r="1.1" fill="#48f048" opacity="0.9"/><circle cx="253.8" cy="260.5" r="0.7" fill="#48f048" opacity="0.9"/><circle cx="294.9" cy="303.0" r="0.9" fill="#48f048" opacity="0.9"/><circle cx="284.4" cy="296.6" r="1.3" fill="#48f048" opacity="0.9"/><circle cx="306.6" cy="279.6" r="1.4" fill="#48f048" opacity="0.9"/><circle cx="306.9" cy="291.2" r="1.3" fill="#48f048" opacity="0.9"/><circle cx="268.8" cy="277.7" r="0.8" fill="#48f048" opacity="0.9"/><circle cx="300.0" cy="264.2" r="0.7" fill="#48f048" opacity="0.9"/><circle cx="294.2" cy="302.8" r="1.0" fill="#48f048" opacity="0.9"/><circle cx="296.8" cy="257.3" r="0.8" fill="#48f048" opacity="0.9"/><circle cx="252.5" cy="280.4" r="0.7" fill="#48f048" opacity="0.9"/><circle cx="234.6" cy="275.3" r="1.3" fill="#48f048" opacity="0.9"/><circle cx="308.7" cy="301.0" r="1.0" fill="#48f048" opacity="0.9"/><circle cx="249.4" cy="314.4" r="1.0" fill="#48f048" opacity="0.9"/><circle cx="288.0" cy="255.8" r="0.8" fill="#48f048" opacity="0.9"/><circle cx="296.9" cy="304.1" r="1.3" fill="#48f048" opacity="0.9"/><circle cx="277.7" cy="280.8" r="1.1" fill="#48f048" opacity="0.9"/><circle cx="297.8" cy="273.4" r="1.0" fill="#48f048" opacity="0.9"/><circle cx="251.4" cy="302.4" r="0.6" fill="#48f048" opacity="0.9"/><circle cx="284.5" cy="314.1" r="0.6" fill="#48f048" opacity="0.9"/><circle cx="238" cy="259" r="1.5" fill="#50ff50"/><circle cx="300" cy="258" r="1.4" fill="#50ff50"/><circle cx="306" cy="262" r="1.6" fill="#50ff50"/><circle cx="303" cy="276" r="1.5" fill="#50ff50"/><circle cx="280" cy="306" r="1.6" fill="#50ff50"/><circle cx="240" cy="312" r="1.5" fill="#50ff50"/><circle cx="234" cy="302" r="1.8" fill="#50ff50"/><circle cx="265.6" cy="282.4" r="1.8" fill="#50ff50"/><circle cx="309" cy="290" r="1.2" fill="#50ff50"/><circle cx="232" cy="268" r="1.3" fill="#50ff50"/></g>
<g id="disks"><circle cx="378" cy="270.3" r="55" fill="url(#diskG)"/><path d="M379.0,268.5 L379.1,268.4 L379.1,268.4 L379.2,268.4 L379.3,268.3 L379.4,268.3 L379.4,268.3 L379.5,268.3 L379.6,268.3 L379.7,268.3 L379.8,268.3 L379.9,268.4 L380.0,268.4 L380.1,268.4 L380.1,268.5 L380.2,268.6 L380.3,268.7 L380.4,268.7 L380.4,268.8 L380.5,268.9 L380.5,269.1 L380.6,269.2 L380.6,269.3 L380.6,269.4 L380.6,269.6 L380.6,269.7 L380.6,269.9 L380.6,270.0 L380.6,270.2 L380.5,270.3 L380.5,270.4 L380.4,270.6 L380.3,270.7 L380.2,270.9 L380.1,271.0 L380.0,271.2 L379.8,271.3 L379.7,271.4 L379.5,271.5 L379.4,271.6 L379.2,271.7 L379.0,271.8 L378.8,271.9 L378.6,272.0 L378.4,272.0 L378.2,272.1 L378.0,272.1 L377.7,272.1 L377.5,272.1 L377.2,272.1 L377.0,272.0 L376.8,272.0 L376.5,271.9 L376.3,271.8 L376.0,271.7 L375.8,271.6 L375.6,271.4 L375.3,271.3 L375.1,271.1 L374.9,270.9 L374.7,270.7 L374.5,270.5 L374.3,270.3 L374.1,270.0 L374.0,269.8 L373.8,269.5 L373.7,269.2 L373.6,268.9 L373.5,268.6 L373.4,268.3 L373.4,267.9 L373.3,267.6 L373.3,267.2 L373.3,266.9 L373.3,266.5 L373.4,266.2 L373.5,265.8 L373.5,265.5 L373.7,265.1 L373.8,264.8 L374.0,264.4 L374.1,264.1 L374.4,263.8 L374.6,263.4 L374.8,263.1 L375.1,262.8 L375.4,262.5 L375.7,262.3 L376.0,262.0 L376.4,261.8 L376.8,261.6 L377.1,261.4 L377.5,261.2 L378.0,261.0 L378.4,260.9 L378.8,260.8 L379.3,260.7 L379.7,260.7 L380.2,260.7 L380.7,260.7 L381.1,260.7 L381.6,260.7 L382.1,260.8 L382.5,260.9 L383.0,261.1 L383.5,261.3 L383.9,261.5 L384.4,261.7 L384.8,262.0 L385.2,262.3 L385.7,262.6 L386.0,262.9 L386.4,263.3 L386.8,263.7 L387.1,264.1 L387.4,264.5 L387.7,265.0 L388.0,265.5 L388.2,266.0 L388.4,266.5 L388.6,267.1 L388.8,267.6 L388.9,268.2 L389.0,268.7 L389.0,269.3 L389.0,269.9 L389.0,270.5 L389.0,271.1 L388.9,271.7 L388.7,272.3 L388.6,272.9 L388.4,273.5 L388.1,274.0 L387.9,274.6 L387.6,275.2 L387.2,275.7 L386.9,276.2 L386.5,276.7 L386.0,277.2 L385.6,277.7 L385.1,278.1 L384.5,278.5 L384.0,278.9 L383.4,279.2 L382.8,279.5 L382.2,279.8 L381.5,280.0 L380.9,280.3 L380.2,280.4 L379.5,280.6 L378.8,280.6 L378.1,280.7 L377.4,280.7 L376.7,280.7 L376.0,280.6 L375.3,280.5 L374.5,280.3 L373.8,280.1 L373.1,279.9 L372.4,279.6 L371.8,279.3 L371.1,278.9 L370.5,278.5 L369.9,278.0 L369.3,277.5 L368.7,277.0 L368.2,276.4 L367.6,275.8 L367.2,275.2 L366.7,274.6 L366.3,273.9 L366.0,273.2 L365.6,272.4 L365.3,271.7 L365.1,270.9 L364.9,270.1 L364.8,269.3 L364.7,268.4 L364.6,267.6 L364.6,266.8 L364.6,265.9 L364.7,265.1 L364.9,264.2 L365.1,263.4 L365.3,262.6 L365.6,261.8 L366.0,261.0 L366.3,260.2 L366.8,259.4 L367.3,258.7 L367.8,257.9 L368.4,257.3 L369.0,256.6 L369.6,256.0 L370.3,255.4 L371.1,254.8 L371.8,254.3 L372.6,253.9 L373.5,253.5 L374.3,253.1 L375.2,252.8 L376.1,252.5 L377.0,252.3 L377.9,252.1 L378.9,252.0 L379.9,251.9 L380.8,251.9 L381.8,252.0 L382.8,252.1 L383.7,252.2 L384.7,252.5 L385.6,252.7 L386.6,253.1 L387.5,253.5 L388.4,253.9 L389.3,254.4 L390.1,255.0 L390.9,255.6 L391.7,256.2 L392.5,256.9 L393.2,257.7 L393.8,258.5 L394.5,259.3 L395.0,260.2 L395.6,261.1 L396.0,262.0 L396.5,263.0 L396.8,264.0 L397.1,265.0 L397.4,266.1 L397.6,267.1 L397.7,268.2 L397.8,269.3 L397.8,270.4 L397.7,271.5 L397.6,272.6 L397.4,273.7 L397.2,274.7 L396.8,275.8 L396.5,276.9 L396.0,277.9 L395.5,278.9 L395.0,279.9 L394.3,280.8 L393.7,281.8 L392.9,282.6 L392.1,283.5 L391.3,284.3 L390.4,285.0 L389.5,285.7 L388.5,286.4 L387.5,287.0 L386.4,287.5 L385.4,288.0 L384.2,288.4 L383.1,288.7 L381.9,289.0 L380.7,289.2 L379.5,289.4 L378.3,289.5 L377.1,289.5 L375.9,289.4 L374.7,289.3 L373.5,289.1 L372.3,288.8 L371.1,288.4 L369.9,288.0 L368.7,287.5 L367.6,287.0 L366.5,286.4 L365.5,285.7 L364.4,284.9 L363.5,284.1 L362.5,283.2 L361.6,282.3 L360.8,281.3 L360.0,280.3 L359.3,279.2 L358.6,278.1 L358.0,276.9 L357.5,275.7 L357.0,274.5 L356.7,273.3 L356.3,272.0 L356.1,270.7 L355.9,269.3 L355.8,268.0 L355.8,266.7 L355.9,265.3 L356.0,264.0 L356.3,262.6 L356.6,261.3 L356.9,260.0 L357.4,258.7 L357.9,257.4 L358.5,256.2 L359.2,255.0 L360.0,253.8 L360.8,252.7 L361.7,251.6 L362.6,250.6 L363.6,249.6 L364.7,248.7 L365.8,247.8 L367.0,247.0 L368.2,246.3 L369.5,245.6 L370.8,245.0 L372.2,244.5 L373.5,244.1 L375.0,243.7 L376.4,243.4 L377.8,243.3 L379.3,243.1 L380.8,243.1 L382.2,243.2 L383.7,243.3 L385.2,243.6 L386.6,243.9 L388.1,244.3 L389.5,244.8 L390.9,245.4 L392.2,246.0 L393.5,246.8 L394.8,247.6 L396.1,248.5 L397.2,249.4 L398.4,250.4 L399.5,251.5 L400.5,252.7 L401.4,253.9 L402.3,255.2 L403.1,256.5 L403.8,257.9 L404.5,259.3 L405.0,260.8 L405.5,262.3 L405.9,263.8 L406.2,265.4 L406.4,267.0 L406.5,268.5 L406.6,270.1 L406.5,271.7 L406.4,273.3 L406.1,274.9 L405.8,276.5 L405.3,278.1 L404.8,279.6 L404.2,281.1 L403.5,282.6 L402.7,284.0 L401.9,285.4 L400.9,286.8 L399.9,288.0 L398.8,289.3 L397.6,290.4 L396.3,291.6 L395.0,292.6 L393.6,293.5 L392.2,294.4 L390.7,295.2 L389.2,295.9 L387.6,296.5 L386.0,297.1 L384.3,297.5 L382.7,297.8 L381.0,298.1 L379.3,298.2 L377.5,298.3 L375.8,298.2 L374.1,298.1 L372.4,297.8 L370.7,297.5 L369.0,297.0 L367.3,296.4 L365.7,295.8 L364.1,295.1 L362.5,294.2 L361.0,293.3 L359.6,292.3 L358.2,291.2 L356.8,290.0 L355.6,288.7 L354.4,287.4 L353.3,286.0 L352.2,284.5 L351.3,283.0 L350.4,281.4 L349.6,279.7 L349.0,278.0 L348.4,276.3 L347.9,274.5 L347.5,272.8 L347.3,270.9 L347.1,269.1 L347.0,267.2 L347.1,265.4 L347.2,263.5 L347.5,261.7 L347.9,259.9 L348.3,258.1 L348.9,256.3 L349.6,254.5 L350.4,252.8 L351.3,251.1 L352.2,249.5 L353.3,248.0 L354.5,246.4 L355.8,245.0 L357.1,243.6 L358.5,242.4 L360.0,241.2 L361.6,240.0 L363.2,239.0 L364.9,238.1 L366.7,237.2 L368.5,236.5 L370.3,235.9 L372.2,235.3 L374.1,234.9 L376.1,234.6 L378.0,234.4 L380.0,234.3 L382.0,234.4 L384.0,234.5 L385.9,234.8 L387.9,235.2 L389.8,235.6 L391.7,236.3 L393.6,237.0 L395.4,237.8 L397.2,238.7 L399.0,239.8 L400.6,240.9 L402.3,242.1 L403.8,243.5 L405.3,244.9 L406.6,246.4 L407.9,248.0 L409.1,249.6 L410.3,251.4 L411.3,253.2 L412.2,255.0 L413.0,256.9 L413.7,258.9 L414.2,260.9 L414.7,262.9 L415.0,265.0 L415.3,267.1 L415.4,269.2 L415.3,271.3 L415.2,273.4 L414.9,275.5 L414.6,277.6 L414.0,279.6 L413.4,281.7 L412.7,283.7 L411.8,285.6 L410.8,287.5 L409.7,289.4 L408.6,291.2 L407.3,292.9 L405.9,294.6 L404.4,296.1 L402.8,297.6 L401.1,299.0 L399.3,300.3 L397.5,301.5 L395.6,302.6 L393.6,303.6 L391.6,304.4 L389.5,305.2 L387.4,305.8 L385.3,306.3 L383.1,306.7 L380.9,306.9 L378.7,307.1 L376.4,307.1 L374.2,306.9 L372.0,306.7 L369.8,306.3 L367.6,305.7 L365.4,305.1 L363.3,304.3 L361.2,303.4 L359.2,302.4 L357.2,301.3 L355.3,300.0 L353.5,298.7 L351.7,297.2 L350.0,295.6 L348.4,294.0 L347.0,292.2 L345.6,290.4 L344.3,288.4 L343.1,286.4 L342.1,284.4 L341.2,282.2 L340.3,280.0 L339.7,277.8 L339.1,275.5" fill="none" stroke="#1f6c8c" stroke-width="2.1"/><g opacity="0.88"><circle cx="378" cy="357.6" r="55" fill="url(#diskG)"/><path d="M379.0,356.0 L379.1,356.1 L379.1,356.1 L379.2,356.1 L379.3,356.2 L379.4,356.2 L379.5,356.2 L379.5,356.2 L379.6,356.2 L379.7,356.2 L379.8,356.2 L379.9,356.2 L380.0,356.1 L380.1,356.1 L380.2,356.0 L380.3,355.9 L380.3,355.8 L380.4,355.7 L380.5,355.6 L380.5,355.5 L380.6,355.4 L380.6,355.3 L380.6,355.2 L380.7,355.0 L380.7,354.9 L380.7,354.7 L380.7,354.6 L380.6,354.4 L380.6,354.3 L380.6,354.1 L380.5,354.0 L380.4,353.8 L380.3,353.7 L380.2,353.5 L380.1,353.4 L380.0,353.2 L379.9,353.1 L379.7,353.0 L379.6,352.9 L379.4,352.7 L379.2,352.6 L379.0,352.6 L378.8,352.5 L378.6,352.4 L378.4,352.4 L378.1,352.3 L377.9,352.3 L377.7,352.3 L377.4,352.3 L377.2,352.3 L376.9,352.3 L376.7,352.4 L376.4,352.5 L376.2,352.6 L375.9,352.7 L375.7,352.8 L375.4,352.9 L375.2,353.1 L375.0,353.3 L374.7,353.5 L374.5,353.7 L374.3,353.9 L374.1,354.2 L373.9,354.4 L373.8,354.7 L373.6,355.0 L373.5,355.3 L373.4,355.6 L373.3,355.9 L373.2,356.3 L373.2,356.6 L373.1,356.9 L373.1,357.3 L373.1,357.7 L373.1,358.0 L373.2,358.4 L373.2,358.8 L373.3,359.1 L373.5,359.5 L373.6,359.9 L373.8,360.2 L374.0,360.6 L374.2,360.9 L374.4,361.3 L374.7,361.6 L375.0,361.9 L375.3,362.2 L375.6,362.5 L375.9,362.7 L376.3,363.0 L376.7,363.2 L377.1,363.4 L377.5,363.6 L377.9,363.7 L378.4,363.9 L378.8,364.0 L379.3,364.1 L379.7,364.1 L380.2,364.1 L380.7,364.1 L381.2,364.1 L381.7,364.0 L382.2,364.0 L382.7,363.8 L383.2,363.7 L383.6,363.5 L384.1,363.3 L384.6,363.0 L385.0,362.8 L385.5,362.5 L385.9,362.1 L386.3,361.8 L386.7,361.4 L387.1,361.0 L387.4,360.6 L387.7,360.1 L388.0,359.6 L388.3,359.1 L388.6,358.6 L388.8,358.1 L389.0,357.5 L389.1,356.9 L389.2,356.3 L389.3,355.8 L389.4,355.1 L389.4,354.5 L389.4,353.9 L389.3,353.3 L389.2,352.7 L389.1,352.1 L388.9,351.5 L388.7,350.9 L388.5,350.3 L388.2,349.7 L387.9,349.1 L387.5,348.5 L387.2,348.0 L386.7,347.5 L386.3,347.0 L385.8,346.5 L385.3,346.1 L384.7,345.6 L384.2,345.3 L383.6,344.9 L383.0,344.6 L382.3,344.3 L381.6,344.0 L381.0,343.8 L380.3,343.6 L379.5,343.5 L378.8,343.4 L378.1,343.3 L377.4,343.3 L376.6,343.4 L375.9,343.5 L375.1,343.6 L374.4,343.7 L373.6,344.0 L372.9,344.2 L372.2,344.5 L371.5,344.8 L370.8,345.2 L370.2,345.7 L369.5,346.1 L368.9,346.6 L368.3,347.2 L367.7,347.8 L367.2,348.4 L366.7,349.0 L366.3,349.7 L365.9,350.4 L365.5,351.2 L365.1,351.9 L364.8,352.7 L364.6,353.5 L364.4,354.4 L364.2,355.2 L364.1,356.1 L364.1,356.9 L364.1,357.8 L364.1,358.7 L364.2,359.5 L364.4,360.4 L364.6,361.3 L364.8,362.1 L365.1,363.0 L365.5,363.8 L365.9,364.6 L366.3,365.4 L366.8,366.2 L367.4,366.9 L368.0,367.7 L368.6,368.3 L369.3,369.0 L370.0,369.6 L370.8,370.2 L371.6,370.7 L372.4,371.2 L373.3,371.6 L374.1,372.0 L375.0,372.3 L376.0,372.6 L376.9,372.8 L377.9,373.0 L378.9,373.1 L379.9,373.2 L380.9,373.2 L381.9,373.1 L382.9,373.0 L383.9,372.9 L384.9,372.6 L385.9,372.3 L386.8,372.0 L387.8,371.6 L388.7,371.1 L389.6,370.6 L390.5,370.0 L391.4,369.4 L392.2,368.7 L393.0,368.0 L393.7,367.2 L394.4,366.4 L395.0,365.5 L395.6,364.6 L396.2,363.7 L396.7,362.7 L397.1,361.7 L397.5,360.7 L397.8,359.6 L398.1,358.5 L398.3,357.4 L398.4,356.3 L398.5,355.2 L398.5,354.1 L398.4,352.9 L398.3,351.8 L398.1,350.7 L397.8,349.5 L397.5,348.4 L397.1,347.3 L396.7,346.3 L396.1,345.2 L395.5,344.2 L394.9,343.2 L394.2,342.3 L393.4,341.3 L392.6,340.5 L391.8,339.6 L390.8,338.9 L389.9,338.1 L388.9,337.5 L387.8,336.8 L386.7,336.3 L385.6,335.8 L384.4,335.4 L383.2,335.0 L382.0,334.7 L380.8,334.5 L379.6,334.3 L378.3,334.3 L377.1,334.2 L375.8,334.3 L374.5,334.5 L373.3,334.7 L372.0,335.0 L370.8,335.3 L369.6,335.7 L368.4,336.3 L367.2,336.8 L366.1,337.5 L365.0,338.2 L363.9,339.0 L362.9,339.8 L361.9,340.7 L361.0,341.7 L360.1,342.7 L359.3,343.8 L358.6,344.9 L357.9,346.0 L357.3,347.2 L356.7,348.5 L356.2,349.8 L355.8,351.1 L355.5,352.4 L355.2,353.8 L355.1,355.1 L355.0,356.5 L355.0,357.9 L355.0,359.3 L355.2,360.7 L355.4,362.1 L355.7,363.5 L356.1,364.8 L356.6,366.2 L357.1,367.5 L357.8,368.8 L358.5,370.0 L359.3,371.2 L360.1,372.4 L361.0,373.5 L362.0,374.6 L363.1,375.6 L364.2,376.6 L365.3,377.5 L366.6,378.3 L367.8,379.1 L369.2,379.7 L370.5,380.4 L371.9,380.9 L373.3,381.3 L374.8,381.7 L376.3,382.0 L377.8,382.2 L379.3,382.3 L380.8,382.3 L382.4,382.2 L383.9,382.1 L385.4,381.8 L386.9,381.5 L388.4,381.1 L389.9,380.6 L391.3,380.0 L392.7,379.3 L394.1,378.6 L395.4,377.7 L396.7,376.8 L397.9,375.8 L399.1,374.7 L400.2,373.6 L401.3,372.4 L402.2,371.1 L403.1,369.8 L404.0,368.4 L404.7,367.0 L405.4,365.5 L406.0,364.0 L406.5,362.4 L406.9,360.8 L407.2,359.2 L407.4,357.6 L407.6,356.0 L407.6,354.3 L407.5,352.6 L407.4,351.0 L407.1,349.3 L406.8,347.7 L406.3,346.1 L405.8,344.5 L405.1,342.9 L404.4,341.4 L403.6,339.9 L402.7,338.5 L401.7,337.1 L400.6,335.7 L399.5,334.4 L398.3,333.2 L397.0,332.1 L395.6,331.0 L394.2,330.0 L392.7,329.1 L391.1,328.3 L389.6,327.6 L387.9,326.9 L386.2,326.4 L384.5,325.9 L382.8,325.6 L381.0,325.3 L379.3,325.2 L377.5,325.1 L375.7,325.2 L373.9,325.3 L372.1,325.6 L370.4,326.0 L368.6,326.4 L366.9,327.0 L365.2,327.7 L363.5,328.5 L361.9,329.3 L360.4,330.3 L358.9,331.3 L357.4,332.5 L356.0,333.7 L354.7,335.0 L353.5,336.4 L352.3,337.9 L351.2,339.4 L350.3,341.0 L349.4,342.6 L348.6,344.3 L347.9,346.1 L347.3,347.9 L346.8,349.7 L346.4,351.6 L346.1,353.5 L345.9,355.4 L345.8,357.3 L345.9,359.2 L346.1,361.1 L346.3,363.1 L346.7,364.9 L347.2,366.8 L347.8,368.7 L348.5,370.5 L349.3,372.3 L350.2,374.0 L351.3,375.7 L352.4,377.3 L353.6,378.9 L354.9,380.4 L356.3,381.8 L357.8,383.1 L359.3,384.4 L360.9,385.5 L362.6,386.6 L364.4,387.6 L366.2,388.4 L368.1,389.2 L370.0,389.9 L371.9,390.4 L373.9,390.8 L375.9,391.1 L378.0,391.3 L380.0,391.4 L382.1,391.4 L384.1,391.2 L386.2,391.0 L388.2,390.6 L390.2,390.1 L392.2,389.4 L394.1,388.7 L396.0,387.8 L397.9,386.9 L399.7,385.8 L401.4,384.6 L403.1,383.3 L404.7,382.0 L406.2,380.5 L407.7,378.9 L409.0,377.3 L410.3,375.6 L411.4,373.8 L412.5,371.9 L413.4,370.0 L414.2,368.0 L414.9,365.9 L415.5,363.9 L416.0,361.8 L416.4,359.6 L416.6,357.5 L416.7,355.3 L416.7,353.1 L416.5,350.9 L416.3,348.7 L415.9,346.6 L415.3,344.4 L414.7,342.3 L413.9,340.3 L413.0,338.2 L412.0,336.2 L410.9,334.3 L409.6,332.5 L408.3,330.7 L406.8,329.0 L405.3,327.3 L403.7,325.8 L401.9,324.4 L400.1,323.0 L398.2,321.8 L396.2,320.7 L394.2,319.6 L392.1,318.8 L389.9,318.0 L387.7,317.3 L385.5,316.8 L383.2,316.4 L380.9,316.1 L378.6,316.0 L376.3,316.0 L374.0,316.2 L371.7,316.4 L369.4,316.8 L367.1,317.4 L364.9,318.0 L362.7,318.8 L360.5,319.8 L358.4,320.8 L356.4,322.0 L354.4,323.3 L352.5,324.7 L350.7,326.2 L349.0,327.9 L347.3,329.6 L345.8,331.4 L344.3,333.3 L343.0,335.3 L341.8,337.4 L340.7,339.6 L339.8,341.8 L338.9,344.0 L338.2,346.3 L337.6,348.7" fill="none" stroke="#1f6c8c" stroke-width="2.1"/></g><g fill="#2a2a50" stroke="#2a2a50" stroke-width="1.4" opacity="0.55">
    <text x="355.6" y="274.4" font-size="21">Front</text>
    <text x="358.1" y="366.2" font-size="20.5">Back</text>
  </g>
  <g fill="#ffff00" stroke="#ffff00" stroke-width="0.9">
    <text x="355" y="273.8" font-size="21">Front</text>
    <text x="357.5" y="365.6" font-size="20.5">Back</text>
  </g></g>
<g id="chart"><rect x="432.6" y="254.5" width="197.4" height="160.5" fill="#f6f6f6"/><rect x="462" y="254.8" width="160" height="133.7" fill="#fbfbfb" stroke="#6a6a6a" stroke-width="0.9"/><path d="M462 254.8V388.5H622" fill="none" stroke="#444" stroke-width="1"/><path d="M462 322H622" stroke="#333" stroke-width="0.9" stroke-dasharray="3 1.5 1 1.5"/><path d="M462.0,387.0 L462.4,385.1 L462.9,382.5 L463.5,379.5 L464.2,376.1 L464.9,372.5 L465.6,368.8 L466.3,365.3 L467.0,362.0 L467.6,358.9 L468.3,355.7 L468.9,352.5 L469.5,349.4 L470.2,346.2 L470.8,343.1 L471.4,340.0 L472.0,337.0 L472.6,334.0 L473.2,330.9 L473.7,327.9 L474.3,324.9 L474.9,322.0 L475.4,319.2 L476.0,316.5 L476.5,314.0 L477.0,311.6 L477.5,309.4 L478.0,307.3 L478.5,305.2 L479.0,303.3 L479.5,301.5 L480.0,299.7 L480.5,298.0 L481.0,296.3 L481.5,294.7 L482.0,293.2 L482.5,291.8 L483.0,290.4 L483.5,289.2 L484.0,288.0 L484.5,287.0 L485.0,286.1 L485.5,285.3 L486.0,284.7 L486.5,284.1 L487.0,283.6 L487.5,283.2 L488.0,282.9 L488.5,282.7 L489.0,282.6 L489.4,282.5 L489.8,282.5 L490.2,282.6 L490.6,282.8 L491.0,283.1 L491.5,283.5 L492.0,284.0 L492.6,284.6 L493.1,285.3 L493.8,286.2 L494.4,287.1 L495.1,288.1 L495.7,289.1 L496.4,290.1 L497.0,291.0 L497.6,292.0 L498.3,293.0 L498.9,294.0 L499.6,295.1 L500.2,296.1 L500.9,297.0 L501.4,297.8 L502.0,298.5 L502.5,299.0 L503.0,299.4 L503.4,299.6 L503.9,299.8 L504.3,299.9 L504.7,300.0 L505.1,300.0 L505.5,300.0 L505.9,299.9 L506.3,299.8 L506.7,299.5 L507.0,299.3 L507.4,299.0 L507.8,298.8 L508.1,298.6 L508.5,298.5 L508.9,298.5 L509.2,298.6 L509.6,298.8 L509.9,299.0 L510.3,299.2 L510.6,299.4 L511.1,299.5 L511.5,299.5 L512.0,299.4 L512.5,299.2 L513.0,299.0 L513.6,298.8 L514.1,298.5 L514.7,298.1 L515.4,297.8 L516.0,297.5 L516.7,297.2 L517.3,296.8 L518.1,296.4 L518.8,296.0 L519.5,295.6 L520.3,295.2 L521.1,294.8 L522.0,294.5 L522.9,294.2 L523.8,293.9 L524.7,293.6 L525.7,293.4 L526.7,293.1 L527.7,292.9 L528.8,292.7 L530.0,292.5 L531.2,292.3 L532.5,292.1 L533.8,292.0 L535.1,291.8 L536.5,291.6 L538.0,291.5 L539.5,291.4 L541.0,291.3 L542.6,291.2 L544.3,291.2 L546.0,291.1 L547.8,291.1 L549.5,291.1 L551.4,291.1 L553.2,291.0 L555.0,291.0 L556.8,290.9 L558.7,290.9 L560.6,290.8 L562.4,290.7 L564.3,290.6 L566.2,290.6 L568.1,290.5 L570.0,290.5 L571.9,290.5 L573.9,290.5 L575.8,290.6 L577.8,290.7 L579.7,290.7 L581.6,290.8 L583.4,290.9 L585.0,291.0 L586.5,291.1 L587.9,291.2 L589.3,291.3 L590.6,291.4 L591.8,291.6 L592.9,291.7 L594.0,291.8 L595.0,292.0 L595.9,292.2 L596.7,292.4 L597.4,292.6 L598.1,292.9 L598.7,293.1 L599.4,293.3 L600.1,293.4 L601.0,293.5 L602.0,293.5 L603.0,293.4 L604.0,293.3 L605.1,293.1 L606.3,292.9 L607.5,292.8 L608.7,292.6 L610.0,292.5 L611.4,292.4 L613.1,292.3 L614.8,292.3 L616.6,292.2 L618.2,292.1 L619.8,292.1 L621.1,292.0 L622.0,292.0" fill="none" stroke="#f030f0" stroke-width="1.5"/><path d="M462.0,267.3 L462.3,268.9 L462.7,271.1 L463.2,273.7 L463.8,276.5 L464.3,279.5 L464.9,282.5 L465.5,285.4 L466.0,288.0 L466.5,290.4 L467.0,292.7 L467.5,295.0 L468.0,297.3 L468.5,299.5 L469.0,301.7 L469.5,303.9 L470.0,306.0 L470.5,308.1 L471.0,310.1 L471.5,312.1 L472.0,314.1 L472.5,316.1 L473.0,318.0 L473.5,320.0 L474.0,322.0 L474.5,324.0 L474.9,326.0 L475.3,328.0 L475.8,330.1 L476.2,332.1 L476.6,334.1 L477.1,336.0 L477.5,338.0 L477.9,340.0 L478.4,341.9 L478.8,343.9 L479.2,345.8 L479.7,347.7 L480.1,349.6 L480.6,351.3 L481.0,353.0 L481.4,354.6 L481.9,356.1 L482.3,357.5 L482.8,358.9 L483.2,360.2 L483.6,361.4 L484.1,362.5 L484.5,363.5 L484.9,364.4 L485.4,365.3 L485.8,366.0 L486.2,366.7 L486.7,367.3 L487.1,367.7 L487.5,368.1 L488.0,368.3 L488.5,368.4 L488.9,368.4 L489.4,368.2 L489.9,368.0 L490.4,367.6 L490.9,367.1 L491.4,366.6 L492.0,366.0 L492.6,365.3 L493.2,364.4 L493.8,363.4 L494.4,362.4 L495.1,361.3 L495.7,360.1 L496.4,359.0 L497.0,358.0 L497.6,357.0 L498.2,355.9 L498.8,354.9 L499.4,353.9 L500.0,352.8 L500.6,351.8 L501.3,350.9 L502.0,350.0 L502.8,349.2 L503.6,348.3 L504.5,347.6 L505.4,346.8 L506.3,346.1 L507.1,345.4 L508.0,344.8 L508.8,344.3 L509.5,343.8 L510.2,343.5 L510.8,343.2 L511.4,342.9 L512.0,342.7 L512.7,342.4 L513.5,342.2 L514.4,341.8 L515.5,341.4 L516.6,340.9 L517.9,340.5 L519.2,340.0 L520.6,339.5 L522.0,339.0 L523.5,338.5 L525.0,338.0 L526.6,337.5 L528.2,336.9 L529.9,336.3 L531.7,335.7 L533.5,335.1 L535.2,334.7 L536.9,334.3 L538.5,334.1 L540.0,334.0 L541.5,334.1 L542.9,334.3 L544.3,334.6 L545.7,334.9 L547.1,335.3 L548.5,335.7 L550.0,336.0 L551.5,336.4 L553.1,336.9 L554.8,337.4 L556.4,337.9 L558.1,338.4 L559.6,338.9 L561.2,339.2 L562.6,339.4 L563.9,339.4 L565.2,339.3 L566.4,339.1 L567.6,338.8 L568.8,338.4 L569.9,338.1 L570.9,337.8 L572.0,337.5 L573.0,337.3 L573.9,337.0 L574.8,336.7 L575.6,336.4 L576.5,336.1 L577.4,335.9 L578.3,335.8 L579.4,335.8 L580.6,335.9 L581.8,336.1 L583.1,336.3 L584.5,336.6 L585.9,337.0 L587.2,337.3 L588.6,337.7 L590.0,338.0 L591.4,338.3 L592.8,338.7 L594.2,339.1 L595.6,339.5 L597.0,339.9 L598.4,340.2 L599.7,340.5 L601.0,340.6 L602.2,340.6 L603.3,340.4 L604.4,340.2 L605.4,339.9 L606.5,339.6 L607.6,339.4 L608.7,339.1 L610.0,339.0 L611.4,339.0 L613.1,339.0 L614.8,339.1 L616.6,339.1 L618.2,339.3 L619.8,339.4 L621.1,339.4 L622.0,339.5" fill="none" stroke="#30e030" stroke-width="1.5"/><path d="M462.0 388.5V385.5" stroke="#606060" stroke-width="0.75"/><path d="M475.3 388.5V386.5" stroke="#606060" stroke-width="0.75"/><path d="M488.7 388.5V385.5" stroke="#606060" stroke-width="0.75"/><path d="M502.0 388.5V386.5" stroke="#606060" stroke-width="0.75"/><path d="M515.3 388.5V385.5" stroke="#606060" stroke-width="0.75"/><path d="M528.7 388.5V386.5" stroke="#606060" stroke-width="0.75"/><path d="M542.0 388.5V385.5" stroke="#606060" stroke-width="0.75"/><path d="M555.3 388.5V386.5" stroke="#606060" stroke-width="0.75"/><path d="M568.7 388.5V385.5" stroke="#606060" stroke-width="0.75"/><path d="M582.0 388.5V386.5" stroke="#606060" stroke-width="0.75"/><path d="M595.3 388.5V385.5" stroke="#606060" stroke-width="0.75"/><path d="M608.7 388.5V386.5" stroke="#606060" stroke-width="0.75"/><path d="M622.0 388.5V385.5" stroke="#606060" stroke-width="0.75"/><path d="M462 270.4H465" stroke="#606060" stroke-width="0.75"/><path d="M462 296.2H465" stroke="#606060" stroke-width="0.75"/><path d="M462 322H465" stroke="#606060" stroke-width="0.75"/><path d="M462 347.8H465" stroke="#606060" stroke-width="0.75"/><path d="M462 373.6H465" stroke="#606060" stroke-width="0.75"/><g font-size="9.3" fill="#222" text-anchor="middle"><text x="462.0" y="400">200</text><text x="488.7" y="400">210</text><text x="515.3" y="400">220</text><text x="542.0" y="400">230</text><text x="568.7" y="400">240</text><text x="595.3" y="400">250</text><text x="622.0" y="400">260</text></g><g font-size="9.5" fill="#222" text-anchor="end"><text x="458.8" y="273.8">1</text><text x="458.8" y="325.3">0</text><text x="459.2" y="377.3">-1</text></g><text x="502.3" y="411.6" font-size="12.3" style="font-weight:normal" fill="#222">Wavelength (nm)</text><text transform="translate(446.6 359.2) rotate(-90)" font-size="13.6" style="font-weight:normal" fill="#222">CD (mdeg)</text><text x="552.8" y="283" font-size="14.6" style="font-weight:normal" fill="#f030f0">Front</text><text x="553.6" y="356.4" font-size="14.4" style="font-weight:normal" fill="#30e030">Back</text></g>
</svg>
</body></html>
